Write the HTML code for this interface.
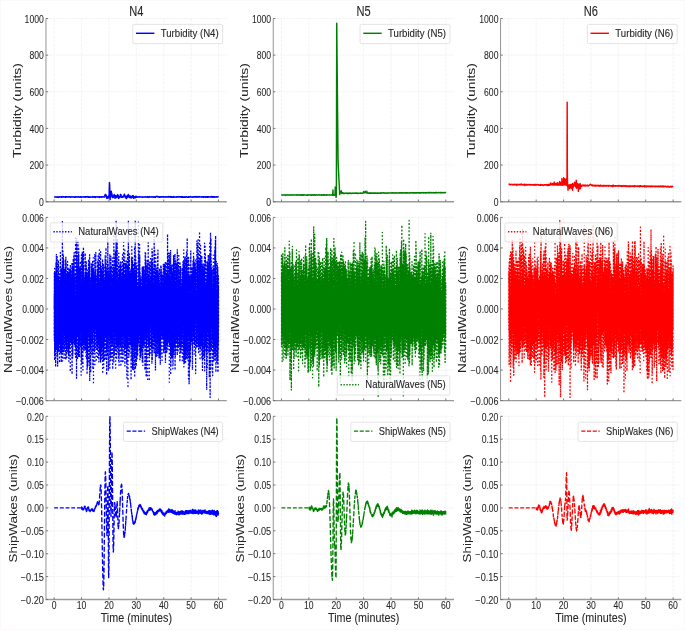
<!DOCTYPE html>
<html><head><meta charset="utf-8"><style>
html,body{margin:0;padding:0;background:#fff;}
body{width:685px;height:630px;overflow:hidden;font-family:"Liberation Sans",sans-serif;}
svg{display:block;filter:blur(0.5px);}
</style></head><body>
<svg width="685" height="630" viewBox="0 0 685 630" font-family="Liberation Sans, sans-serif">
<rect x="0" y="0" width="685" height="630" fill="#ffffff"/>
<rect x="0.5" y="0.5" width="684" height="629" fill="none" stroke="#faf8f8" stroke-width="1"/>
<defs>
<clipPath id="cp00"><rect x="58.99" y="18.5" width="232.09" height="183.2"/></clipPath>
<clipPath id="cp01"><rect x="350.77" y="18.5" width="232.09" height="183.2"/></clipPath>
<clipPath id="cp02"><rect x="642.55" y="18.5" width="232.09" height="183.2"/></clipPath>
<clipPath id="cp10"><rect x="58.99" y="217.4" width="232.09" height="183.2"/></clipPath>
<clipPath id="cp11"><rect x="350.77" y="217.4" width="232.09" height="183.2"/></clipPath>
<clipPath id="cp12"><rect x="642.55" y="217.4" width="232.09" height="183.2"/></clipPath>
<clipPath id="cp20"><rect x="58.99" y="416.3" width="232.09" height="183.2"/></clipPath>
<clipPath id="cp21"><rect x="350.77" y="416.3" width="232.09" height="183.2"/></clipPath>
<clipPath id="cp22"><rect x="642.55" y="416.3" width="232.09" height="183.2"/></clipPath>
<clipPath id="cq00"><rect x="45.95" y="18.5" width="180.8" height="183.2"/></clipPath>
<clipPath id="cq01"><rect x="273.25" y="18.5" width="180.8" height="183.2"/></clipPath>
<clipPath id="cq02"><rect x="500.55" y="18.5" width="180.8" height="183.2"/></clipPath>
<clipPath id="cq10"><rect x="45.95" y="217.4" width="180.8" height="183.2"/></clipPath>
<clipPath id="cq11"><rect x="273.25" y="217.4" width="180.8" height="183.2"/></clipPath>
<clipPath id="cq12"><rect x="500.55" y="217.4" width="180.8" height="183.2"/></clipPath>
<clipPath id="cq20"><rect x="45.95" y="416.3" width="180.8" height="183.2"/></clipPath>
<clipPath id="cq21"><rect x="273.25" y="416.3" width="180.8" height="183.2"/></clipPath>
<clipPath id="cq22"><rect x="500.55" y="416.3" width="180.8" height="183.2"/></clipPath>
</defs>
<g transform="scale(0.779 1)">
<path d="M69.54,18.5V201.7M104.7,18.5V201.7M139.87,18.5V201.7M175.03,18.5V201.7M210.2,18.5V201.7M245.36,18.5V201.7M280.53,18.5V201.7M58.99,201.7H291.08M58.99,165.06H291.08M58.99,128.42H291.08M58.99,91.78H291.08M58.99,55.14H291.08M58.99,18.5H291.08" stroke="#ebebeb" stroke-width="0.7" stroke-dasharray="3 1.2" fill="none"/>
</g>
<g clip-path="url(#cq00)"><path transform="translate(54.17 0) scale(0.164528 0.1)" d="M0,1969l1 0 1 1 1 1 1-1 1 1 1-2 1-2 1 3 1 0 1-1 1 0 1 0 1 2 1-2 1-1 1 4 1-2 1 3 1-2 1 1 1-2 1 1 1-2 1 0 1 1 1 4 1-4 1-1 1 0 1 3 1-2 1 1 1 0 1-3 1 3 1-2 1-1 1 2 1 0 1-1 1 0 1 2 1-2 1-2 1 5 1-4 1 1 1 1 1-4 1 2 1 3 1-2 1-1 1 2 1-2 1 1 1-1 1-1 1 3 1-1 1 1 1-1 1 2 1-1 1 0 1-2 1-1 1 5 1-1 1-3 1 5 1-3 1 0 1-3 1 1 1 2 1 0 1 0 1-3 1 3 1 0 1-1 1 1 1 0 1 1 1-2 1 1 1-3 1 1 1 1 1-1 1 2 1-2 1 1 1-1 1 3 1-2 1 3 1 1 1-3 1 1 1-2 1-3 1 5 1-1 1-1 1 0 1 1 1 0 1-2 1 1 1 2 1-2 1 0 1 2 1-2 1 2 1-3 1 1 1 0 1 1 1 0 1 3 1-2 1-2 1 4 1-5 1 4 1-4 1 3 1-3 1 1 1 3 1-5 1 0 1 2 1 1 1 0 1 1 1-3 1 2 1-1 1 2 1-1 1 1 1-4 1 3 1-2 1 1 1 2 1-1 1 0 1-1 1 1 1 0 1 2 1-1 1-4 1 3 1 1 1-2 1-2 1 5 1-2 1 0 1 2 1-4 1 1 1 0 1 2 1-2 1 1 1 0 1 1 1 0 1-4 1 3 1-1 1 0 1 1 1 0 1-2 1 2 1 0 1-1 1-2 1 1 1 1 1 1 1 2 1-4 1 0 1 2 1-2 1 0 1 0 1 0 1 2 1-3 1 4 1-3 1 1 1-1 1-2 1 1 1 4 1 1 1-4 1 3 1-2 1-1 1 4 1 1 1-4 1 0 1 1 1-1 1 2 1 1 1-2 1 1 1 1 1-3 1 0 1 0 1 2 1-1 1 1 1 0 1-2 1 2 1-2 1 0 1-3 1 6 1-4 1 2 1-1 1 3 1-2 1-2 1 2 1-1 1 1 1-3 1 2 1 4 1-2 1 2 1 2 1-5 1-3 1 2 1 2 1 0 1-3 1 1 1 0 1 0 1 0 1-1 1 0 1 1 1 2 1-2 1 1 1-2 1 3 1-1 1-1 1 3 1-5 1 0 1 3 1-2 1 1 1 5 1-5 1 0 1 0 1 2 1-1 1 0 1-3 1 2 1 0 1-2 1 3 1 0 1 2 1-5 1 1 1 0 1 0 1 1 1 0 1 1 1 0 1-1 1-2 1 1 1 1 1 1 1 0 1-6 1 1 1 4 1-17 1 8 1-15 1-1 1 10 1-4 1-4 1 5 1 8 1 4 1 14 1-10 1 17 1-19 1 6 1 3 1-2 1-5 1 12 1 3 1-7 1 4 1-3 1-17 1 18 1-21 1-12 1-66 1-52 1 18 1 49 1 39 1 63 1-29 1 4 1-9 1 0 1-16 1-9 1-24 1 21 1-4 1 3 1 19 1 12 1 3 1 10 1-8 1-14 1 8 1 14 1-2 1-6 1-14 1 10 1-5 1-10 1-4 1 14 1 9 1 3 1-2 1 14 1-16 1 7 1-7 1-11 1 2 1 18 1-11 1-1 1 10 1 1 1-5 1 5 1-22 1 15 1-14 1-8 1 3 1 0 1 7 1 9 1-6 1 25 1-13 1 2 1-4 1-1 1 6 1 2 1-11 1 0 1 5 1-19 1-7 1 24 1-9 1-13 1 10 1 7 1 9 1-2 1-1 1 2 1-6 1 7 1 2 1-1 1-3 1 2 1-1 1-9 1 6 1-6 1-6 1-1 1-9 1-1 1-3 1 16 1-9 1 13 1 10 1 1 1 1 1-4 1 6 1-14 1 11 1 13 1-12 1 9 1-12 1-10 1 5 1 9 1-1 1-20 1 9 1 0 1-10 1-8 1 7 1 11 1 3 1-2 1 9 1 1 1-4 1 5 1-2 1-5 1-12 1 22 1-8 1-1 1 0 1-5 1 10 1 2 1 3 1-4 1-10 1-1 1 7 1-8 1-2 1-4 1 9 1-7 1 16 1-3 1-16 1 26 1-11 1-7 1 9 1 4 1-6 1 1 1-3 1 11 1-8 1 5 1-4 1-7 1 4 1-7 1 11 1-12 1 2 1 6 1 2 1-1 1-4 1 1 1 2 1 1 1 1 1-2 1-1 1 1 1 0 1 1 1-2 1 0 1-2 1-1 1 4 1 1 1-2 1 1 1 1 1-2 1 2 1-3 1 2 1-1 1 1 1 1 1 0 1-1 1 0 1-1 1 0 1 3 1-3 1 3 1-2 1 0 1 3 1-4 1 0 1 1 1 0 1 0 1 1 1-1 1 0 1-1 1 2 1-2 1 0 1 1 1 0 1-2 1 4 1-3 1 0 1 0 1 0 1 1 1 0 1-2 1 1 1 0 1 3 1-4 1-1 1 1 1 1 1 3 1-4 1 2 1 4 1-5 1 3 1 0 1-2 1-3 1 3 1-1 1-3 1 1 1 3 1 0 1 1 1 0 1-2 1 0 1 0 1-1 1 3 1-2 1-1 1 0 1 0 1 1 1 1 1-1 1 2 1 1 1-4 1 1 1 0 1 3 1-2 1 0 1 1 1 2 1-3 1-2 1 1 1 1 1-1 1-1 1 6 1-4 1-2 1 0 1-2 1 1 1 0 1-1 1-3 1 2 1-1 1 0 1-1 1 5 1 1 1 0 1-2 1 2 1-2 1 4 1-1 1 0 1-2 1 0 1 4 1-1 1-2 1 1 1 2 1-4 1 1 1 0 1 1 1-2 1 2 1-2 1 3 1 0 1-2 1 2 1-3 1 1 1 2 1-2 1 1 1-2 1 2 1 0 1-3 1-1 1 0 1 3 1 0 1-2 1 3 1 1 1-2 1 0 1 2 1 1 1 0 1-4 1 3 1-1 1-1 1-1 1 2 1-1 1 2 1-1 1 1 1-3 1 1 1 2 1-1 1 0 1-2 1 4 1-1 1-1 1-5 1 3 1 2 1-2 1-2 1 4 1 0 1-3 1 2 1-1 1 2 1-4 1 1 1 1 1 0 1 5 1-5 1 2 1-1 1-1 1 2 1 2 1-3 1 2 1-1 1 0 1 0 1 3 1-6 1 2 1-1 1-2 1 3 1 3 1-1 1 0 1-1 1-1 1 4 1-4 1 3 1-3 1 1 1 0 1-1 1 1 1 0 1 2 1-3 1-3 1 0 1 1 1 1 1 2 1-3 1 2 1 0 1 1 1-1 1 1 1 0 1 1 1-1 1-4 1 3 1 1 1-2 1 0 1 3 1-1 1-2 1 1 1 0 1-2 1 3 1-1 1 1 1-3 1 6 1-3 1 0 1-2 1 0 1-1 1 5 1-4 1 2 1 0 1-2 1 3 1 2 1-3 1 2 1-2 1-1 1 0 1-2 1 3 1 2 1-1 1 0 1 0 1-2 1 1 1 3 1-5 1 2 1-1 1 0 1-1 1 1 1-2 1 2 1 0 1 0 1 3 1-2 1 0 1-1 1 3 1-5 1 2 1 2 1 1 1-2 1 0 1 1 1-2 1 1 1-2 1 3 1-2 1-1 1-3 1 6 1-1 1 1 1-3 1 3 1-1 1-1 1 2 1 0 1-1 1 3 1-1 1-2 1-1 1 1 1 2 1-2 1-2 1 0 1 1 1 2 1-3 1 2 1 1 1 0 1-4 1 2 1-2 1 3 1-2 1 2 1 0 1-5 1 3 1 2 1 0 1-1 1-2 1 3 1 2 1-2 1-1 1 0 1-2 1 2 1-1 1 3 1-3 1-2 1 2 1 1 1 0 1-3 1 5 1-1 1-1 1-1 1 2 1-1 1 1 1-1 1 1 1 1 1-2 1-1 1 3 1-1 1-2 1 3 1-2 1 2 1-4 1-1 1 0 1 4 1-2 1 1 1 0 1-2 1 5 1-4 1 1 1-2 1 2 1 1 1-1 1-1 1 1 1 0 1 1 1 3 1-5 1 0 1 1 1 0 1-1 1 2 1 1 1-1 1-3 1 5 1-5 1 3 1 1 1-4 1 3 1 2 1-2 1-2 1-1 1 3 1-1 1-1 1 2 1-1 1 0 1 1 1 0 1-1 1 0 1 1 1 0 1-2 1 1 1-1 1-1 1 1 1-2 1 5 1-3 1 2 1-4 1 1 1 6 1-2 1-3 1 0 1 0 1 1 1 0 1-1 1 1 1-1 1 5 1-5 1 3 1-3 1 2 1 1 1-2 1 2 1 0 1 1 1-3 1 0 1-1 1 2 1-2 1 1 1 1 1-2 1 0 1 2 1 0 1 0 1-1 1 2 1-3 1 2 1-1 1 2" stroke="#0000ff" stroke-width="1.45" fill="none" stroke-linejoin="round" vector-effect="non-scaling-stroke"/></g>
<g transform="scale(0.779 1)">
<path d="M58.99,18.5V201.7H291.08" stroke="#9a9a9a" stroke-width="1.35" fill="none"/>
<path d="M58.99,201.7h2.82M58.99,165.06h2.82M58.99,128.42h2.82M58.99,91.78h2.82M58.99,55.14h2.82M58.99,18.5h2.82M69.54,201.7v-2.2M104.7,201.7v-2.2M139.87,201.7v-2.2M175.03,201.7v-2.2M210.2,201.7v-2.2M245.36,201.7v-2.2M280.53,201.7v-2.2" stroke="#6a6a6a" stroke-width="1" fill="none"/>
<text x="56.29" y="206" font-size="10" textLength="6.17" lengthAdjust="spacingAndGlyphs" text-anchor="end" fill="#262626" stroke="#262626" stroke-width="0.06">0</text>
<text x="56.29" y="169.36" font-size="10" textLength="18.5" lengthAdjust="spacingAndGlyphs" text-anchor="end" fill="#262626" stroke="#262626" stroke-width="0.06">200</text>
<text x="56.29" y="132.72" font-size="10" textLength="18.5" lengthAdjust="spacingAndGlyphs" text-anchor="end" fill="#262626" stroke="#262626" stroke-width="0.06">400</text>
<text x="56.29" y="96.08" font-size="10" textLength="18.5" lengthAdjust="spacingAndGlyphs" text-anchor="end" fill="#262626" stroke="#262626" stroke-width="0.06">600</text>
<text x="56.29" y="59.44" font-size="10" textLength="18.5" lengthAdjust="spacingAndGlyphs" text-anchor="end" fill="#262626" stroke="#262626" stroke-width="0.06">800</text>
<text x="56.29" y="22.8" font-size="10" textLength="24.67" lengthAdjust="spacingAndGlyphs" text-anchor="end" fill="#262626" stroke="#262626" stroke-width="0.06">1000</text>
<g transform="translate(26.7 110.6) scale(1.28 1) rotate(-90) scale(1 0.79)"><text x="0" y="0" font-size="12.8" textLength="94.99" lengthAdjust="spacingAndGlyphs" text-anchor="middle" fill="#262626" stroke="#262626" stroke-width="0.02">Turbidity (units)</text></g>
<rect x="170.41" y="24.4" width="115.4" height="19.2" rx="1.67" ry="1.6" fill="#ffffff" fill-opacity="0.8" stroke="#d9d9d9" stroke-width="0.8"/>
<path d="M174.52,33.3H198.14" stroke="#0000ff" stroke-width="1.45" fill="none"/>
<text x="206.36" y="37" font-size="11" textLength="74.32" lengthAdjust="spacingAndGlyphs" text-anchor="start" fill="#262626" stroke="#262626" stroke-width="0.12">Turbidity (N4)</text>
<path d="M361.32,18.5V201.7M396.49,18.5V201.7M431.65,18.5V201.7M466.82,18.5V201.7M501.98,18.5V201.7M537.15,18.5V201.7M572.31,18.5V201.7M350.77,201.7H582.86M350.77,165.06H582.86M350.77,128.42H582.86M350.77,91.78H582.86M350.77,55.14H582.86M350.77,18.5H582.86" stroke="#ebebeb" stroke-width="0.7" stroke-dasharray="3 1.2" fill="none"/>
</g>
<g clip-path="url(#cq01)"><path transform="translate(281.47 0) scale(0.164528 0.1)" d="M0,1949l1-1 1 2 1 0 1-1 1 2 1-1 1 1 1-1 1 2 1-1 1-1 1-1 1 0 1 1 1 0 1 1 1-1 1 0 1-1 1-1 1 2 1 2 1-1 1 1 1-1 1-2 1 1 1 2 1-3 1 0 1 1 1 1 1-1 1 0 1-1 1 0 1 0 1 0 1-1 1 1 1 3 1-2 1 0 1 0 1-1 1 1 1 1 1-3 1 1 1 1 1-1 1 0 1 1 1 3 1-2 1-1 1 1 1-1 1-1 1 1 1 1 1-3 1 2 1 1 1-1 1-1 1 2 1-2 1 1 1 1 1-1 1-1 1 2 1-1 1 0 1-3 1 4 1-3 1 2 1 0 1-1 1 0 1 0 1 1 1 1 1 0 1-2 1 0 1-1 1 1 1 0 1-1 1 2 1 2 1-1 1 1 1-4 1 3 1-2 1 0 1-1 1 1 1 1 1 0 1 0 1 0 1 1 1-1 1-2 1 4 1-2 1 1 1-1 1-1 1 1 1-1 1 3 1-3 1 2 1-2 1 1 1 3 1-2 1-1 1-2 1 2 1 0 1 2 1-4 1 0 1 2 1 0 1 2 1-3 1-2 1 2 1 0 1 0 1 2 1-3 1 3 1-1 1 0 1-1 1 0 1 1 1 1 1 0 1-1 1 1 1 0 1 0 1-1 1 2 1-1 1 1 1-2 1 0 1-2 1 4 1-1 1-2 1 1 1 0 1-2 1 2 1 1 1 0 1-1 1 0 1 1 1 0 1-2 1 0 1 2 1-2 1 0 1 3 1-2 1-1 1 2 1 1 1-2 1-1 1-1 1 4 1-5 1 4 1-2 1 0 1 0 1 1 1 1 1-2 1 2 1 2 1-6 1 2 1-1 1 3 1-3 1 0 1 0 1 2 1 1 1-1 1 2 1 0 1-2 1 1 1-1 1 0 1-2 1 1 1 1 1-1 1 2 1-1 1-1 1 2 1-1 1 1 1-1 1-2 1 3 1-1 1 1 1 0 1 0 1-3 1-1 1 2 1 2 1-2 1 1 1-1 1 1 1 0 1-1 1 2 1-1 1 2 1-2 1 2 1-2 1 1 1-1 1-1 1 3 1-1 1 0 1-2 1-1 1 1 1 1 1-2 1 4 1-4 1 3 1 2 1-6 1 1 1 3 1-1 1 0 1 0 1 2 1-1 1-2 1 1 1-1 1 1 1-3 1 4 1-1 1 2 1-1 1-3 1 3 1-2 1 1 1 1 1-1 1 1 1-1 1-1 1 0 1 2 1 0 1-1 1 0 1-1 1-2 1 2 1 1 1 0 1 1 1 0 1 0 1-1 1 0 1-1 1 1 1 0 1 1 1-3 1 1 1-1 1 1 1 1 1 2 1-24 1-28 1 54 1 1 1-1 1-3 1-3 1 5 1-3 1 0 1 2 1-2 1 0 1 0 1-31 1-49 1 5 1 41 1 33 1 12 1 12 1-13 1-160 1-857 1-710 1 192 1 166 1 168 1 167 1 170 1 165 1 167 1 166 1 52 1 36 1 32 1 35 1 31 1 32 1 34 1 33 1 30 1 36 1-4 1-5 1-8 1-6 1-1 1-2 1-4 1-5 1-1 1-2 1 12 1 14 1 1 1-2 1-2 1 2 1-5 1 1 1-1 1 1 1 2 1 4 1-1 1 1 1 0 1-2 1 0 1 1 1 1 1-1 1 2 1-1 1-2 1 1 1 0 1-1 1 0 1 1 1-3 1 2 1 1 1-1 1 0 1 2 1-1 1 0 1 2 1-2 1 0 1 0 1 2 1-2 1 0 1 0 1 1 1-2 1 2 1-1 1-2 1 2 1 0 1-2 1 2 1 0 1-1 1-1 1 4 1-1 1 0 1 0 1 0 1-1 1-1 1 2 1-2 1 0 1 1 1-1 1-1 1 1 1 1 1-1 1 1 1-1 1-1 1 2 1 0 1-2 1 2 1-1 1 1 1 0 1 0 1-3 1 3 1 0 1 0 1-1 1 0 1 0 1-2 1 2 1-1 1 1 1 0 1 2 1-2 1 0 1 0 1 2 1-3 1 2 1 0 1-1 1 0 1 0 1 1 1 0 1-1 1 0 1 0 1 1 1 0 1-1 1-1 1 2 1-3 1 1 1 1 1-1 1 2 1 0 1 0 1-1 1-1 1 0 1 0 1 2 1-3 1 1 1-1 1 0 1 0 1 0 1-15 1 13 1-1 1 0 1 1 1-1 1 0 1-1 1 2 1-3 1-13 1 15 1-1 1-1 1 1 1 0 1 1 1-1 1 1 1 2 1-16 1 16 1 0 1 2 1-1 1-1 1 3 1-2 1 0 1 1 1 2 1-2 1-1 1 2 1-1 1 3 1-3 1 1 1-2 1 3 1-2 1 1 1-2 1 2 1 0 1-3 1 3 1 0 1 0 1 0 1-2 1-1 1 3 1 1 1-3 1 0 1 0 1 0 1 2 1-1 1 2 1 0 1-3 1 2 1-3 1 2 1 1 1-2 1-1 1 1 1 2 1-1 1-2 1 2 1 1 1-2 1 1 1 1 1-1 1 1 1-1 1 0 1-1 1 0 1 3 1-3 1 0 1 0 1 0 1 1 1 1 1-2 1 2 1 1 1-3 1 1 1 0 1 1 1 0 1 0 1-1 1-1 1 3 1-3 1 2 1 0 1-2 1 1 1 1 1-4 1 3 1-1 1 0 1-1 1 2 1-2 1 2 1-2 1 2 1 0 1-3 1 2 1 0 1-2 1 2 1 1 1-1 1 2 1-3 1 0 1 2 1 0 1-1 1 0 1 1 1-1 1 2 1-1 1 0 1-1 1 0 1 2 1-2 1 0 1 1 1 1 1-1 1-1 1 1 1-1 1-1 1 0 1-1 1 2 1 1 1-2 1 1 1-1 1 1 1-1 1 0 1 0 1 0 1 0 1 1 1 0 1-1 1 1 1-2 1 2 1-1 1 1 1 0 1-2 1 2 1 1 1 0 1-1 1-3 1 3 1-1 1 2 1-2 1 0 1-1 1 2 1-1 1 0 1 2 1-1 1 0 1 2 1-3 1 0 1 1 1 1 1-3 1 1 1-1 1 0 1 2 1-1 1 1 1 0 1 0 1-1 1-1 1 1 1 1 1 0 1-1 1 1 1 0 1-1 1 1 1-1 1 1 1-3 1 1 1 1 1 0 1-2 1 2 1 0 1 0 1 0 1-1 1 1 1-2 1 3 1-2 1 2 1-3 1 3 1-1 1-1 1 0 1 2 1-1 1 2 1-2 1 0 1 0 1 1 1-1 1 1 1-2 1-1 1 4 1-2 1 0 1-1 1 2 1-1 1 1 1-2 1 1 1 0 1-1 1 1 1 2 1-3 1 1 1 0 1-1 1-1 1 3 1 0 1-3 1 0 1 3 1 0 1-1 1 0 1 1 1-1 1 1 1 0 1-2 1 1 1 0 1-1 1 0 1 1 1 0 1 0 1-2 1 1 1 2 1-1 1-1 1 0 1-1 1 0 1 2 1 0 1 1 1-2 1 0 1-3 1 3 1 3 1-2 1-1 1 2 1-1 1 0 1-1 1 1 1 0 1-2 1 2 1 0 1 1 1-1 1-1 1 2 1-2 1-1 1 2 1-1 1 1 1-2 1 0 1 1 1 2 1-1 1-2 1-1 1 2 1-1 1 2 1-1 1 0 1 0 1 2 1-3 1 0 1 2 1 0 1-1 1 1 1 2 1-4 1 1 1 0 1-2 1 2 1 1 1-1 1 1 1 0 1-2 1 1 1 0 1-2 1 1 1 0 1 0 1 0 1-1 1 2 1-2 1 3 1-1 1 1 1-1 1-1 1-1 1 2 1 0 1 0 1 0 1 1 1-1 1 2 1-3 1 1 1 0 1 1 1 0 1-4 1 4 1-3 1 1 1 1 1 1 1-3 1 0 1 2 1 0 1-2 1 1 1-2 1 3 1-1 1 2 1-4 1 3 1 2 1-3 1 0 1-2 1 3 1-1 1 0 1-1 1 1 1-1 1 1 1 1 1-1 1 0 1 1 1-2 1 3 1-3 1 0 1 1 1 1 1-1 1 0 1-1 1 1 1-1 1 2 1-1 1 2 1-3 1 1 1 0 1-1 1 0 1 4 1-3 1 2 1-3 1-2 1 3 1 0 1 0 1-1 1 0 1-1 1 3 1-3 1 3 1-1 1-1 1 0 1 2 1 0 1-1 1 0 1-2 1 3 1-2 1 0 1 0 1 0 1-1 1 1 1 0 1 0 1-1 1 4 1-4 1 2 1 0 1 1 1 1 1-2 1 0 1-1 1 2 1-3 1 1 1 1 1 0 1 0 1 1 1-1 1-1 1 1 1 1 1-1 1 0 1-1 1-2 1 2 1 1 1 1 1 0 1 0 1-3 1 2 1-1 1 1 1-1 1-1 1 2" stroke="#008000" stroke-width="1.45" fill="none" stroke-linejoin="round" vector-effect="non-scaling-stroke"/></g>
<g transform="scale(0.779 1)">
<path d="M350.77,18.5V201.7H582.86" stroke="#9a9a9a" stroke-width="1.35" fill="none"/>
<path d="M350.77,201.7h2.82M350.77,165.06h2.82M350.77,128.42h2.82M350.77,91.78h2.82M350.77,55.14h2.82M350.77,18.5h2.82M361.32,201.7v-2.2M396.49,201.7v-2.2M431.65,201.7v-2.2M466.82,201.7v-2.2M501.98,201.7v-2.2M537.15,201.7v-2.2M572.31,201.7v-2.2" stroke="#6a6a6a" stroke-width="1" fill="none"/>
<text x="348.07" y="206" font-size="10" textLength="6.17" lengthAdjust="spacingAndGlyphs" text-anchor="end" fill="#262626" stroke="#262626" stroke-width="0.06">0</text>
<text x="348.07" y="169.36" font-size="10" textLength="18.5" lengthAdjust="spacingAndGlyphs" text-anchor="end" fill="#262626" stroke="#262626" stroke-width="0.06">200</text>
<text x="348.07" y="132.72" font-size="10" textLength="18.5" lengthAdjust="spacingAndGlyphs" text-anchor="end" fill="#262626" stroke="#262626" stroke-width="0.06">400</text>
<text x="348.07" y="96.08" font-size="10" textLength="18.5" lengthAdjust="spacingAndGlyphs" text-anchor="end" fill="#262626" stroke="#262626" stroke-width="0.06">600</text>
<text x="348.07" y="59.44" font-size="10" textLength="18.5" lengthAdjust="spacingAndGlyphs" text-anchor="end" fill="#262626" stroke="#262626" stroke-width="0.06">800</text>
<text x="348.07" y="22.8" font-size="10" textLength="24.67" lengthAdjust="spacingAndGlyphs" text-anchor="end" fill="#262626" stroke="#262626" stroke-width="0.06">1000</text>
<g transform="translate(318.23 110.6) scale(1.28 1) rotate(-90) scale(1 0.79)"><text x="0" y="0" font-size="12.8" textLength="94.99" lengthAdjust="spacingAndGlyphs" text-anchor="middle" fill="#262626" stroke="#262626" stroke-width="0.02">Turbidity (units)</text></g>
<rect x="462.2" y="24.4" width="115.4" height="19.2" rx="1.67" ry="1.6" fill="#ffffff" fill-opacity="0.8" stroke="#d9d9d9" stroke-width="0.8"/>
<path d="M466.31,33.3H489.93" stroke="#008000" stroke-width="1.45" fill="none"/>
<text x="498.14" y="37" font-size="11" textLength="74.32" lengthAdjust="spacingAndGlyphs" text-anchor="start" fill="#262626" stroke="#262626" stroke-width="0.12">Turbidity (N5)</text>
<path d="M653.1,18.5V201.7M688.27,18.5V201.7M723.44,18.5V201.7M758.6,18.5V201.7M793.77,18.5V201.7M828.93,18.5V201.7M864.1,18.5V201.7M642.55,201.7H874.65M642.55,165.06H874.65M642.55,128.42H874.65M642.55,91.78H874.65M642.55,55.14H874.65M642.55,18.5H874.65" stroke="#ebebeb" stroke-width="0.7" stroke-dasharray="3 1.2" fill="none"/>
</g>
<g clip-path="url(#cq02)"><path transform="translate(508.77 0) scale(0.164528 0.1)" d="M0,1848l1-1 1-5 1-1 1 2 1-1 1 4 1-1 1-1 1 3 1 0 1-2 1 1 1 1 1-3 1 2 1-3 1 2 1 1 1-1 1 1 1 1 1-1 1-2 1 0 1-1 1 6 1-3 1 0 1-1 1 1 1 1 1-3 1 1 1 3 1-5 1 0 1 4 1-3 1 3 1-4 1 3 1 1 1 0 1 0 1-2 1 0 1 1 1 1 1 7 1-8 1 4 1-5 1-2 1 2 1 2 1-1 1 0 1 1 1 0 1 1 1-4 1 2 1-2 1 3 1-1 1 1 1-2 1-1 1 2 1 2 1 0 1-5 1 4 1 0 1-4 1 1 1 1 1 2 1-6 1 5 1-1 1 2 1 3 1 0 1-4 1 0 1 1 1 2 1 1 1-3 1 3 1-5 1-1 1-3 1 4 1 3 1 1 1 6 1-7 1-1 1-2 1 1 1 0 1 1 1-1 1-2 1 5 1-1 1 2 1-6 1 0 1 2 1 4 1-3 1 1 1-1 1 1 1-2 1 2 1-2 1 1 1 1 1 0 1 0 1-2 1 2 1-1 1 1 1 3 1-5 1 4 1-4 1 1 1 4 1-1 1-1 1 1 1 0 1-4 1 2 1-1 1 2 1-2 1 3 1-2 1-1 1 1 1 1 1 1 1-2 1-1 1 2 1 1 1-3 1-4 1 6 1-1 1-1 1 7 1-6 1 2 1-5 1 4 1 1 1-1 1-1 1 2 1-1 1 2 1-2 1-2 1-3 1 3 1 1 1-2 1 0 1-1 1 1 1 3 1-1 1 0 1 0 1 0 1 3 1 2 1-3 1 3 1-4 1 0 1 4 1-6 1 0 1 2 1-4 1 0 1 7 1-5 1 1 1 0 1-1 1 4 1 0 1 0 1 0 1-1 1 3 1-1 1-4 1 2 1-1 1 5 1-3 1 0 1-2 1 2 1-4 1 3 1 0 1 0 1-2 1 3 1-4 1 2 1 0 1 1 1-1 1-1 1 0 1 1 1-1 1 2 1-3 1 3 1 5 1-8 1 3 1 3 1-3 1 2 1-7 1 4 1 5 1-5 1 1 1-4 1 6 1 1 1-11 1 6 1-1 1 0 1-7 1 4 1-1 1-14 1 18 1-2 1-7 1 3 1 2 1 2 1-3 1 6 1-4 1 5 1-14 1 7 1 5 1-6 1 3 1-2 1 7 1-6 1 7 1-8 1-22 1 27 1-2 1 4 1-18 1 14 1-8 1 9 1 4 1-4 1 1 1-11 1 3 1 2 1 9 1-9 1 4 1 2 1-18 1 2 1 21 1-1 1-25 1 24 1-2 1-12 1 6 1 8 1-2 1 2 1-2 1-11 1 14 1-7 1-30 1 27 1-3 1 0 1 12 1-2 1-13 1 12 1-4 1-19 1 0 1 27 1-3 1-62 1 66 1-12 1-22 1 20 1 12 1-11 1-2 1 13 1-3 1-70 1 63 1 7 1-2 1 5 1-19 1 13 1-57 1 58 1-12 1 0 1 14 1 3 1-19 1 17 1-55 1 54 1 3 1-13 1-14 1 32 1-58 1-775 1 684 1 126 1 33 1-9 1 46 1-55 1 8 1 3 1 4 1-6 1 20 1-21 1 14 1-17 1 35 1-42 1 17 1-17 1 29 1-19 1 2 1 0 1 0 1-11 1 35 1-27 1 21 1-30 1 42 1-19 1 8 1-41 1 67 1-48 1 10 1 11 1-18 1-13 1 11 1-16 1 17 1-6 1 9 1-13 1-24 1 25 1 1 1 8 1 2 1-28 1 38 1-7 1-7 1 4 1-55 1 80 1-37 1-9 1 29 1-6 1-9 1-15 1 34 1 8 1-31 1-8 1 23 1 52 1-71 1 22 1-21 1 16 1 3 1 1 1-22 1-1 1 50 1-1 1-54 1 30 1 15 1-20 1 6 1-2 1 1 1 0 1-10 1-4 1 5 1-3 1 2 1 0 1-2 1 3 1-6 1 5 1-6 1 7 1-4 1 4 1 1 1-4 1-1 1 5 1-6 1 5 1-2 1-1 1 0 1 5 1-8 1 3 1 2 1 1 1 2 1-1 1-4 1 2 1 2 1-2 1-4 1 4 1 1 1-5 1 2 1 1 1 2 1 2 1-1 1-2 1-1 1-2 1-2 1 0 1-1 1 1 1 1 1-5 1-1 1-1 1-2 1 3 1 0 1-1 1 1 1 4 1-1 1 3 1 3 1-1 1-4 1 7 1-4 1 0 1 0 1 5 1-6 1 4 1 1 1 0 1-2 1 1 1 1 1-4 1 5 1 1 1-4 1 0 1-1 1 5 1-5 1 1 1-2 1 6 1-3 1 1 1 3 1-2 1-4 1 4 1 0 1-3 1-1 1 0 1 4 1-1 1-3 1 4 1 0 1-3 1-2 1 6 1 4 1-3 1-1 1-2 1-1 1 1 1 2 1-2 1 2 1-2 1 1 1-7 1 4 1 4 1 0 1-1 1 3 1-2 1 0 1-4 1 3 1 1 1 1 1 0 1-2 1 0 1-3 1 4 1-4 1 2 1 1 1 4 1-2 1-4 1-1 1 2 1-1 1 3 1 0 1 0 1-3 1 1 1 1 1 1 1-2 1 0 1 3 1-6 1 3 1 1 1-3 1 1 1 2 1-1 1 3 1-1 1 4 1-8 1 7 1-5 1 3 1 0 1-1 1-1 1-1 1-3 1 4 1-2 1 4 1-3 1 1 1 1 1 0 1 0 1-1 1 0 1 2 1 0 1-3 1 5 1-2 1-5 1 10 1-5 1-3 1 5 1-9 1 11 1-8 1-1 1 2 1 2 1-1 1 3 1-4 1 4 1-1 1-3 1 4 1-1 1-1 1 3 1-5 1 1 1 4 1-3 1 2 1 0 1-2 1 2 1-4 1 4 1-4 1 2 1-2 1 4 1 0 1 1 1-4 1-1 1-2 1 2 1 2 1 1 1-1 1 1 1-4 1 2 1 4 1-1 1-4 1 2 1 1 1-3 1 4 1-1 1 1 1 3 1-6 1 5 1-2 1 1 1-4 1 2 1 0 1 4 1-4 1 3 1-4 1 0 1 1 1-4 1 3 1 0 1 1 1 1 1-3 1 0 1 5 1-5 1 1 1-1 1 1 1 4 1 0 1-7 1 4 1 4 1-4 1 1 1 4 1 1 1-2 1-4 1 1 1 0 1-1 1-1 1 6 1-4 1 2 1 1 1-2 1-1 1 0 1 3 1-2 1-5 1 6 1 2 1-5 1 0 1 0 1 4 1-5 1 4 1 1 1-1 1-2 1-1 1 0 1 1 1-2 1 2 1-2 1 5 1 1 1-5 1 4 1-2 1 0 1 1 1 0 1-5 1 9 1-7 1-3 1 5 1 0 1-2 1-2 1 6 1-2 1 0 1-1 1 0 1-1 1 3 1-1 1 1 1 0 1-1 1 0 1 3 1-6 1 3 1 3 1-5 1 4 1-3 1 1 1 0 1 0 1 1 1-1 1-4 1 9 1-5 1-1 1 4 1 0 1-7 1 5 1-5 1 3 1 1 1-1 1 0 1-1 1 2 1 0 1 0 1-2 1 1 1 4 1-1 1-2 1 2 1 0 1 1 1-2 1-1 1-1 1 2 1-5 1 5 1-7 1 5 1 1 1 2 1 5 1-6 1 0 1-4 1 7 1-7 1 5 1-2 1 7 1-6 1 1 1-2 1 1 1 3 1-5 1 1 1 0 1-1 1 0 1 2 1 3 1 1 1-6 1 1 1 1 1 2 1-1 1 0 1 0 1 1 1-6 1 4 1 2 1 2 1-2 1-3 1 0 1 2 1 0 1 1 1 1 1-5 1 2 1-4 1 7 1-2 1-2 1 3 1 2 1-1 1-2 1-1 1 1 1-2 1 0 1 2 1 0 1 1 1-2 1-1 1 2 1-1 1 2 1 3 1-1 1-4 1 0 1-2 1 3 1-1 1-1 1 0 1 4 1-1 1-1 1 3 1-3 1-2 1 4 1-6 1 5 1 0 1 0 1 1 1-2 1 1 1-4 1 3 1 0 1 1 1 3 1-3 1 2 1-4 1 2 1-4 1 3 1-1 1 2 1 0 1-1 1-1 1 4 1-3 1-4 1 6 1 0 1 1 1 2 1-6 1 2 1 0 1-4 1-1 1 7 1-4 1 1 1 1 1 0 1 1 1-4 1 2 1 1 1-2 1 1 1 1 1 0 1-3 1 3 1 1 1 2 1-1 1 1 1-2 1-1 1 5 1-4 1-1 1 1 1 2 1-5 1 5 1 1 1 0 1-3 1-2 1 0 1 2 1 3 1-1 1 0 1-1 1 3 1-4 1-1 1 2 1-2 1 4 1 1 1-2 1-4 1 0 1 4 1-4 1 3 1-4 1 3 1 2 1-3 1 3 1 1 1 1" stroke="#ff0000" stroke-width="1.45" fill="none" stroke-linejoin="round" vector-effect="non-scaling-stroke"/></g>
<g transform="scale(0.779 1)">
<path d="M642.55,18.5V201.7H874.65" stroke="#9a9a9a" stroke-width="1.35" fill="none"/>
<path d="M642.55,201.7h2.82M642.55,165.06h2.82M642.55,128.42h2.82M642.55,91.78h2.82M642.55,55.14h2.82M642.55,18.5h2.82M653.1,201.7v-2.2M688.27,201.7v-2.2M723.44,201.7v-2.2M758.6,201.7v-2.2M793.77,201.7v-2.2M828.93,201.7v-2.2M864.1,201.7v-2.2" stroke="#6a6a6a" stroke-width="1" fill="none"/>
<text x="639.86" y="206" font-size="10" textLength="6.17" lengthAdjust="spacingAndGlyphs" text-anchor="end" fill="#262626" stroke="#262626" stroke-width="0.06">0</text>
<text x="639.86" y="169.36" font-size="10" textLength="18.5" lengthAdjust="spacingAndGlyphs" text-anchor="end" fill="#262626" stroke="#262626" stroke-width="0.06">200</text>
<text x="639.86" y="132.72" font-size="10" textLength="18.5" lengthAdjust="spacingAndGlyphs" text-anchor="end" fill="#262626" stroke="#262626" stroke-width="0.06">400</text>
<text x="639.86" y="96.08" font-size="10" textLength="18.5" lengthAdjust="spacingAndGlyphs" text-anchor="end" fill="#262626" stroke="#262626" stroke-width="0.06">600</text>
<text x="639.86" y="59.44" font-size="10" textLength="18.5" lengthAdjust="spacingAndGlyphs" text-anchor="end" fill="#262626" stroke="#262626" stroke-width="0.06">800</text>
<text x="639.86" y="22.8" font-size="10" textLength="24.67" lengthAdjust="spacingAndGlyphs" text-anchor="end" fill="#262626" stroke="#262626" stroke-width="0.06">1000</text>
<g transform="translate(609.63 110.6) scale(1.28 1) rotate(-90) scale(1 0.79)"><text x="0" y="0" font-size="12.8" textLength="94.99" lengthAdjust="spacingAndGlyphs" text-anchor="middle" fill="#262626" stroke="#262626" stroke-width="0.02">Turbidity (units)</text></g>
<rect x="753.98" y="24.4" width="115.4" height="19.2" rx="1.67" ry="1.6" fill="#ffffff" fill-opacity="0.8" stroke="#d9d9d9" stroke-width="0.8"/>
<path d="M758.09,33.3H781.71" stroke="#ff0000" stroke-width="1.45" fill="none"/>
<text x="789.93" y="37" font-size="11" textLength="74.32" lengthAdjust="spacingAndGlyphs" text-anchor="start" fill="#262626" stroke="#262626" stroke-width="0.12">Turbidity (N6)</text>
<path d="M69.54,217.4V400.6M104.7,217.4V400.6M139.87,217.4V400.6M175.03,217.4V400.6M210.2,217.4V400.6M245.36,217.4V400.6M280.53,217.4V400.6M58.99,400.6H291.08M58.99,370.07H291.08M58.99,339.53H291.08M58.99,309H291.08M58.99,278.47H291.08M58.99,247.93H291.08M58.99,217.4H291.08" stroke="#ebebeb" stroke-width="0.7" stroke-dasharray="3 1.2" fill="none"/>
</g>
<g clip-path="url(#cq10)"><path transform="translate(54.17 0) scale(0.027399 0.1)" d="M0,3063l1 28 1-62 1-90 1 427 1-234 1 250 1-651 1 305 1-306 1 335 1 352 1-257 1-251 1 243 1-119 1-349 1 517 1 404 1-469 1 120 1 303 1-408 1-264 1 375 1 287 1-386 1-157 1 285 1-160 1-409 1 167 1 359 1-229 1 11 1 302 1-187 1-391 1 229 1-85 1 434 1 75 1 78 1-152 1-490 1 88 1 245 1-404 1 376 1 60 1-275 1-188 1 552 1-462 1 59 1 775 1-416 1-166 1-233 1 269 1-232 1 33 1 568 1-315 1-84 1-101 1 147 1-516 1 237 1 473 1-205 1-262 1-48 1 526 1-713 1 254 1 391 1 121 1-487 1 576 1-560 1-386 1 754 1-34 1 139 1-249 1-148 1-358 1 513 1-51 1-110 1-220 1 377 1 331 1-498 1-135 1 198 1 155 1-248 1 248 1 172 1-279 1 59 1-34 1-371 1 273 1 539 1-468 1-130 1-399 1 466 1-23 1 227 1-210 1-196 1 419 1-63 1-242 1 81 1-39 1 354 1-87 1-354 1 240 1-245 1 13 1-45 1 799 1-143 1-533 1 353 1-367 1-270 1-28 1 369 1-72 1 220 1 237 1-192 1-328 1 262 1 83 1-133 1 27 1 261 1 68 1-621 1 76 1-60 1 51 1 423 1 169 1-802 1 30 1-94 1-46 1 534 1 23 1 131 1-288 1-153 1 150 1-78 1 302 1 50 1 9 1-189 1 31 1-174 1-210 1 98 1 335 1 134 1-92 1-67 1 49 1-414 1 98 1 222 1 427 1-565 1 382 1-79 1-395 1 123 1 133 1 185 1 46 1 77 1-551 1-64 1 310 1 11 1 287 1-616 1 815 1-569 1-319 1 477 1-181 1-182 1 229 1 236 1-346 1-120 1 55 1 158 1-211 1 512 1-135 1 26 1-105 1-205 1-291 1 74 1 557 1-45 1 2 1-211 1 15 1 342 1-553 1 548 1 100 1-46 1-56 1-88 1-559 1-212 1 655 1-95 1 114 1 342 1-420 1-337 1 145 1 168 1 23 1 192 1 219 1-307 1-322 1 27 1 7 1-120 1 406 1-52 1-153 1-288 1-42 1 484 1-244 1-184 1 453 1 136 1-556 1-86 1 294 1 119 1-268 1 789 1-512 1-171 1 284 1-448 1 78 1 508 1-97 1 21 1 81 1-182 1-262 1-180 1 355 1 255 1-258 1 10 1-226 1 32 1-138 1 246 1 506 1-217 1-470 1 259 1-127 1-221 1 460 1-6 1 76 1-124 1 360 1-874 1 283 1 485 1-184 1-23 1 41 1 219 1-638 1-620 1 1127 1-298 1 139 1 115 1 323 1-467 1-334 1 257 1-370 1 539 1 89 1-633 1 408 1 36 1-96 1-92 1-27 1 425 1 53 1-445 1-443 1 248 1 659 1-312 1 426 1-422 1-25 1-366 1 82 1-147 1 381 1 301 1-200 1-275 1 198 1-27 1-478 1 475 1 262 1 33 1-36 1 57 1 152 1-894 1 348 1 298 1-320 1 223 1 40 1 240 1-563 1 83 1-139 1-73 1 270 1 510 1-134 1-632 1 289 1-186 1 237 1 189 1 315 1-708 1 122 1-41 1-96 1 194 1 214 1 18 1-441 1 39 1 237 1-127 1-322 1 677 1-282 1-109 1 211 1-19 1-350 1 153 1 235 1 286 1-274 1-46 1-473 1 569 1-337 1 458 1-272 1 133 1-98 1-453 1 27 1 207 1 219 1 147 1-199 1 220 1-158 1-347 1 251 1-59 1 105 1 243 1-320 1-221 1-219 1 422 1 81 1 42 1 203 1-188 1-158 1 191 1-145 1 231 1-287 1 559 1 42 1-573 1-31 1 382 1-587 1-211 1 1038 1-640 1 234 1-54 1-65 1 67 1-430 1 491 1 223 1-279 1 275 1-310 1-478 1 659 1 61 1-153 1-275 1 14 1 197 1-197 1-68 1 422 1-62 1-273 1-18 1 57 1-163 1 24 1 673 1-418 1 300 1-559 1 59 1-118 1 230 1 560 1-674 1 7 1 577 1-568 1-198 1 582 1-473 1-106 1 482 1 161 1-459 1 321 1-225 1-267 1 452 1-123 1 357 1 60 1-457 1 208 1-414 1 326 1-95 1 401 1-427 1 180 1-78 1-524 1 257 1 454 1 188 1-612 1 138 1 115 1-384 1 344 1 298 1-45 1-285 1 118 1 48 1-581 1 105 1 362 1-202 1 299 1 109 1-321 1-186 1-39 1 562 1-570 1 563 1 44 1-7 1-640 1-14 1 108 1-4 1 681 1 16 1-321 1-109 1-305 1 154 1-5 1 180 1 435 1-260 1-138 1-207 1-93 1-76 1 223 1 603 1-375 1-196 1 310 1-366 1-309 1 318 1 95 1 36 1 69 1-286 1 14 1-121 1 127 1 380 1-49 1-27 1-206 1-286 1 107 1 199 1 429 1-159 1-50 1 75 1-239 1 37 1 153 1-173 1 237 1-54 1-465 1 58 1-202 1 315 1 218 1-12 1 356 1-548 1 115 1-407 1 171 1 434 1-320 1 65 1 243 1-543 1 611 1-475 1 294 1-136 1 641 1-38 1-709 1-325 1 396 1-352 1 454 1 248 1-356 1-231 1 575 1-597 1-14 1 662 1-478 1-187 1 623 1-552 1 27 1 9 1-34 1 312 1-75 1-100 1-23 1-255 1 440 1 275 1-519 1 419 1-14 1 132 1-506 1 230 1-400 1 476 1-81 1 253 1-412 1 208 1-234 1 113 1-227 1 179 1 442 1-297 1-131 1-116 1 93 1-3 1 105 1 180 1-538 1 363 1-106 1-341 1 568 1 204 1 122 1-365 1-586 1 442 1-363 1 156 1 728 1 156 1-778 1 170 1 313 1-746 1 410 1-238 1 65 1 350 1 166 1-385 1 58 1-467 1 655 1-331 1 113 1 282 1 57 1-562 1 363 1-119 1 17 1-173 1 620 1-644 1 66 1 140 1-370 1-123 1 464 1 420 1-268 1-8 1-210 1-331 1 109 1 210 1 258 1-30 1-403 1 26 1 186 1-248 1-241 1 675 1 3 1-581 1 448 1 67 1-519 1 550 1 169 1-269 1 40 1 178 1-269 1-166 1-90 1 560 1-117 1-459 1 554 1-688 1-123 1 528 1 368 1-419 1 101 1-25 1-150 1-350 1 171 1 520 1-495 1 469 1 156 1-382 1-518 1 325 1 507 1-325 1 326 1-7 1-246 1 139 1-375 1 246 1-18 1 361 1-14 1-551 1 67 1 203 1-111 1 49 1 40 1 106 1-213 1 145 1-103 1-296 1 581 1-376 1 399 1-146 1-309 1 48 1-188 1 325 1 442 1-412 1-202 1 490 1-681 1 267 1 130 1-59 1 38 1-40 1 365 1-231 1-35 1 63 1 76 1 29 1-153 1 268 1-54 1-1034 1 807 1 95 1-496 1 275 1 514 1-248 1-203 1-310 1 208 1 127 1 159 1-203 1 226 1-251 1 236 1-845 1 138 1 505 1 224 1-380 1 540 1-497 1 104 1 104 1 209 1-83 1-329 1 27 1-22 1-15 1-181 1 453 1-288 1 351 1 453 1-623 1-780 1 483 1 367 1-257 1 114 1 128 1-43 1-374 1 134 1 324 1 44 1-111 1-30 1-208 1-198 1 142 1-338 1 414 1 66 1-50 1 87 1-221 1-37 1-153 1 246 1 276 1 166 1-22 1-571 1 338 1 168 1-304 1 636 1-54 1-440 1 135 1-375 1 299 1-306 1 283 1-122 1-76 1 155 1-19 1-229 1-172 1 675 1-210 1 16 1 17 1-13 1-760 1 632 1 102 1-16 1-80 1 163 1-163 1-409 1 589 1-85 1 207 1-210 1 443 1-256 1-460 1-176 1 285 1 3 1-51 1 640 1-15 1-569 1 72 1-268 1-234 1 919 1-565 1-68 1-40 1 171 1-473 1 407 1 404 1 41 1 64 1-467 1 159 1-249 1-43 1 605 1-336 1 263 1-399 1 486 1-623 1 218 1 160 1 223 1 165 1-158 1-279 1-402 1 419 1 431 1-204 1-190 1 204 1-63 1-646 1 11 1 294 1 325 1-177 1 230 1 99 1-774 1 209 1 286 1-413 1 232 1 197 1-245 1-199 1 453 1-90 1-342 1 529 1 73 1-268 1-445 1 94 1 61 1 125 1 32 1 300 1-65 1-465 1 224 1 130 1-487 1 589 1 33 1 232 1-652 1 490 1-198 1 99 1-481 1 605 1-221 1-164 1 245 1-398 1 300 1-1 1 224 1-270 1 154 1 274 1-228 1-206 1-74 1 108 1-22 1 641 1 61 1-742 1-71 1 262 1-198 1 149 1 424 1-165 1-527 1 25 1 159 1-520 1 614 1 186 1 86 1-413 1-140 1 29 1 40 1 77 1 339 1 230 1 48 1-1046 1 230 1 44 1 566 1 170 1-664 1 668 1-434 1-386 1 2 1 152 1 397 1-627 1 620 1 105 1-554 1-361 1 571 1-44 1 205 1 176 1-483 1-328 1-110 1 650 1 247 1-56 1-47 1-159 1-318 1 291 1-93 1 70 1-17 1 236 1 5 1-495 1 37 1 144 1 145 1-154 1 370 1 332 1-825 1 127 1 192 1-223 1 105 1 240 1-38 1-182 1 276 1-715 1 525 1-70 1 109 1-44 1-230 1-1 1-192 1 13 1-297 1 1047 1-344 1 10 1 92 1-343 1-419 1 660 1 235 1-373 1 29 1-216 1-70 1-28 1 348 1 64 1 5 1 325 1-213 1-267 1-152 1 258 1-321 1 157 1 135 1 342 1-246 1-272 1 75 1 126 1-25 1 30 1 148 1-73 1-193 1 163 1-232 1 317 1 111 1-176 1-162 1 148 1-15 1-282 1 31 1 258 1 162 1-5 1-526 1 182 1-213 1 164 1 583 1-190 1-267 1-103 1 70 1 396 1-387 1 172 1-245 1 53 1-270 1 14 1-223 1 271 1 684 1-497 1 87 1 314 1-472 1-194 1 363 1 87 1-25 1 39 1 226 1-483 1 283 1-149 1 340 1-266 1 25 1 186 1-282 1-188 1-161 1 498 1-391 1 755 1-134 1-418 1 101 1-129 1-213 1 410 1 109 1 103 1 50 1-379 1 131 1-602 1 503 1-164 1 454 1-675 1 295 1-43 1-308 1 84 1 225 1-74 1 296 1 250 1 147 1-717 1-96 1 353 1 20 1 74 1 170 1-263 1-409 1 563 1-278 1 383 1-175 1 232 1-293 1-127 1 162 1-57 1 120 1 483 1-296 1-222 1-241 1 226 1 299 1-470 1 137 1 495 1-569 1 74 1-137 1-145 1-48 1 314 1 343 1-564 1 165 1-109 1-226 1 197 1 527 1-281 1 128 1-66 1 33 1-609 1 223 1 744 1-528 1-407 1 101 1 395 1-407 1-30 1 233 1 186 1 154 1-251 1-98 1 73 1-111 1 129 1 37 1-80 1 104 1-125 1-178 1 333 1-207 1-197 1 1 1 579 1-212 1-567 1 96 1 299 1-132 1 483 1-66 1 44 1 298 1-577 1 53 1 256 1 11 1-38 1-154 1-92 1-98 1-163 1-90 1 630 1 2 1-138 1 29 1 151 1-473 1 107 1-265 1 566 1-139 1 40 1-457 1 282 1-175 1 436 1-46 1-119 1-137 1 433 1-586 1-317 1 695 1-35 1 112 1 492 1-596 1-580 1 347 1 487 1-430 1 91 1 25 1-126 1-88 1-86 1 565 1-626 1 315 1 60 1-168 1-16 1 30 1 182 1 147 1-173 1 188 1 56 1-569 1 178 1-128 1 137 1 454 1-267 1-149 1 4 1 109 1-183 1-131 1 366 1 490 1-705 1 398 1-199 1-241 1-206 1 670 1-404 1-11 1 21 1-98 1 107 1 382 1-393 1-103 1-34 1 461 1-122 1-407 1 362 1 17 1 21 1-432 1 637 1-504 1-35 1 312 1-587 1 590 1-239 1 39 1 337 1-180 1-435 1 281 1 168 1 111 1 144 1-388 1-22 1-153 1-198 1-49 1 166 1 321 1 420 1-747 1 220 1-11 1 40 1 342 1 165 1-345 1 121 1-22 1-226 1-406 1 455 1 185 1-402 1 314 1-138 1 63 1-417 1 308 1 143 1 44 1 198 1-117 1-279 1-417 1 267 1 495 1-394 1 391 1-181 1-152 1 102 1-291 1 118 1 346 1 375 1-290 1-205 1-213 1-64 1-229 1 432 1-47 1-9 1 15 1 226 1-446 1-76 1-210 1 493 1 54 1-416 1 555 1-284 1-78 1-217 1 536 1 623 1-1024 1 492 1-458 1 48 1 70 1 196 1-2 1 160 1-395 1-13 1-123 1 85 1 459 1-551 1 360 1 43 1-267 1 53 1 273 1-128 1-83 1-61 1 238 1-9 1-480 1 136 1 27 1 108 1 521 1-417 1 45 1-378 1 568 1-480 1 321 1-83 1-107 1-193 1 383 1 41 1-117 1-237 1 384 1 38 1-297 1-75 1-4 1-372 1 447 1 282 1 380 1-304 1-98 1 27 1-493 1-17 1 604 1-32 1-110 1-60 1-14 1-435 1 193 1 262 1-135 1 124 1 73 1-530 1 104 1 14 1 349 1 46 1 80 1 180 1-427 1-111 1 137 1-200 1 219 1-77 1 282 1-410 1 95 1-1 1-458 1 328 1 216 1 251 1-420 1 254 1 45 1-314 1-74 1 548 1 35 1-240 1-114 1 248 1-102 1-229 1 661 1-98 1-288 1 62 1-268 1-82 1-3 1 519 1-32 1-401 1 75 1 78 1-425 1 132 1 314 1-289 1 320 1-63 1-149 1-158 1 300 1-109 1 53 1 65 1 140 1-203 1-105 1-103 1 586 1-393 1 405 1-66 1-452 1-65 1 167 1-109 1 103 1 230 1 159 1-634 1-42 1 141 1 313 1-396 1 645 1-196 1 54 1-743 1 782 1-676 1 55 1 821 1-174 1-559 1-9 1 572 1-415 1 123 1 307 1 17 1-665 1 341 1 43 1-238 1-174 1 321 1 366 1-577 1 576 1-240 1-443 1-200 1 689 1-113 1-227 1 271 1-234 1-299 1 219 1 150 1-80 1 243 1-135 1 521 1-513 1-382 1 338 1 156 1-55 1 68 1 113 1-525 1 255 1 41 1-78 1-11 1 647 1-368 1-407 1 440 1 13 1-495 1 388 1 225 1-268 1 88 1-710 1 610 1-177 1 506 1-33 1-562 1 250 1-95 1-23 1-502 1 643 1 396 1-528 1 264 1-214 1-202 1-55 1 325 1 272 1 47 1-364 1 151 1-410 1 141 1 558 1-131 1-517 1 611 1-185 1-122 1-164 1 152 1-63 1 55 1 339 1-152 1-420 1-27 1 186 1-443 1 459 1 262 1-4 1-589 1 451 1 115 1-229 1-90 1 598 1-648 1 69 1 344 1-352 1-511 1 785 1 319 1-519 1-257 1 100 1 72 1-218 1 265 1 23 1-326 1 432 1-251 1 57 1-287 1 588 1 100 1-323 1 340 1-352 1-34 1-205 1 294 1 118 1-127 1-20 1-430 1 499 1-343 1 303 1 148 1-207 1 458 1-222 1-592 1 617 1-345 1-58 1 369 1-15 1-60 1-163 1-296 1 543 1-491 1 328 1 454 1-285 1-206 1-196 1 409 1-400 1 259 1-112 1 405 1-584 1 598 1-546 1-72 1 143 1 464 1 128 1-144 1-506 1-2 1 42 1-87 1 521 1-96 1 126 1-421 1-435 1 417 1 5 1-3 1-284 1 1010 1-465 1-421 1 288 1-151 1 96 1-119 1 465 1-187 1-136 1-326 1 251 1 82 1 238 1-326 1 88 1-274 1 253 1 32 1-489 1 270 1 622 1-218 1-293 1 60 1 156 1-583 1 269 1 474 1 206 1-399 1-83 1-247 1 47 1-109 1 491 1 98 1 281 1-258 1-98 1-477 1 111 1 51 1 198 1 203 1-611 1 168 1-104 1 213 1 406 1-454 1 130 1-157 1-189 1-152 1 125 1 415 1-12 1 93 1 308 1-529 1-126 1-26 1 160 1 359 1-131 1-213 1 320 1-326 1-33 1 203 1-125 1 185 1 304 1-605 1-84 1 381 1-391 1-138 1 579 1-111 1-279 1 165 1-259 1-83 1 376 1 36 1-83 1-152 1 326 1-313 1-421 1 362 1 116 1-58 1 186 1-52 1 17 1-527 1 385 1 338 1-151 1 32 1 23 1-245 1 62 1 64 1-25 1-74 1 197 1-373 1 25 1 4 1-5 1-36 1 149 1 619 1-237 1-280 1-591 1 900 1-673 1 310 1 63 1 349 1-374 1-312 1 284 1-292 1 225 1 386 1 48 1-195 1-133 1-266 1 312 1 129 1 20 1-279 1-70 1-45 1-25 1 141 1-102 1 872 1-380 1-357 1 494 1-5 1-434 1-207 1 104 1-288 1 195 1 697 1-6 1-781 1-70 1 747 1-249 1 48 1 62 1-170 1-421 1 8 1 332 1-182 1-91 1 763 1-237 1-552 1-155 1 373 1-236 1 504 1-64 1 49 1-445 1 141 1-55 1-241 1 350 1 483 1-529 1 386 1-474 1-492 1 400 1 329 1 215 1-355 1 210 1-211 1-43 1 17 1 225 1 124 1 180 1-707 1 336 1 73 1-528 1 526 1-1 1-173 1 422 1 306 1-873 1-29 1 113 1 345 1-88 1 36 1-1 1-335 1-41 1 433 1-541 1 583 1 18 1-107 1-224 1-174 1 6 1-152 1 344 1 425 1-457 1 202 1-222 1-92 1-90 1 576 1 289 1-823 1 245 1 282 1-178 1-332 1 61 1 431 1-426 1 93 1-9 1-289 1 186 1 182 1 294 1-107 1-262 1 297 1-439 1 108 1 172 1 196 1-420 1 276 1-29 1-621 1 850 1-68 1 371 1-571 1 67 1-109 1-263 1 212 1-291 1 281 1 146 1 383 1-407 1-152 1 5 1 17 1-55 1 313 1-152 1 306 1-273 1-245 1 90 1-83 1 273 1 179 1-34 1-23 1-420 1 298 1-274 1 46 1 398 1-688 1 654 1-79 1-302 1-381 1 585 1 459 1-646 1 340 1-101 1-434 1 173 1 243 1-6 1 23 1-65 1 264 1-449 1 76 1 364 1-532 1 187 1 31 1 366 1-512 1-52 1 474 1-339 1 236 1 99 1 225 1-831 1-9 1 249 1 232 1-22 1-85 1 232 1-430 1 5 1 346 1-601 1 798 1-138 1-25 1 22 1-370 1-25 1-43 1 340 1 52 1-232 1-33 1-257 1 88 1-150 1 91 1 684 1-135 1-323 1 52 1-362 1-112 1 429 1 232 1-3 1-6 1 75 1-508 1 88 1 222 1 79 1 53 1 20 1 434 1-798 1-29 1 131 1 70 1 390 1-666 1 474 1-332 1 254 1-283 1 63 1 149 1 122 1-188 1-14 1 23 1-307 1 153 1 134 1-188 1 408 1-236 1-126 1 188 1-245 1 111 1 481 1-111 1-357 1-10 1-63 1-220 1 248 1 270 1 123 1-194 1-210 1 482 1-675 1-368 1 1273 1-718 1 559 1-341 1-431 1-204 1 666 1 316 1-37 1-399 1 306 1-326 1-274 1 169 1 142 1 26 1 457 1-505 1 530 1-977 1 539 1 1 1 30 1 177 1 17 1-259 1 3 1-237 1 269 1-379 1 569 1 175 1-525 1-192 1 444 1-221 1-302 1 795 1 14 1-465 1 225 1 268 1-327 1-329 1 284 1 27 1-166 1 331 1-423 1-321 1 466 1 6 1 245 1-235 1 30 1 240 1-840 1 586 1 138 1 45 1-220 1 110 1-107 1-545 1 368 1 354 1 440 1-444 1 132 1-125 1-262 1-136 1 50 1-214 1 304 1 503 1-459 1 92 1-276 1 117 1 149 1 138 1 165 1-1211 1 454 1-247 1 394 1-69 1 473 1 217 1-760 1 396 1-93 1-40 1-138 1 458 1-36 1 141 1-261 1-287 1 253 1-42 1-60 1 244 1-290 1 683 1-526 1 6 1 81 1-37 1-132 1 443 1 22 1-222 1-391 1 317 1-438 1 313 1 194 1 178 1-729 1-288 1 631 1 27 1-219 1 578 1 62 1-593 1 120 1 49 1 281 1-171 1-100 1 487 1-140 1-366 1-380 1 315 1 84 1 114 1 129 1-175 1 212 1-345 1 5 1-263 1 735 1-309 1 87 1 148 1-561 1 177 1-215 1 433 1-120 1-177 1-10 1 72 1 201 1-6 1-47 1 309 1-393 1 130 1 257 1-381 1 25 1 241 1-99 1-215 1 11 1 353 1-408 1-388 1 361 1 119 1 550 1-70 1-373 1-173 1-460 1 516 1-79 1 395 1 217 1-249 1-294 1-18 1-63 1-52 1 46 1 703 1-499 1-233 1-206 1 315 1-204 1 481 1-16 1-184 1 52 1 13 1-219 1-220 1 635 1-203 1 71 1-502 1 116 1 146 1-47 1-302 1 512 1-117 1 225 1-57 1-473 1-34 1 578 1-314 1 110 1 363 1-418 1-97 1-235 1 516 1-146 1 384 1-207 1 304 1-672 1 515 1-299 1-180 1 110 1 101 1 345 1-843 1 3 1 660 1-156 1 88 1 164 1-168 1 248 1-573 1 180 1 36 1-194 1 533 1-432 1-88 1 213 1-377 1-68 1 500 1 477 1-349 1-349 1 216 1-568 1 147 1 282 1 178 1 131 1-174 1 147 1 82 1-254 1-223 1 394 1-153 1 339 1-151 1-577 1 14 1 374 1-311 1 268 1 217 1-294 1 233 1-541 1 535 1-44 1-11 1 72 1-22 1-374 1-36 1-92 1-108 1 262 1 274 1 169 1-164 1-350 1 172 1-275 1 655 1-579 1 702 1-508 1-171 1 441 1-323 1 464 1 190 1 9 1-575 1 7 1 4 1-500 1 187 1 552 1-51 1-70 1 96 1-544 1 11 1 343 1 204 1-236 1 205 1-74 1-195 1-464 1 268 1 662 1-309 1-55 1 288 1-556 1-70 1 154 1 204 1-101 1 160 1 438 1-436 1-105 1-371 1 262 1 0 1 310 1 160 1-271 1-392 1 338 1-473 1 332 1 335 1 60 1-306 1-50 1-269 1-316 1 790 1 54 1-115 1 103 1-35 1-91 1 175 1-457 1 455 1-36 1-165 1 25 1-542 1 182 1 43 1 544 1-228 1 95 1 55 1-59 1-262 1-65 1 158 1-1 1 285 1-90 1 298 1-913 1 372 1 74 1-223 1 468 1-165 1-20 1-389 1 344 1-96 1-253 1 651 1 88 1-358 1-269 1-364 1 604 1 288 1 27 1 257 1-484 1-200 1 252 1-187 1 267 1-68 1 230 1-597 1-18 1 371 1-301 1-14 1 201 1 495 1-484 1-344 1 308 1-315 1 143 1 548 1-428 1 47 1 107 1-252 1-293 1 649 1-203 1 178 1-138 1 297 1-171 1-638 1 322 1 244 1-44 1 30 1 168 1 217 1-551 1 6 1-92 1-169 1 639 1-406 1 94 1-290 1 312 1 17 1-442 1 587 1 124 1-513 1-262 1 710 1-349 1-61 1-45 1-4 1 253 1-164 1-62 1-235 1 285 1 106 1 396 1 194 1-259 1-332 1-360 1 620 1 241 1-295 1 531 1-706 1-170 1 492 1-685 1 484 1-302 1 179 1 228 1-202 1-475 1 218 1 264 1 270 1-333 1 260 1-532 1 57 1 98 1 260 1-313 1 314 1 297 1-663 1-307 1 525 1 171 1-487 1 595 1-512 1 355 1-431 1 520 1-288 1-292 1 400 1 385 1-806 1 195 1 244 1 792 1-985 1-7 1 581 1-351 1 109 1-385 1 58 1-251 1 381 1 348 1-397 1-20 1 390 1-647 1-498 1 975 1-111 1 306 1-247 1 143 1-590 1 159 1 486 1-427 1 252 1 329 1-319 1-129 1-247 1 288 1 33 1-132 1 604 1-586 1 272 1-670 1 392 1 21 1 242 1-7 1-28 1-265 1-186 1 304 1-135 1 84 1 124 1 63 1-262 1 77 1-222 1-258 1 744 1-295 1 180 1-242 1-135 1 123 1-157 1 112 1 662 1-239 1-88 1-62 1-300 1 47 1-153 1 626 1-203 1-187 1 59 1-153 1-156 1 185 1 242 1-178 1 461 1-230 1 2 1-199 1 272 1-460 1 357 1 69 1 174 1-479 1-5 1 267 1-387 1 585 1-187 1-500 1 384 1-161 1 383 1-403 1 490 1-181 1 106 1 19 1-78 1 32 1-396 1-20 1 533 1 29 1-240 1-143 1 387 1-759 1 281 1 825 1-846 1 481 1-232 1-483 1 398 1 305 1 61 1-109 1-171 1 121 1-279 1-154 1 197 1 275 1-305 1 178 1 231 1-886 1 491 1-172 1 361 1-245 1 164 1-62 1-449 1 361 1-563 1 480 1 271 1 370 1-760 1-185 1 280 1-49 1-192 1 327 1 407 1-123 1-460 1 153 1 275 1-538 1 632 1 122 1-463 1-20 1 27 1-37 1-370 1 396 1 684 1-518 1 527 1-149 1-874 1-99 1 508 1 187 1-112 1-222 1 426 1-201 1-262 1 66 1 178 1 62 1-169 1 432 1-468 1-73 1 272 1-320 1 261 1 293 1-139 1-104 1-484 1 130 1 5 1 401 1 54 1-344 1 92 1-414 1 78 1 536 1-494 1 387 1 7 1-461 1 179 1 142 1-230 1 676 1-258 1 508 1-998 1 438 1-222 1-142 1 148 1 332 1-9 1 161 1-182 1-434 1 210 1 147 1-324 1 143 1-162 1 391 1-217 1-353 1 203 1 388 1 225 1-140 1 260 1-838 1 140 1 127 1 93 1 2 1 3 1 349 1-89 1-884 1 652 1 52 1 21 1 577 1-426 1-436 1 170 1-134 1 197 1-396 1 751 1-159 1-411 1 281 1-202 1-94 1 191 1 202 1-157 1-112 1 64 1-7 1-299 1-591 1 897 1 65 1-372 1 615 1-51 1-69 1-548 1 950 1-422 1-291 1 485 1-241 1-355 1-103 1 741 1-371 1-121 1 221 1-161 1-508 1 314 1 285 1 29 1-147 1 333 1-394 1-176 1-82 1 532 1-218 1 85 1 156 1-385 1-106 1 13 1-146 1 167 1 593 1 242 1-668 1 8 1-37 1 53 1-337 1 305 1 611 1-521 1-17 1 258 1-516 1 124 1 208 1-271 1 11 1-8 1 311 1-62 1-485 1 639 1 22 1-78 1-68 1-488 1 258 1 10 1 222 1 32 1 202 1 209 1-323 1-384 1 154 1 314 1-6 1-113 1 102 1 157 1-532 1-115 1 296 1 211 1-116 1 130 1-333 1 167 1-378 1 339 1-190 1 69 1 521 1-217 1-392 1-89 1 265 1 93 1 93 1 7 1-363 1 134 1 29 1-111 1-90 1 444 1 99 1-327 1-89 1 58 1 26 1-164 1 345 1-181 1-245 1 192 1-232 1 115 1-753 1 1204 1-183 1 17 1-43 1-105 1-164 1 135 1 78 1 65 1-70 1 15 1 104 1-323 1-398 1 363 1 230 1 187 1 107 1-267 1-422 1-287 1 673 1-123 1 198 1 160 1-49 1-169 1-370 1 243 1-310 1 517 1 114 1-234 1 244 1-61 1-428 1 12 1 604 1 45 1-103 1-279 1-343 1 286 1-630 1 711 1 322 1-595 1 39 1-42 1-320 1 45 1 257 1 750 1-294 1-230 1 68 1-379 1 121 1-27 1-53 1 199 1 58 1 60 1-406 1 53 1 385 1-80 1-4 1 502 1-373 1-301 1-89 1 337 1-211 1 14 1 505 1-262 1-416 1-14 1 437 1-53 1-97 1 495 1-774 1 353 1 8 1-251 1 92 1 527 1-125 1 57 1-310 1 247 1-203 1-301 1 195 1 486 1-189 1-109 1-140 1-100 1 37 1-124 1 506 1-315 1 212 1-179 1-152 1-209 1 164 1 201 1-32 1 59 1 326 1-523 1 250 1 247 1-256 1-68 1-180 1 194 1-411 1 145 1 56 1-103 1 116 1 263 1 60 1-134 1-94 1 248 1-397 1 174 1 365 1-212 1-129 1-357 1-95 1 168 1 316 1 473 1-714 1 43 1 314 1-445 1 359 1-95 1 283 1-33 1-34 1-646 1 444 1-359 1 246 1 613 1-272 1-241 1-73 1 71 1-364 1 337 1 68 1 523 1-591 1 320 1-250 1-4 1 80 1-148 1-388 1 687 1 80 1-513 1-159 1 358 1 13 1 4 1-2 1 47 1-500 1 4 1 202 1 104 1-158 1 638 1-546 1 56 1-328 1 529 1-436 1 153 1 429 1 133 1-234 1-573 1 147 1 58 1 54 1 516 1-311 1 312 1-225 1-127 1-19 1-277 1 384 1 57 1 232 1-245 1-148 1-15 1 315 1-506 1 219 1 146 1-290 1-86 1-139 1 195 1 125 1-179 1 319 1 182 1-394 1 405 1-413 1 249 1-124 1 174 1 33 1-225 1-220 1 180 1-55 1 148 1-66 1 653 1-653 1-224 1 446 1-199 1-365 1 574 1 261 1 139 1-762 1 112 1-225 1-279 1 730 1 61 1-73 1-166 1 3 1-357 1 71 1 598 1-2 1-536 1 482 1-385 1-433 1 250 1 399 1-197 1 102 1 158 1-76 1-559 1 173 1 109 1 355 1-11 1 160 1-309 1-112 1-216 1 320 1 220 1 473 1-53 1-850 1 10 1 65 1 228 1-213 1 624 1 201 1-310 1-573 1-27 1 64 1 59 1 471 1-224 1-33 1-228 1 86 1-3 1-2 1 273 1 298 1-527 1-20 1-191 1 383 1-621 1 570 1 146 1-61 1-19 1 131 1-713 1 201 1 146 1 63 1 132 1 7 1-29 1-567 1 184 1 291 1-68 1 101 1-286 1 481 1-750 1 3 1 741 1-398 1 142 1 68 1 262 1-605 1 292 1 39 1-387 1 415 1 633 1-343 1-343 1-357 1 408 1 95 1-335 1 403 1-214 1-14 1-370 1 277 1 272 1 87 1 168 1-330 1-343 1 345 1-147 1-643 1 707 1 319 1-288 1 175 1-316 1-295 1 217 1 0 1 408 1-253 1 215 1 14 1-142 1-403 1 398 1 96 1 84 1 108 1-138 1-538 1-10 1 455 1-148 1-306 1 497 1-445 1-28 1-191 1 566 1-348 1 513 1-49 1 9 1-1 1-113 1-365 1 58 1-33 1 480 1 474 1-900 1 192 1 17 1-117 1 250 1 313 1-576 1-63 1 259 1-112 1-406 1 355 1 297 1 131 1-289 1 185 1-8 1-692 1 510 1 239 1-23 1-376 1-221 1 55 1-205 1 703 1-109 1-107 1-193 1 313 1-113 1-290 1 333 1-266 1 99 1 208 1 31 1-463 1 171 1 303 1 219 1-598 1 353 1-55 1-221 1-371 1 673 1-466 1 461 1 198 1 93 1-569 1 56 1-64 1 98 1 279 1-80 1-221 1-154 1 169 1-101 1 262 1-94 1 13 1 42 1 70 1-294 1 91 1-349 1 630 1 108 1-265 1 92 1-176 1-76 1-157 1 104 1 155 1 375 1-230 1 39 1-327 1-353 1 693 1-198 1 374 1-91 1 12 1-354 1-97 1 196 1 53 1-47 1 495 1-44 1-516 1-315 1 80 1-356 1 543 1 435 1-168 1-419 1 23 1 345 1-262 1 44 1 574 1-43 1-756 1 633 1-429 1-61 1-218 1 480 1-515 1 133 1 366 1-540 1-132 1 481 1 154 1 67 1 64 1-330 1-2 1-312 1 131 1 218 1 14 1 165 1 47 1-262 1-137 1 212 1-182 1 206 1-226 1 614 1-398 1-360 1 386 1 127 1-82 1 203 1-333 1-76 1 78 1 127 1-191 1 9 1 450 1-206 1 150 1-336 1-299 1 806 1-466 1 60 1 292 1-168 1-73 1 302 1-264 1-235 1 452 1-61 1-223 1-117 1 382 1-452 1 76 1 334 1 129 1 68 1-520 1-101 1-545 1 420 1 143 1 194 1 86 1-92 1 188 1-547 1 195 1 456 1-472 1 11 1 245 1-264 1-440 1 484 1 438 1-122 1-232 1 233 1 90 1-803 1 352 1-155 1 46 1 480 1 47 1-108 1-197 1 15 1-135 1-209 1 691 1-166 1-143 1-110 1-174 1 212 1-361 1 639 1 236 1-578 1 341 1-10 1-358 1-38 1 389 1 421 1-328 1-376 1-17 1 65 1-222 1 346 1-103 1 201 1-372 1 271 1-624 1 153 1 681 1-120 1-174 1-27 1 339 1-481 1-143 1 275 1 280 1 0 1-95 1 106 1-550 1-44 1 344 1 480 1-630 1 195 1-264 1-167 1 586 1-526 1 147 1 84 1 414 1-213 1-225 1-274 1 234 1 26 1 475 1-150 1-138 1-180 1-102 1-69 1 79 1 267 1 189 1-325 1-66 1 134 1-13 1-377 1 315 1 509 1-442 1 164 1 336 1-691 1-217 1 641 1 73 1-431 1 506 1-92 1-438 1-182 1 274 1 252 1-62 1 82 1-12 1-239 1 70 1-538 1 558 1-540 1 646 1 125 1-464 1-23 1 117 1-70 1 138 1 354 1-324 1-575 1 567 1 20 1-302 1 104 1 330 1-261 1 35 1 91 1-239 1-109 1 68 1 252 1 481 1-637 1 328 1 119 1-594 1 404 1 230 1 28 1-92 1-129 1 8 1-367 1 258 1 197 1-201 1 123 1 212 1-326 1-304 1 119 1 245 1 69 1 6 1 350 1-493 1-169 1 174 1 73 1-2 1 385 1-189 1-498 1 388 1 42 1-204 1-279 1 413 1-272 1-270 1 357 1 9 1 125 1-314 1 369 1-95 1-275 1 71 1 37 1-141 1 19 1 671 1-82 1-391 1-180 1 73 1-65 1 41 1 398 1 263 1-271 1 260 1-558 1-113 1 92 1-114 1 417 1-117 1 118 1 208 1-547 1 255 1-44 1 139 1 350 1-505 1-187 1 37 1 211 1-12 1-250 1 65 1 534 1-818 1 126 1 129 1-117 1 399 1-105 1 398 1-493 1 22 1-372 1-60 1 250 1 343 1 155 1-736 1 53 1 136 1 67 1 179 1 263 1-345 1 209 1-185 1-343 1-29 1 11 1 563 1-86 1-336 1 191 1-76 1-35 1 398 1-307 1 285 1 8 1-247 1 127 1-117 1 73 1 114 1-141 1-2 1-17 1-63 1-288 1 310 1 241 1-255 1 149 1-224 1-69 1 87 1-61 1 219 1-374 1 858 1-151 1-324 1-272 1 191 1 251 1 73 1-109 1-219 1-304 1 286 1-87 1 147 1 175 1-191 1 109 1-67 1-12 1-245 1-61 1 233 1 214 1 35 1-116 1 88 1-392 1 46 1 279 1-263 1 68 1 32 1 182 1-201 1 68 1-109 1 211 1 39 1-133 1 329 1-399 1 86 1-120 1 311 1 84 1-91 1 33 1-148 1-524 1 481 1-200 1-4 1 435 1-277 1 243 1-555 1 232 1-113 1 423 1 184 1 33 1-457 1-150 1 113 1-18 1 89 1 438 1-100 1-453 1-169 1 336 1-457 1 500 1-70 1 408 1-474 1 219 1-18 1-303 1-309 1 736 1-226 1-60 1 23 1-90 1 216 1-99 1 67 1-67 1 116 1-78 1 111 1-623 1 390 1 167 1-237 1-23 1 454 1-192 1-595 1 864 1-636 1-38 1 575 1-270 1-85 1-273 1 650 1-272 1-107 1 250 1 161 1-281 1 289 1-408 1 73 1-160 1 354 1 58 1-310 1-423 1 564 1-597 1 341 1 444 1 233 1-667 1 391 1-442 1-91 1 168 1 355 1-129 1-110 1-99 1 112 1-167 1-181 1 655 1-341 1 48 1 309 1-105 1-437 1 331 1-333 1 91 1 374 1-44 1-484 1-70 1 337 1 435 1-126 1-477 1 355 1 133 1-692 1 284 1 189 1-83 1 140 1-201 1 297 1-368 1-255 1 0 1 408 1-364 1 400 1 281 1-837 1 704 1-483 1 277 1 402 1-312 1-125 1-26 1-6 1-103 1-41 1 470 1-156 1-69 1 14 1 78 1-295 1 184 1 85 1 249 1-567 1 481 1-122 1-388 1-183 1 361 1 152 1-479 1 549 1-133 1-797 1 695 1-112 1 113 1 353 1 56 1-389 1 109 1-227 1-42 1 189 1-8 1 416 1-148 1-310 1-13 1-104 1 29 1-204 1 532 1-109 1-638 1 507 1 125 1-293 1 466 1-57 1-333 1-42 1 254 1-159 1-242 1 134 1 537 1-156 1-386 1 210 1-221 1-147 1 534 1 66 1-365 1 235 1 31 1-365 1-125 1-130 1 780 1-272 1-273 1 381 1-385 1 272 1-213 1 85 1-22 1 367 1-141 1-256 1-231 1 372 1-157 1 444 1 41 1 424 1-856 1-199 1 329 1-569 1 747 1 152 1 21 1-377 1 3 1 237 1-210 1-425 1 740 1-339 1 190 1-191 1-177 1-13 1 275 1 222 1-160 1-307 1-25 1 348 1-26 1-119 1 213 1-251 1-125 1 389 1-752 1 180 1 648 1-334 1 41 1 41 1 411 1-535 1-246 1 306 1-37 1-168 1 84 1 84 1-52 1-490 1 495 1-66 1 200 1 440 1 179 1-810 1 77 1 27 1-203 1 509 1 323 1-409 1-336 1 77 1 134 1 108 1-202 1 441 1-269 1-369 1 287 1-185 1-114 1 40 1 159 1 110 1-209 1 16 1 154 1-280 1 111 1 127 1-83 1-301 1 714 1-369 1 109 1-27 1 470 1-620 1 67 1 434 1-509 1-297 1 16 1 365 1 74 1 129 1-57 1-223 1-46 1 341 1-334 1 303 1 91 1-131 1-147 1-393 1 602 1-346 1 396 1 288 1-29 1-539 1 41 1 250 1-568 1 449 1 143 1-35 1-144 1-221 1-3 1-3 1-154 1 652 1 101 1-477 1 225 1-288 1-113 1 178 1 128 1-6 1 523 1-466 1-192 1-314 1 339 1 417 1-282 1-175 1 621 1-281 1-442 1 546 1-144 1-323 1 398 1-118 1-31 1-513 1 117 1 39 1 190 1-63 1 255 1-100 1-609 1 553 1-74 1-484 1 520 1 456 1-505 1-16 1 39 1 246 1-358 1 626 1-263 1-280 1-212 1-195 1 647 1-87 1 286 1 3 1-527 1 184 1 67 1-84 1-64 1 303 1-11 1 72 1-250 1-169 1-208 1 373 1-76 1 24 1-13 1 374 1-59 1-583 1 296 1 345 1-445 1-27 1 179 1-295 1-220 1 507 1-232 1 165 1 7 1-58 1 8 1-505 1 407 1 218 1 13 1 47 1 480 1-557 1-233 1 184 1 367 1-72 1-321 1 502 1-704 1 221 1-127 1 289 1-207 1 212 1 3 1-451 1 28 1 520 1-440 1-1 1 418 1-111 1-392 1 364 1-303 1-287 1 467 1-223 1 104 1 131 1-231 1 239 1-465 1 110 1 602 1-177 1 16 1 180 1 33 1-393 1 125 1-209 1 605 1-384 1 307 1-17 1-708 1 353 1-211 1 232 1-1 1 301 1-331 1-352 1 338 1 5 1-414 1 634 1-238 1 231 1-213 1 289 1-173 1 90 1 15 1-24 1-55 1-69 1 141 1-173 1 60 1 254 1-430 1 148 1 135 1-274 1-358 1 336 1 208 1 383 1-84 1-583 1-394 1 546 1 109 1-289 1 178 1 15 1-109 1 322 1-437 1-140 1 489 1-105 1 108 1 26 1-13 1 81 1-418 1 513 1-120 1 200 1-265 1 118 1-317 1-307 1 242 1 123 1 480 1-279 1 47 1-272 1-182 1 312 1-205 1-8 1 332 1 81 1-634 1 105 1-196 1 255 1 183 1 96 1-34 1-90 1 95 1-106 1-69 1 270 1 21 1-543 1 703 1-246 1-542 1-75 1 941 1-52 1-425 1 175 1 25 1-253 1-152 1 479 1-319 1 372 1-46 1-330 1-242 1 125 1 230 1 156 1-26 1 156 1-338 1 5 1-250 1 197 1-24 1 188 1 66 1 52 1-308 1 91 1 419 1-651 1 110 1 542 1-147 1-363 1 257 1-324 1-140 1 143 1 289 1 449 1-672 1 225 1-390 1-162 1 260 1 457 1-664 1 441 1 246 1-566 1 283 1-417 1 414 1-156 1 39 1 184 1 86 1-322 1 16 1 323 1-185 1 288 1 74 1-511 1-248 1 367 1 289 1 93 1-540 1 652 1-379 1-156 1-130 1 338 1-250 1 298 1 296 1-578 1 183 1-81 1-236 1 241 1 431 1-103 1-341 1-139 1 560 1-218 1-351 1 443 1-56 1-279 1 80 1 25 1-295 1 36 1 385 1 11 1 44 1-202 1 156 1-315 1 17 1 297 1-251 1-29 1 151 1-33 1-295 1 239 1-148 1 183 1 244 1 129 1-654 1 181 1-45 1 196 1-224 1 501 1-163 1-242 1-314 1 67 1 315 1 31 1 1 1 528 1-617 1 71 1 180 1 55 1 12 1-199 1 61 1-150 1-280 1 277 1-2 1 146 1-33 1 35 1-347 1 357 1-83 1 28 1-411 1 424 1 53 1-97 1 43 1-13 1-515 1 437 1 31 1 105 1 132 1 154 1-255 1-410 1 372 1-89 1-130 1 89 1 541 1-63 1-897 1 24 1 581 1-223 1 225 1 205 1-555 1 39 1-127 1-37 1 309 1-223 1 761 1-702 1-46 1-367 1 525 1 122 1-226 1 750 1-659 1 67 1-320 1 229 1-210 1 475 1 326 1-55 1-865 1 353 1 121 1-162 1 80 1 572 1-947 1 462 1 19 1-544 1 237 1 574 1-319 1-62 1-89 1 335 1-237 1-285 1 519 1 353 1-378 1-132 1 141 1-695 1 426 1 180 1 283 1-145 1 33 1-323 1-229 1-77 1 815 1-470 1 139 1 358 1-408 1-142 1-131 1 243 1-224 1 466 1-231 1-64 1-500 1 462 1 65 1-187 1 375 1 300 1-441 1-147 1 181 1-157 1 58 1 87 1 454 1-806 1 242 1-147 1 228 1-345 1 420 1-92 1-147 1 490 1-555 1 254 1-576 1 593 1 305 1-481 1 209 1 145 1-359 1-234 1 647 1-68 1-565 1 661 1-326 1-345 1-73 1 240 1 654 1-352 1-128 1 243 1-832 1 356 1 431 1-404 1-143 1 745 1-415 1 1 1-1 1-89 1-161 1 233 1 269 1-620 1 463 1 213 1-527 1-26 1 577 1-392 1 291 1-4 1-311 1-190 1-439 1 1060 1 146 1-361 1-23 1-42 1-105 1 75 1 86 1-78 1-140 1 322 1-236 1-268 1 106 1 260 1 14 1-611 1 641 1 173 1-474 1 31 1-87 1 681 1-214 1-185 1 11 1-263 1-154 1 585 1-362 1 60 1 579 1-453 1-64 1-77 1-96 1 249 1-190 1-48 1 358 1-500 1 68 1 407 1-100 1-74 1 702 1-568 1-242 1 3 1-88 1-318 1 571 1-74 1 26 1-112 1 183 1-400 1 186 1-25 1 140 1 234 1 40 1 3 1-398 1-223 1 168 1-44 1-32 1 347 1 155 1 524 1-1195 1 308 1 246 1-63 1 158 1 488 1-835 1-166 1 290 1 200 1-206 1 153 1-287 1-187 1 38 1 263 1 198 1-100 1 466 1-303 1-533 1-13 1 83 1 57 1-64 1 561 1 259 1-659 1 38 1 319 1-405 1 556 1-84 1-422 1 202 1-342 1 92 1-1 1 417 1-226 1-73 1 354 1-149 1-505 1 165 1 3 1 685 1-284 1-299 1 446 1-216 1-201 1 24 1 387 1-348 1-9 1-130 1 73 1-563 1 408 1 223 1-172 1 12 1 52 1-179 1 43 1-28 1 105 1 26 1 258 1-283 1 284 1-298 1 292 1-483 1 13 1 270 1 338 1-353 1-168 1 133 1-184 1 123 1 318 1 52 1-317 1 398 1-270 1-32 1-103 1 444 1-294 1-266 1 556 1-233 1-460 1-50 1 406 1 11 1 71 1 167 1-374 1-270 1 249 1 356 1 147 1-78 1 13 1-108 1-524 1 521 1-93 1-176 1 74 1 221 1-485 1 161 1 188 1-332 1 363 1 102 1 409 1-864 1-63 1 400 1 141 1-393 1 300 1-100 1-414 1 236 1 145 1-137 1 48 1 546 1-44 1-391 1 287 1-75 1-710 1 442 1 48 1-39 1 51 1-121 1 119 1-121 1-53 1 277 1-19 1-69 1 184 1-432 1-36 1 164 1-6 1 348 1-181 1-160 1 75 1-550 1 461 1 233 1-114 1 188 1 113 1-227 1-501 1 206 1 212 1 57 1-581 1 829 1-580 1 297 1 22 1-391 1 414 1 262 1-50 1-130 1-233 1-12 1-241 1 108 1 294 1-78 1-253 1 272 1 325 1-352 1-412 1 641 1 136 1-236 1-400 1 277 1-168 1 86 1 406 1-717 1 444 1 35 1 12 1-570 1 455 1 471 1-251 1-215 1-246 1 326 1-161 1-56 1 338 1-22 1-120 1 137 1 9 1-651 1 313 1 109 1 73 1-35 1 195 1-260 1 22 1-200 1 286 1-198 1 88 1 57 1 162 1-80 1-172 1-261 1 232 1-268 1 1043 1-882 1-69 1 63 1 237 1-498 1 350 1 148 1 103 1-49 1-283 1-40 1 88 1 415 1-95 1 179 1-346 1 62 1 47 1-424 1 157 1 258 1 235 1-29 1-349 1 96 1-186 1-40 1 299 1 58 1-95 1-264 1-95 1 360 1 246 1-298 1 384 1-113 1-338 1 390 1-448 1 4 1 100 1-30 1 229 1-274 1-590 1 520 1 247 1-76 1 262 1-132 1-101 1-220 1 106 1-368 1-15 1 283 1 565 1-237 1 84 1-85 1-329 1 144 1 177 1-333 1 294 1 243 1-26 1-487 1-286 1 477 1-52 1 11 1 357 1-426 1-20 1-541 1 755 1-15 1 38 1 104 1-178 1-212 1-322 1 366 1-220 1-162 1 467 1-49 1-71 1-549 1 347 1 138 1 236 1 247 1-78 1-393 1 287 1-176 1 26 1-293 1 467 1-294 1-385 1 406 1-338 1 181 1 156 1 595 1-327 1-431 1 230 1 44 1-238 1 390 1 241 1 32 1-574 1 53 1 26 1 76 1 43 1-239 1 557 1-136 1 38 1-528 1 254 1-49 1 350 1-157 1 289 1-313 1-121 1-107 1-109 1 208 1-417 1 585 1 73 1-344 1-608 1 466 1 285 1-87 1 432 1-251 1-93 1-39 1-96 1-267 1 185 1 327 1 95 1 204 1-450 1 26 1-293 1-102 1 514 1 428 1-559 1 79 1-258 1-35 1 544 1 105 1-191 1 213 1-322 1-122 1-479 1 441 1 362 1-176 1-58 1-115 1 154 1 42 1-772 1 593 1 74 1-400 1 782 1-350 1-267 1 23 1 308 1-291 1 387 1-254 1-148 1 256 1-146 1 253 1-212 1 216 1-388 1 173 1 156 1-216 1 200 1-567 1 522 1-138 1 97 1 64 1-205 1 201 1-14 1 290 1-115 1 30 1 97 1-708 1 198 1 36 1 178 1 14 1 45 1-1 1-502 1-167 1 241 1 123 1 669 1-484 1 161 1 162 1-708 1 99 1 330 1 363 1-302 1 22 1-136 1-359 1 123 1-4 1 185 1-366 1 603 1-283 1-329 1 326 1 141 1-353 1 873 1 48 1-1058 1 81 1 168 1 44 1-19 1 516 1-24 1-138 1-563 1 188 1-16 1-27 1 424 1 287 1-825 1 148 1 193 1-329 1-102 1 359 1 156 1-233 1 214 1-350 1-159 1 64 1 780 1-366 1-132 1 39 1 579 1-426 1-337 1 539 1-275 1 57 1-73 1 124 1-195 1-207 1 390 1 147 1 216 1-872 1 492 1-309 1 462 1-41 1-221 1 49 1 81 1 63 1-496 1-23 1 386 1-142 1 573 1-25 1-141 1-606 1 261 1-402 1 234 1 164 1 214 1-181 1 133 1-492 1 210 1 320 1 70 1 234 1-668 1-20 1-86 1-352 1 561 1 583 1-101 1-426 1 660 1-464 1-572 1 357 1 167 1 205 1-618 1 61 1 508 1-349 1-159 1 151 1 56 1-46 1 91 1-188 1-459 1 401 1 325 1-116 1-382 1 482 1-155 1-429 1 94 1-122 1 579 1-37 1 109 1-217 1-7 1 324 1-266 1 7 1 118 1-25 1-128 1 190 1-18 1-282 1-275 1 531 1 142 1 157 1-311 1 103 1-383 1 19 1 438 1 204 1-423 1 160 1-354 1-56 1 25 1 73 1 540 1-537 1 402 1-322 1-24 1 18 1 465 1-325 1-134 1 530 1-712 1 28 1 215 1-397 1 480 1-348 1 1076 1-1115 1 67 1 54 1 87 1 250 1-316 1 347 1-113 1-118 1 155 1-246 1-183 1 313 1 334 1-91 1-490 1-103 1 290 1 24 1-438 1 1070 1-526 1-90 1-236 1 161 1 178 1 165 1-23 1-120 1 57 1 20 1-14 1-144 1 114 1 193 1-228 1 232 1-530 1 385 1-641 1 341 1-90 1-33 1 659 1-341 1-409 1-123 1 328 1 269 1-392 1 477 1 41 1-476 1 72 1 229 1-177 1-459 1 718 1-14 1-219 1-181 1 415 1-414 1 152 1 326 1-165 1-147 1-162 1 44 1-133 1 278 1 124 1 109 1-509 1 316 1-352 1 41 1 269 1 480 1-439 1-73 1 113 1-234 1-125 1 451 1 295 1-464 1 58 1-212 1-337 1 59 1 286 1 198 1 12 1 216 1 450 1-975 1-125 1 344 1 91 1-216 1 170 1 181 1-238 1-299 1 156 1-252 1 622 1-46 1 290 1-415 1-649 1 691 1-106 1 137 1 3 1 247 1-55 1-405 1-73 1 53 1 60 1 493 1 13 1-441 1 943 1-869 1-64 1-9 1 115 1 112 1-411 1 195 1-3 1-56 1-25 1 550 1-452 1 336 1 79 1-1148 1 796 1-159 1 420 1-130 1-204 1 654 1-639 1-345 1 68 1 350 1 42 1-149 1 92 1-549 1-187 1 658 1-230 1 198 1 446 1-263 1-432 1 576 1-591 1 431 1-494 1 547 1 82 1-555 1 241 1-391 1 524 1-41 1 417 1-286 1-148 1-223 1-30 1-103 1 13 1 336 1 250 1-81 1 58 1-390 1 34 1 194 1 303 1-137 1-223 1 158 1 38 1-573 1 690 1-92 1-305 1 114 1-84 1 34 1-366 1 257 1 323 1-207 1-63 1 717 1-468 1-2 1-80 1 216 1-208 1 113 1-112 1-326 1 183 1 75 1-171 1 214 1 184 1 423 1-798 1-79 1 350 1 29 1-75 1-6 1 301 1-120 1-288 1-177 1-212 1-17 1 572 1 61 1-235 1-114 1 20 1 100 1-16 1 270 1-163 1 76 1 82 1-413 1-354 1 530 1 165 1-238 1 222 1-171 1 349 1-537 1-92 1 96 1 103 1 512 1 125 1-303 1-642 1 118 1 127 1 40 1 344 1 136 1-111 1-625 1 520 1-155 1-91 1-19 1 586 1-469 1 42 1-309 1 287 1-71 1 378 1 115 1-232 1-180 1-280 1 339 1-299 1 183 1 554 1-19 1-618 1 461 1-352 1-174 1 253 1 235 1-94 1-352 1 149 1-589 1 543 1 164 1 75 1-237 1 126 1-12 1-686 1 427 1 175 1 87 1 112 1-135 1 417 1-923 1 566 1-8 1-91 1 152 1 195 1-485 1-558 1 318 1 333 1 109 1 145 1-169 1-113 1-373 1 124 1 2 1-422 1 956 1 281 1-388 1-199 1 2 1 227 1-366 1 128 1 371 1 356 1-685 1 119 1-383 1 116 1 136 1 400 1-314 1-197 1 277 1-331 1-59 1 219 1 299 1-253 1 477 1-314 1-492 1-39 1-85 1 770 1-316 1 115 1-275 1-26 1-53 1 75 1 426 1 75 1-291 1 279 1-624 1 252 1 279 1-540 1 374 1 500 1-337 1-333 1 18 1 41 1 188 1-42 1 124 1-162 1-175 1 206 1 250 1-784 1 697 1 146 1-235 1-297 1 137 1 80 1-289 1-174 1 175 1 391 1-297 1 517 1-551 1-244 1 468 1-195 1 59 1 19 1 673 1-638 1-399 1 511 1 413 1-326 1-348 1 189 1-340 1 12 1-22 1 963 1-364 1-458 1 169 1-176 1 25 1 501 1-246 1-50 1 379 1-478 1-270 1 203 1-83 1 140 1 4 1 426 1-636 1 470 1-283" stroke="#0000ff" stroke-width="1.3" fill="none" stroke-linejoin="round" vector-effect="non-scaling-stroke" stroke-dasharray="1.5 2.1"/></g>
<g transform="scale(0.779 1)">
<path d="M58.99,217.4V400.6H291.08" stroke="#9a9a9a" stroke-width="1.35" fill="none"/>
<path d="M58.99,400.6h2.82M58.99,370.07h2.82M58.99,339.53h2.82M58.99,309h2.82M58.99,278.47h2.82M58.99,247.93h2.82M58.99,217.4h2.82M69.54,400.6v-2.2M104.7,400.6v-2.2M139.87,400.6v-2.2M175.03,400.6v-2.2M210.2,400.6v-2.2M245.36,400.6v-2.2M280.53,400.6v-2.2" stroke="#6a6a6a" stroke-width="1" fill="none"/>
<text x="56.29" y="404.9" font-size="10" textLength="35.87" lengthAdjust="spacingAndGlyphs" text-anchor="end" fill="#262626" stroke="#262626" stroke-width="0.06">−0.006</text>
<text x="56.29" y="374.37" font-size="10" textLength="35.87" lengthAdjust="spacingAndGlyphs" text-anchor="end" fill="#262626" stroke="#262626" stroke-width="0.06">−0.004</text>
<text x="56.29" y="343.83" font-size="10" textLength="35.87" lengthAdjust="spacingAndGlyphs" text-anchor="end" fill="#262626" stroke="#262626" stroke-width="0.06">−0.002</text>
<text x="56.29" y="313.3" font-size="10" textLength="27.75" lengthAdjust="spacingAndGlyphs" text-anchor="end" fill="#262626" stroke="#262626" stroke-width="0.06">0.000</text>
<text x="56.29" y="282.77" font-size="10" textLength="27.75" lengthAdjust="spacingAndGlyphs" text-anchor="end" fill="#262626" stroke="#262626" stroke-width="0.06">0.002</text>
<text x="56.29" y="252.23" font-size="10" textLength="27.75" lengthAdjust="spacingAndGlyphs" text-anchor="end" fill="#262626" stroke="#262626" stroke-width="0.06">0.004</text>
<text x="56.29" y="221.7" font-size="10" textLength="27.75" lengthAdjust="spacingAndGlyphs" text-anchor="end" fill="#262626" stroke="#262626" stroke-width="0.06">0.006</text>
<g transform="translate(15.28 309.5) scale(1.28 1) rotate(-90) scale(1 0.79)"><text x="0" y="0" font-size="12.8" textLength="126.87" lengthAdjust="spacingAndGlyphs" text-anchor="middle" fill="#262626" stroke="#262626" stroke-width="0.02">NaturalWaves (units)</text></g>
<rect x="64.51" y="222.8" width="144.29" height="19.2" rx="1.67" ry="1.6" fill="#ffffff" fill-opacity="0.8" stroke="#d9d9d9" stroke-width="0.8"/>
<path d="M68.61,231.7H92.23" stroke="#0000ff" stroke-width="1.45" fill="none" stroke-dasharray="1.73 1.99"/>
<text x="100.45" y="235.4" font-size="11" textLength="103.21" lengthAdjust="spacingAndGlyphs" text-anchor="start" fill="#262626" stroke="#262626" stroke-width="0.12">NaturalWaves (N4)</text>
<path d="M361.32,217.4V400.6M396.49,217.4V400.6M431.65,217.4V400.6M466.82,217.4V400.6M501.98,217.4V400.6M537.15,217.4V400.6M572.31,217.4V400.6M350.77,400.6H582.86M350.77,370.07H582.86M350.77,339.53H582.86M350.77,309H582.86M350.77,278.47H582.86M350.77,247.93H582.86M350.77,217.4H582.86" stroke="#ebebeb" stroke-width="0.7" stroke-dasharray="3 1.2" fill="none"/>
</g>
<g clip-path="url(#cq11)"><path transform="translate(281.47 0) scale(0.027399 0.1)" d="M0,2811l1-272 1 842 1 89 1-39 1-314 1-183 1-10 1-192 1 711 1-176 1 67 1-510 1 179 1-291 1 124 1 167 1 95 1 111 1 130 1-104 1-228 1-50 1 201 1 131 1-312 1 637 1-539 1-56 1-35 1 358 1-250 1 71 1 147 1 42 1-449 1-330 1 397 1 124 1-176 1 479 1-267 1-289 1 226 1 330 1-418 1 10 1 459 1-301 1-325 1 342 1-415 1-212 1 343 1 246 1-130 1-361 1 452 1-123 1-264 1 562 1 352 1-259 1-285 1 22 1 153 1-74 1-31 1 146 1-124 1-85 1-83 1-104 1-198 1 593 1 119 1-329 1 62 1-9 1-307 1-131 1 212 1 532 1-198 1-11 1-52 1 74 1-583 1 470 1-80 1-39 1 183 1 375 1-787 1 157 1 242 1-199 1 491 1 5 1-238 1-87 1-62 1-47 1-190 1-20 1 511 1-45 1-343 1-260 1 371 1-351 1 618 1-289 1-417 1 227 1 330 1 7 1-574 1 258 1 550 1 31 1-373 1 186 1-799 1 440 1 216 1 85 1 237 1-51 1-435 1 44 1-74 1 341 1-274 1-49 1 268 1 172 1-462 1-145 1 378 1-250 1 542 1 99 1-167 1-359 1 122 1-182 1-218 1 171 1 354 1-118 1-203 1 266 1-147 1-437 1 573 1 96 1 64 1-127 1 33 1-261 1-241 1 141 1 664 1-270 1-270 1-65 1-71 1-263 1 118 1 339 1 264 1-223 1 233 1 129 1-380 1-551 1 852 1 161 1-277 1-311 1 52 1-321 1 316 1 111 1-313 1 234 1 277 1-482 1-237 1 416 1-37 1-27 1 406 1-259 1-46 1-66 1 331 1-113 1-548 1 812 1-230 1-133 1-268 1 53 1 151 1-64 1 253 1 48 1-220 1 21 1-178 1-326 1 217 1 591 1-201 1-118 1-52 1-334 1 156 1 52 1 498 1-123 1-47 1-345 1 121 1-105 1-367 1 910 1-457 1-39 1 206 1-29 1-308 1 177 1-17 1 565 1-268 1 15 1-95 1-21 1-173 1 216 1-352 1 60 1 413 1 127 1-561 1 261 1-294 1-240 1 521 1-189 1-167 1-1 1 390 1-285 1 275 1-180 1 305 1-494 1 119 1 478 1-672 1-60 1 191 1 610 1-213 1-210 1 208 1-174 1-33 1-385 1 689 1-62 1-55 1-155 1-538 1 116 1 335 1 164 1-79 1 272 1 45 1-1004 1 558 1-39 1 243 1-13 1 177 1 66 1-561 1-5 1 82 1 21 1 16 1 336 1-150 1 106 1-190 1-333 1 217 1 68 1 401 1-136 1-756 1 410 1-246 1 119 1 426 1 576 1-681 1 171 1 187 1-797 1 36 1 323 1 284 1-183 1-161 1 79 1-190 1-181 1 949 1-526 1 143 1-278 1-75 1 120 1-348 1 316 1 374 1-127 1-31 1 401 1-664 1-128 1 399 1 254 1-256 1-211 1-64 1-50 1 155 1 56 1-26 1 195 1 146 1-327 1-379 1 700 1-542 1 104 1-61 1 472 1-257 1-512 1 954 1-860 1 183 1 600 1 414 1-761 1 49 1-342 1 87 1-40 1 39 1 391 1-282 1-149 1 147 1-253 1-111 1 713 1-15 1-182 1 11 1 264 1-441 1-278 1 327 1-113 1 305 1 18 1 29 1-352 1-24 1 89 1 91 1-183 1 112 1 400 1-509 1-453 1 616 1-66 1 105 1-18 1-57 1-605 1 334 1 176 1 287 1-82 1 316 1-168 1-122 1-488 1 526 1-351 1 441 1-29 1-373 1 222 1-202 1 73 1-199 1 171 1 491 1-217 1-107 1 91 1-27 1-584 1 573 1-14 1-104 1 207 1-350 1 180 1-453 1 100 1 639 1-66 1 3 1-589 1 258 1 22 1-146 1 346 1-104 1 285 1 270 1-606 1-67 1 348 1-26 1-59 1-159 1 27 1-299 1 110 1 329 1-302 1-11 1 145 1 183 1-309 1-141 1 361 1-93 1-207 1 669 1-274 1-462 1 90 1 2 1 169 1-63 1 345 1-237 1-196 1 96 1-414 1 87 1 337 1 370 1-192 1-46 1-382 1 74 1-33 1 274 1 353 1-238 1-366 1 160 1-36 1-250 1 612 1-299 1 118 1-267 1 378 1-212 1-335 1 381 1-248 1 153 1 125 1 76 1-176 1-332 1 247 1-254 1 310 1 162 1 217 1-338 1-139 1-173 1 205 1-157 1 527 1 53 1 0 1-613 1-163 1 337 1-265 1 439 1 308 1-544 1 303 1-113 1-474 1 309 1 595 1-522 1 298 1-155 1-38 1-262 1 273 1 467 1-718 1 440 1 58 1 154 1-745 1-72 1 246 1-317 1 237 1 313 1-141 1-530 1 459 1 153 1 174 1-119 1-250 1 136 1-326 1 712 1-619 1 146 1-23 1 347 1-76 1-95 1-223 1 125 1 160 1 80 1 218 1-555 1 81 1 259 1-292 1 93 1-86 1 465 1-100 1-322 1 84 1-257 1 43 1 582 1-134 1-207 1 203 1-141 1-374 1 414 1 238 1-96 1-219 1-66 1 279 1-593 1 29 1 126 1 378 1 35 1 224 1-557 1-435 1 498 1 26 1-113 1 12 1 405 1-409 1-153 1 294 1-68 1-67 1 381 1-111 1-544 1 424 1-313 1 35 1 116 1 155 1 284 1-574 1 242 1-57 1 332 1-488 1 266 1 558 1-409 1-402 1 256 1 25 1 221 1-236 1-180 1 246 1-238 1 26 1-102 1-46 1 332 1 287 1-830 1-30 1 442 1-555 1 525 1 206 1-212 1 344 1 114 1-404 1 147 1-685 1 472 1 109 1-106 1 454 1-128 1-668 1 40 1 370 1 11 1 161 1-188 1 387 1-428 1 11 1 324 1-95 1 92 1-186 1-359 1 20 1 461 1-164 1-166 1 249 1 237 1-388 1 278 1-199 1-221 1-179 1 363 1 252 1-174 1-22 1-101 1-104 1 23 1-63 1 170 1 130 1-232 1-98 1-58 1-33 1 245 1 540 1-169 1-333 1 26 1-512 1 326 1-17 1 76 1-241 1 669 1-150 1-454 1-10 1 492 1-70 1 154 1-512 1 360 1-345 1 132 1 49 1-186 1 307 1 178 1-565 1-65 1 168 1 215 1-157 1 301 1 62 1 27 1-245 1-15 1 120 1-355 1-230 1 872 1 38 1-693 1 258 1-513 1 189 1 160 1 567 1 5 1-369 1-122 1 102 1 19 1 95 1 161 1-150 1-58 1-447 1 192 1-8 1 400 1-235 1 379 1-499 1 284 1-27 1-416 1 314 1-195 1 500 1-158 1 13 1-522 1 343 1 133 1-536 1 306 1 635 1-411 1-116 1-43 1 232 1-493 1 393 1 137 1-63 1 15 1-145 1-252 1 340 1-198 1 366 1-253 1-241 1 4 1 99 1-192 1 393 1 256 1-396 1 140 1-268 1-137 1 177 1-25 1 520 1-334 1 161 1-163 1-189 1 60 1-350 1 409 1 410 1-338 1 200 1-767 1 250 1 154 1 240 1-216 1 364 1 106 1-401 1-147 1 5 1 155 1 90 1 210 1 113 1-537 1 328 1-197 1-304 1 338 1 336 1-147 1-125 1-84 1-196 1 156 1-417 1 591 1 89 1-168 1-77 1 395 1-650 1 11 1 384 1 140 1-403 1 28 1 67 1-295 1 41 1 416 1 94 1-187 1 34 1 179 1-560 1 250 1 654 1-160 1-698 1 412 1-476 1 113 1-165 1 377 1 183 1-102 1-165 1-445 1 164 1 381 1 190 1-345 1 99 1 266 1-263 1-346 1 226 1 38 1 363 1 21 1-369 1 60 1-593 1 510 1 64 1-86 1 246 1 300 1-473 1 69 1-319 1 228 1-47 1 652 1-12 1-479 1 157 1-147 1-311 1 39 1 717 1-250 1-321 1 309 1 21 1-368 1-319 1 615 1-333 1 298 1-203 1 344 1-500 1 86 1-82 1 206 1-96 1 419 1-229 1-591 1 127 1 206 1-44 1 464 1-392 1 120 1-447 1 247 1 566 1-5 1 146 1-173 1-512 1 82 1-96 1 387 1-144 1 335 1-66 1-46 1-327 1-62 1 95 1 84 1 239 1 240 1-279 1-414 1 110 1 157 1-198 1 197 1-10 1-154 1-53 1 157 1-257 1 103 1 64 1 71 1-292 1 207 1 273 1-160 1 67 1 187 1-303 1 372 1 251 1-523 1 573 1-961 1 369 1-25 1 172 1 115 1-6 1-416 1-275 1-27 1 111 1 349 1 288 1-333 1 171 1-381 1-5 1 123 1 204 1 518 1-732 1-188 1 777 1-491 1-235 1 33 1 660 1-393 1-411 1 244 1-21 1 6 1 231 1 294 1-551 1 335 1-277 1-307 1-73 1 541 1 108 1-204 1 91 1-242 1-57 1-392 1 135 1 720 1-273 1 423 1-467 1-255 1 155 1 418 1-209 1-375 1 254 1 101 1-672 1 481 1 333 1 70 1 20 1-92 1-114 1-273 1 316 1 151 1-544 1 446 1-73 1 184 1-584 1 210 1 124 1-88 1-219 1 421 1 35 1-260 1 395 1-750 1-29 1 642 1 33 1 449 1-825 1 135 1-155 1-196 1 413 1 413 1-202 1-101 1-205 1-96 1 68 1 103 1 423 1-747 1 434 1 226 1-544 1-224 1 378 1-243 1 648 1-430 1 252 1-517 1-181 1 787 1 36 1-161 1 472 1-32 1-742 1-204 1 459 1-251 1-511 1 916 1-3 1-321 1-87 1 186 1-292 1 273 1 135 1 4 1-185 1 211 1 37 1-343 1 253 1 131 1-79 1-88 1-473 1 237 1-317 1 708 1-170 1-168 1 86 1 304 1-649 1 252 1 443 1 190 1-437 1 149 1-229 1-265 1-258 1 470 1 157 1-42 1 287 1 10 1-349 1-282 1 442 1-107 1-238 1 891 1-324 1-316 1-251 1 461 1-189 1-529 1 985 1-306 1-377 1 76 1 270 1-523 1 686 1 113 1-223 1-193 1-343 1 297 1-576 1 544 1 1 1 126 1-68 1 45 1-345 1 134 1 110 1 434 1 144 1-620 1 36 1 189 1-520 1 375 1 566 1-282 1-331 1-12 1-120 1-659 1 718 1 393 1 69 1-500 1 443 1-319 1-79 1 220 1 10 1-203 1 157 1 81 1-445 1 150 1 286 1-173 1 395 1-324 1 88 1-329 1 229 1 7 1-164 1 253 1 316 1-176 1-366 1 120 1-283 1-366 1 418 1 476 1 0 1-619 1 262 1-91 1-113 1 296 1-759 1 970 1-239 1 497 1-960 1 53 1 340 1 428 1-94 1 146 1-351 1 75 1-494 1 186 1-53 1 273 1 13 1 54 1-30 1-304 1 78 1-4 1 28 1 325 1-193 1 22 1 22 1-435 1 376 1 60 1 359 1-60 1-724 1 183 1-313 1 413 1-222 1 496 1 169 1-302 1-134 1 267 1-99 1-284 1 151 1 261 1-238 1 146 1-384 1-163 1 500 1 98 1 99 1 31 1-593 1 30 1-66 1-116 1 703 1-162 1-328 1 393 1-242 1-20 1-192 1 183 1 391 1-61 1-30 1-475 1 97 1 204 1 74 1-287 1 595 1-129 1-526 1 1 1 190 1-91 1 357 1-476 1 457 1-97 1-316 1 156 1 81 1 142 1 51 1 432 1-880 1 322 1 19 1-48 1-322 1 481 1-196 1 114 1-220 1 93 1-96 1-288 1 311 1 78 1 313 1-367 1 285 1-219 1 152 1 169 1-243 1-308 1-24 1 455 1-333 1-117 1 329 1 7 1 313 1-201 1-271 1-244 1 150 1 377 1-137 1-315 1 369 1-279 1-426 1 627 1-160 1 0 1-63 1 493 1-214 1-195 1-69 1 183 1-83 1 93 1 338 1-123 1-333 1 114 1-197 1-226 1 567 1 604 1-824 1-38 1 238 1-240 1-473 1 959 1 103 1-424 1 512 1-486 1-473 1 37 1 359 1 269 1-201 1-569 1 482 1-482 1 483 1 26 1 61 1-66 1 533 1-396 1-678 1 176 1 545 1-290 1 505 1-332 1-53 1-143 1 103 1 349 1-295 1-335 1 372 1-51 1-422 1 340 1-76 1 619 1-347 1 233 1-249 1-264 1-93 1 285 1-386 1 428 1 26 1-36 1-367 1 134 1 158 1-256 1 547 1-31 1-247 1-16 1 27 1-370 1-149 1 250 1 589 1-189 1-293 1 10 1 300 1-152 1-224 1 622 1-592 1 344 1-56 1-126 1-110 1 202 1 2 1 165 1-80 1 94 1-366 1 18 1 194 1-403 1 625 1 137 1-309 1-256 1 86 1-104 1 279 1-161 1 62 1-22 1-152 1-51 1 64 1-165 1 438 1-155 1-21 1-488 1 229 1-32 1 655 1-296 1-168 1 155 1-36 1-181 1 28 1-208 1 458 1 18 1-326 1 137 1 9 1 43 1-387 1 439 1 406 1-300 1-51 1-113 1-331 1 77 1 299 1-36 1 217 1-30 1 8 1-322 1-43 1-190 1 220 1 180 1 417 1-177 1-550 1 402 1-668 1 516 1 7 1 106 1 382 1-625 1-43 1-7 1 280 1-251 1 179 1 128 1-138 1 41 1 236 1-355 1-86 1 117 1 22 1-277 1 345 1-42 1 49 1 4 1 398 1-256 1-347 1 201 1-81 1-395 1 46 1 361 1 457 1-746 1 492 1-6 1-418 1-41 1 940 1-857 1 242 1 3 1 113 1-356 1 336 1-302 1 325 1-101 1 268 1-111 1-667 1 137 1 7 1 378 1 92 1-75 1-253 1-104 1-264 1 524 1-242 1 556 1-354 1 18 1 63 1-250 1 41 1 143 1 288 1 83 1-495 1 10 1-245 1 295 1-313 1 506 1 365 1-778 1 664 1-511 1 250 1-280 1 444 1-59 1 199 1-163 1-524 1-136 1 301 1 287 1 49 1-440 1 383 1-430 1 254 1 190 1-363 1 386 1-64 1-23 1-349 1-178 1 188 1-83 1 222 1 37 1 282 1-315 1-540 1 573 1 485 1-541 1 222 1-221 1 138 1 7 1-142 1-396 1 432 1-14 1 233 1-304 1 208 1-124 1 34 1-129 1 475 1-301 1 94 1-79 1 386 1-456 1-611 1 899 1 265 1-476 1 83 1-23 1-301 1 128 1 35 1 416 1-357 1-30 1 199 1-909 1 551 1 290 1 61 1-249 1 603 1-629 1-608 1 495 1 84 1 301 1-227 1 669 1-513 1-348 1-254 1 586 1 217 1-214 1 34 1-239 1-128 1-120 1 89 1-36 1 515 1 358 1-867 1 340 1-351 1-80 1 432 1 211 1-81 1-342 1 305 1-101 1-41 1 29 1 78 1 208 1 122 1-479 1 135 1-252 1 202 1-76 1 137 1-116 1 146 1-161 1-542 1 320 1 281 1 150 1-255 1 312 1-35 1-684 1 321 1 368 1-54 1 16 1 289 1-673 1-139 1 464 1-354 1 253 1 14 1 333 1-364 1-264 1 7 1 39 1 600 1-190 1 122 1-183 1 36 1-138 1-84 1 291 1 43 1-113 1 79 1-247 1 17 1-244 1-116 1 246 1 351 1-203 1 13 1-47 1-166 1-227 1 329 1 533 1 37 1-496 1 169 1-88 1-525 1 194 1 593 1-112 1 62 1-37 1-459 1 189 1 41 1 95 1-285 1 406 1-297 1-454 1 208 1 164 1 193 1-21 1-218 1 41 1-51 1 122 1 55 1-316 1 770 1-199 1 147 1-805 1 611 1-456 1 136 1 156 1-67 1 156 1-332 1 110 1 212 1-338 1 64 1 358 1-134 1 70 1-403 1 232 1-583 1 606 1 92 1 280 1-318 1 235 1-462 1-330 1 459 1 159 1-239 1 502 1-257 1-172 1-422 1 621 1-384 1-125 1 978 1-418 1-56 1-614 1 630 1-287 1 84 1 472 1 54 1-857 1 315 1-28 1-281 1 375 1 326 1 52 1-597 1 259 1 230 1-323 1 159 1 490 1-384 1-453 1 77 1-322 1-111 1 519 1 740 1-567 1-363 1 341 1-466 1 300 1 6 1 143 1-288 1 274 1-347 1 249 1 116 1-78 1-92 1 246 1-370 1 416 1-696 1 662 1-648 1 1004 1-461 1 347 1-269 1-212 1-115 1 34 1-5 1 239 1-110 1 608 1-469 1-34 1-203 1-103 1 300 1 312 1 99 1-700 1-146 1 442 1-164 1 129 1 232 1-137 1 261 1-349 1-255 1 198 1-305 1 291 1 416 1-243 1-399 1 528 1-311 1 292 1-29 1-140 1-153 1 98 1 188 1-736 1 453 1 331 1-503 1 293 1 29 1-323 1-456 1 623 1 58 1 545 1-204 1-533 1-266 1 233 1 353 1 217 1-79 1 38 1 309 1-639 1-154 1 388 1 48 1-41 1 104 1 7 1-476 1 349 1-160 1-129 1-36 1 193 1 292 1-625 1-280 1 433 1-357 1 180 1 437 1 145 1-338 1-374 1 384 1-25 1 47 1 76 1 272 1-483 1 75 1 10 1-528 1 732 1 155 1-109 1-196 1 432 1-319 1-638 1 500 1-11 1 187 1 119 1-143 1-383 1 15 1 418 1 73 1-115 1 75 1 262 1-594 1 119 1-258 1 502 1-59 1-222 1 209 1-76 1-137 1 52 1-58 1-66 1 111 1 489 1-451 1-142 1 371 1-604 1-102 1 657 1 440 1-441 1-415 1 625 1-183 1-268 1 144 1-14 1-236 1 682 1-390 1-164 1 63 1-22 1 96 1 107 1-127 1-95 1-496 1 451 1 57 1 262 1-270 1 213 1-218 1-246 1-196 1 666 1 12 1-21 1-47 1-257 1-138 1 232 1 96 1 5 1-88 1 275 1-287 1-220 1 105 1-156 1 261 1 50 1 170 1-22 1-650 1 359 1 217 1-452 1 362 1 135 1-65 1-96 1-43 1 150 1-328 1 342 1-25 1 5 1-203 1-237 1 291 1-310 1 203 1 202 1 304 1-56 1-117 1-636 1 363 1 153 1 5 1-81 1 220 1-180 1-415 1 165 1 306 1-154 1-139 1-20 1 552 1-593 1 87 1 425 1-188 1 161 1 262 1-246 1-538 1 386 1 10 1-138 1 332 1 269 1-129 1-414 1-341 1 601 1-567 1 573 1 228 1-533 1-145 1 44 1 33 1-253 1 569 1 16 1-310 1 88 1 196 1-665 1 280 1 455 1-143 1-282 1 118 1 347 1-498 1-114 1 249 1 508 1-138 1-209 1 8 1-395 1-177 1 765 1 15 1-148 1-254 1 264 1-561 1 627 1-271 1-133 1-66 1 617 1-627 1 211 1-429 1 104 1 292 1 346 1-431 1 218 1 4 1-294 1 360 1-327 1 418 1 496 1-720 1 25 1-63 1-82 1-65 1 332 1 56 1-203 1-90 1 158 1-206 1-419 1 325 1 510 1-311 1-70 1 40 1-113 1-220 1 441 1-17 1-84 1-5 1 28 1-263 1 141 1 351 1-132 1 31 1-102 1 267 1-359 1 79 1 4 1 107 1-314 1 403 1-286 1 75 1 102 1-332 1 94 1-163 1 686 1 147 1-964 1 220 1 273 1-607 1 507 1 459 1-316 1-108 1 66 1-219 1-61 1 208 1 287 1 140 1-612 1-195 1 239 1-358 1 73 1 710 1-18 1-73 1-42 1-403 1-5 1-19 1 597 1-540 1 347 1 14 1-267 1-124 1 222 1 51 1 56 1-39 1 291 1-293 1-45 1-178 1 411 1-291 1 224 1 36 1-258 1-285 1 208 1-190 1 353 1 265 1 178 1-977 1 461 1-155 1-39 1 424 1 183 1-268 1-162 1 200 1-205 1-385 1 318 1 284 1-170 1-421 1 409 1 107 1-281 1 218 1 494 1-282 1-21 1-383 1 162 1 264 1-127 1 29 1 123 1-39 1 22 1-122 1-508 1 402 1 332 1-402 1 403 1-181 1-6 1-338 1 212 1 296 1-160 1-286 1 594 1-890 1 24 1 37 1 486 1-341 1 370 1-270 1 170 1-487 1 503 1-391 1 337 1 417 1 120 1-456 1-520 1 650 1-196 1-98 1 291 1 7 1-537 1 304 1 270 1-593 1 292 1 301 1-52 1-497 1 78 1 187 1-147 1-56 1 565 1 189 1-349 1-260 1 208 1-295 1-255 1 288 1-35 1 399 1-147 1-348 1-211 1 419 1 195 1 61 1 14 1-47 1-234 1-20 1-151 1 236 1-262 1 505 1-6 1 213 1-817 1 171 1-2 1 118 1 232 1 155 1-533 1 254 1-67 1-180 1 162 1 403 1-1 1-384 1-357 1 469 1 184 1-620 1 529 1-24 1-88 1-53 1 373 1-693 1 350 1 0 1 557 1-764 1 295 1 361 1-738 1 59 1 317 1 258 1-736 1 625 1-405 1 377 1-525 1 294 1 89 1-244 1 501 1-372 1-206 1 29 1 440 1-353 1 110 1 226 1-212 1-149 1 140 1 34 1-171 1 483 1-23 1-554 1-79 1 413 1-411 1 502 1-38 1-67 1-152 1-113 1 338 1 29 1-476 1 349 1-105 1 219 1 4 1-66 1 69 1-325 1 269 1 155 1-560 1-27 1 421 1-209 1-376 1 362 1 533 1-217 1 74 1 49 1-443 1 135 1-95 1 91 1 378 1-71 1-107 1-714 1 422 1-58 1-152 1 517 1-83 1-57 1-476 1 484 1-37 1 203 1-347 1 749 1-567 1 29 1-103 1 81 1-252 1 98 1 121 1-233 1 27 1 282 1-490 1 386 1 8 1 367 1-204 1-316 1 311 1-334 1-101 1 67 1 187 1-102 1 71 1-295 1-71 1 344 1 0 1 126 1 121 1-190 1 115 1-171 1-262 1 428 1 219 1-322 1 473 1-614 1-36 1-134 1 85 1 45 1 227 1 60 1-191 1-427 1 411 1-20 1 253 1 19 1 80 1-73 1-151 1-29 1-46 1 195 1-186 1 537 1-634 1-38 1-82 1 239 1 335 1-432 1 234 1-15 1-314 1 186 1-215 1 39 1 240 1 170 1-129 1-96 1 189 1-267 1-386 1 425 1 184 1 43 1-406 1 355 1-393 1-33 1 34 1 711 1 5 1-272 1 451 1-637 1-136 1 165 1-81 1 345 1-215 1-140 1-406 1 441 1 62 1-422 1 576 1-193 1 126 1-374 1 380 1 99 1-150 1-233 1 243 1 265 1-524 1 10 1 287 1-81 1 290 1 152 1-134 1-657 1 91 1 186 1-257 1 401 1 603 1-597 1-242 1 308 1-499 1-158 1 256 1 812 1-473 1-203 1 355 1-260 1-471 1-8 1 473 1 28 1 157 1 180 1-305 1-435 1 399 1-200 1 463 1 72 1-155 1-359 1-149 1 441 1 13 1-364 1 455 1 68 1-547 1-84 1 241 1-332 1 606 1-74 1 219 1-632 1 302 1-214 1 124 1-520 1 764 1-386 1 283 1-46 1-159 1 253 1-51 1-146 1 54 1 40 1-248 1 79 1-207 1 420 1-57 1 259 1-543 1 550 1-822 1 384 1 305 1 237 1-351 1-25 1 277 1-486 1-477 1 539 1 94 1-80 1 62 1 609 1-893 1 69 1 144 1-70 1 708 1-529 1 207 1-562 1 53 1-34 1 104 1 416 1 11 1 229 1-431 1 9 1 244 1-311 1 36 1 141 1-154 1 112 1-121 1-216 1-79 1 535 1 26 1 346 1-367 1-98 1-65 1-169 1-32 1 317 1-223 1-23 1 395 1-542 1-48 1 388 1 281 1-207 1-103 1 35 1 230 1-513 1-351 1 1015 1-104 1-270 1 74 1-25 1-424 1 183 1 341 1-202 1 150 1 20 1-306 1 47 1-24 1 295 1-184 1 88 1 45 1 27 1-495 1 256 1 43 1-48 1 328 1-36 1 47 1-490 1 276 1-474 1 354 1 151 1 48 1-253 1-240 1 20 1 173 1 55 1-33 1 289 1-96 1-40 1-179 1-232 1 589 1 72 1 11 1-39 1-357 1-93 1-27 1-258 1 635 1-312 1 60 1 229 1-189 1-118 1-248 1 531 1-202 1 302 1 163 1-349 1-314 1-137 1 446 1-149 1 117 1-115 1 150 1-26 1 155 1-136 1-148 1 448 1 211 1-262 1-394 1-42 1 226 1-49 1-136 1 102 1 16 1 69 1 60 1-376 1 405 1 282 1-319 1 266 1-193 1-524 1 281 1-408 1 638 1 283 1-446 1 124 1-197 1 166 1-417 1 364 1-35 1 14 1 341 1-506 1-240 1-10 1 328 1 75 1 166 1 402 1-141 1-606 1 424 1-106 1-310 1 411 1-330 1 554 1-771 1 546 1-323 1-319 1 525 1 427 1-186 1-620 1 11 1 111 1 82 1 325 1 203 1-136 1-99 1-462 1-115 1-119 1 182 1 696 1 62 1-525 1 141 1-2 1-416 1 464 1-19 1-96 1 211 1-136 1-145 1-271 1 375 1 322 1-377 1 187 1-13 1-358 1-491 1 630 1 197 1 34 1 342 1-350 1-343 1 56 1-23 1 81 1-39 1 392 1-406 1-161 1 212 1 34 1-237 1 396 1-107 1 235 1-40 1-486 1 312 1-202 1 182 1 52 1 93 1-425 1 365 1-199 1-8 1 88 1-135 1 444 1-403 1 186 1-262 1 87 1 184 1 486 1-692 1 139 1 12 1 102 1-704 1 335 1 495 1-228 1 114 1-189 1 334 1-612 1 244 1 33 1 288 1 51 1 92 1-702 1-32 1 104 1 120 1 0 1 537 1-176 1-632 1 93 1 432 1-29 1-54 1 217 1-86 1-308 1-140 1-2 1 4 1 397 1-289 1 391 1-203 1-353 1-25 1 36 1-27 1 598 1-68 1-44 1-387 1 104 1-461 1 549 1 29 1 117 1-447 1 370 1-409 1 255 1 92 1 290 1-381 1 552 1-107 1-479 1-161 1 217 1 121 1 54 1-115 1-43 1 149 1-616 1 600 1 238 1-283 1 157 1 0 1-39 1-364 1 277 1-269 1 177 1 360 1 139 1-515 1-496 1 833 1-237 1-343 1 333 1 268 1-317 1-13 1 157 1-232 1-94 1 358 1 362 1-500 1 68 1-361 1 311 1 61 1 371 1-953 1 159 1 406 1-308 1 285 1-149 1-175 1 436 1 126 1-60 1-159 1-338 1 160 1 328 1 146 1-282 1 101 1 84 1-671 1 310 1-174 1 188 1 314 1 165 1-780 1-118 1 279 1 47 1 381 1-301 1 371 1-311 1-400 1 225 1 414 1-449 1 421 1-153 1-100 1-222 1 396 1-108 1 54 1 33 1 326 1-381 1-558 1 272 1-462 1 630 1 365 1-31 1-422 1 276 1-575 1 332 1-377 1 799 1-6 1-372 1 134 1-29 1-247 1-52 1 469 1-476 1 157 1 163 1 140 1-1037 1 604 1 436 1 21 1 356 1-216 1 71 1-390 1-423 1 493 1 49 1-360 1 627 1-766 1 198 1-17 1 217 1-16 1 63 1-57 1-7 1 10 1 241 1-607 1 328 1 348 1-143 1-252 1-157 1 299 1 127 1-514 1 438 1 134 1-51 1-340 1 113 1-252 1-196 1 621 1 116 1-168 1 272 1-269 1-536 1 54 1 584 1 182 1-420 1 172 1-108 1-568 1 371 1 16 1 168 1-120 1 455 1-259 1-395 1 149 1 166 1 40 1-335 1 984 1-770 1-167 1 313 1 24 1 111 1-255 1 190 1-140 1-502 1 726 1-53 1-240 1 0 1 268 1 88 1-410 1-80 1 365 1-479 1 210 1 171 1-196 1 152 1 399 1-310 1-171 1 184 1-26 1-32 1-83 1-200 1 335 1-420 1 235 1-7 1-299 1 283 1 388 1-626 1 243 1 40 1 270 1-75 1-23 1 112 1-471 1 15 1 124 1 229 1 129 1 319 1-542 1-366 1 343 1 326 1-542 1 221 1 94 1 12 1-546 1 204 1 168 1-290 1 576 1 53 1-188 1-168 1-78 1 124 1 133 1-479 1 642 1-112 1 47 1-234 1-70 1 110 1-237 1 277 1 388 1-596 1 339 1-502 1-77 1 188 1 277 1-303 1 358 1 26 1-277 1-91 1-226 1 516 1-297 1 298 1 65 1-520 1 218 1-7 1-56 1 202 1 169 1 79 1-553 1-106 1 171 1 279 1-46 1 413 1-298 1-391 1 87 1 165 1-162 1 123 1 250 1 141 1-265 1-59 1 114 1-353 1-168 1 668 1 229 1-388 1 70 1-344 1-105 1-91 1 609 1-64 1-414 1 475 1-328 1-402 1 412 1 217 1 153 1 72 1-184 1-477 1 121 1 352 1 285 1-750 1 718 1-132 1-183 1-518 1 698 1 67 1-365 1 496 1-376 1-453 1 75 1 718 1-323 1-87 1-85 1-21 1-233 1 93 1 205 1-62 1 142 1 247 1 20 1-421 1-302 1 588 1-731 1 331 1 263 1 148 1-259 1-254 1 311 1-63 1-30 1 422 1-428 1 40 1-41 1 3 1-196 1-52 1 463 1-296 1 543 1-380 1-255 1-42 1 536 1-91 1-20 1-312 1 106 1-216 1-68 1 182 1 201 1-226 1 293 1-31 1-334 1-19 1 139 1 265 1 45 1 94 1 104 1-150 1-491 1 21 1 1 1-126 1 597 1-413 1 193 1-222 1-113 1 498 1-364 1 320 1-303 1 253 1-208 1 550 1-624 1 371 1 281 1-351 1 27 1 135 1-433 1-99 1 213 1 556 1-167 1-32 1-147 1-90 1-297 1 238 1 225 1-261 1 215 1-174 1-155 1-266 1 643 1-259 1 86 1-22 1 261 1-228 1-98 1 175 1-134 1 185 1 57 1-140 1-343 1 48 1 502 1-383 1-160 1 384 1 217 1-138 1-433 1-389 1 382 1 161 1 398 1-146 1 80 1-286 1 18 1-116 1-134 1 417 1 316 1-62 1-480 1 559 1-444 1-646 1 886 1-365 1 226 1-173 1-112 1-348 1 236 1 593 1-197 1 191 1 77 1-593 1 68 1-324 1 291 1 375 1-90 1 94 1-412 1-109 1-133 1 444 1-264 1 332 1-129 1-115 1-388 1 174 1 642 1-746 1 504 1 492 1-400 1-179 1-206 1 221 1-128 1 52 1 670 1-250 1-507 1 414 1-530 1 339 1 259 1-176 1-379 1 204 1 126 1 23 1-243 1 347 1 261 1-311 1-291 1 150 1 278 1-833 1 430 1 551 1-618 1 524 1-387 1-217 1 221 1 47 1 85 1-72 1 411 1-492 1-129 1-283 1 348 1 30 1 363 1-415 1 175 1-248 1 155 1 68 1-260 1 713 1-270 1 163 1-364 1-202 1 68 1 79 1 67 1 8 1 75 1-10 1-82 1-10 1-437 1 593 1 485 1-263 1-666 1 195 1 201 1-37 1-137 1 601 1-380 1 763 1-981 1 108 1-376 1 726 1-196 1 20 1 262 1-609 1 16 1-199 1 476 1-535 1 156 1 438 1-460 1-114 1-186 1 983 1-406 1 243 1-14 1-22 1-463 1 428 1-113 1 201 1-441 1 378 1-170 1-402 1 56 1 401 1-201 1 500 1-13 1-142 1-315 1-83 1 101 1-445 1 333 1 449 1-77 1-178 1-296 1 325 1-460 1 629 1 65 1 87 1-481 1 96 1-15 1 72 1 489 1-194 1-437 1 337 1-191 1-4 1-444 1 581 1-255 1 324 1-73 1-366 1-20 1-86 1 307 1 0 1 217 1 163 1-507 1-42 1-135 1 268 1 9 1-210 1 404 1 35 1-240 1-216 1-24 1 290 1 36 1-46 1 134 1-488 1 395 1 25 1-39 1-169 1 679 1-478 1-155 1-94 1-69 1-176 1 814 1-272 1-190 1 100 1-174 1-85 1-202 1 564 1-184 1 411 1-464 1 29 1-168 1-168 1 19 1 390 1-32 1-160 1 568 1-441 1-39 1 257 1-270 1 95 1-173 1 227 1 417 1-676 1 246 1 135 1-495 1 623 1-273 1-95 1-126 1 271 1-444 1 347 1 451 1-208 1-10 1-628 1 612 1-171 1-124 1 548 1-488 1 2 1-66 1 50 1-122 1 72 1-34 1-609 1 931 1-436 1 19 1 83 1 141 1-17 1 176 1-112 1 66 1-19 1-476 1 561 1 250 1 70 1-295 1 183 1-466 1-45 1 82 1 67 1 53 1 182 1 72 1-209 1-389 1 178 1-91 1 63 1 207 1 294 1-478 1 69 1 340 1-402 1-100 1 1017 1-728 1 218 1-276 1-163 1 109 1-32 1 487 1-383 1-19 1-86 1-293 1 208 1-85 1 284 1 204 1 6 1-414 1 258 1-576 1 431 1 837 1-982 1 459 1-280 1-91 1-146 1 15 1 130 1 192 1-14 1 19 1 309 1-661 1 104 1 292 1-241 1 289 1 197 1-661 1 19 1-167 1 437 1 151 1-176 1-149 1 287 1-349 1 373 1-232 1 31 1-285 1 1017 1-803 1-142 1 25 1 192 1-136 1 404 1 115 1-517 1 489 1-615 1 289 1-154 1 60 1 126 1-58 1-45 1 328 1-446 1 57 1 385 1 210 1-407 1-130 1 219 1-37 1-391 1 643 1-13 1-202 1 78 1 55 1-334 1-94 1 395 1-105 1-195 1 48 1 298 1-383 1 10 1 246 1-135 1 84 1 518 1-213 1-662 1-78 1 163 1 103 1 120 1 519 1-167 1-560 1-470 1 421 1 222 1 257 1 163 1-196 1-622 1 547 1-323 1 145 1 84 1 38 1-30 1-170 1 240 1-137 1-515 1 737 1 81 1-8 1-391 1 293 1-428 1 79 1 385 1-80 1-245 1 379 1-422 1-113 1-152 1 266 1 392 1-147 1-16 1-218 1 356 1-780 1 645 1 311 1-316 1 318 1-666 1 124 1 54 1 172 1 92 1-157 1 126 1-54 1-118 1-304 1 330 1-33 1-123 1 414 1 399 1-921 1 524 1-93 1-247 1 102 1 212 1-35 1-451 1 130 1 82 1 144 1-147 1 561 1-248 1-191 1 72 1 156 1-533 1 462 1 159 1-439 1-248 1 320 1-40 1-127 1-45 1 373 1 108 1-617 1 279 1-46 1-49 1 466 1 194 1-502 1 327 1-458 1 51 1-155 1 50 1 469 1-370 1 618 1-855 1 390 1-114 1-478 1 537 1-161 1 408 1 328 1-775 1 213 1-442 1 471 1-413 1 692 1-272 1-690 1 613 1-8 1-327 1 526 1-85 1-136 1-26 1 399 1 5 1-437 1 164 1 630 1-533 1-170 1 52 1-430 1 190 1 106 1 441 1-471 1 237 1 35 1-318 1 269 1-322 1 459 1-156 1 82 1-527 1 206 1-14 1 144 1 118 1-29 1 80 1-165 1 89 1-396 1 300 1-37 1-156 1 467 1 456 1-973 1-65 1 134 1 208 1-404 1 669 1 83 1-842 1 855 1-578 1-99 1 299 1 401 1-522 1-183 1-70 1 271 1-149 1 159 1 567 1-608 1-134 1 134 1 296 1-439 1 99 1 243 1 169 1-347 1-132 1 375 1-362 1 407 1 244 1-236 1-151 1 34 1-143 1-415 1 281 1 369 1-263 1 236 1 70 1-80 1-502 1 453 1-360 1 294 1 29 1 286 1-78 1-484 1 377 1-210 1 84 1-201 1 480 1-341 1-60 1-275 1 188 1 88 1-4 1 66 1 45 1 244 1-440 1-29 1 254 1 83 1 27 1 71 1-347 1 4 1-421 1 444 1-3 1 244 1-88 1 6 1-234 1 50 1-271 1 458 1-176 1 128 1 41 1-169 1 68 1 213 1-23 1-523 1 690 1-192 1-390 1 65 1-30 1 206 1-477 1 428 1 590 1-519 1 22 1-55 1 141 1 2 1-231 1 311 1-313 1-269 1 63 1 135 1 433 1-275 1 212 1 199 1-379 1 186 1-125 1-379 1 655 1-44 1-116 1-383 1 499 1-474 1-138 1 524 1 179 1-8 1-498 1 28 1-217 1 169 1 146 1 38 1 338 1-185 1-353 1-370 1 858 1-348 1-211 1 244 1-67 1 144 1-377 1 218 1 209 1-272 1 284 1-58 1-160 1 65 1-274 1 733 1-436 1 257 1 251 1-517 1-432 1 212 1 79 1 261 1-80 1 366 1-256 1-315 1 281 1-112 1-244 1 501 1-153 1 197 1-482 1 47 1-98 1 217 1-26 1 398 1-535 1 121 1 275 1-540 1-42 1 332 1 168 1-122 1-266 1 213 1-386 1 151 1 615 1-393 1 127 1 88 1-78 1-197 1 21 1 259 1-265 1 272 1 147 1-27 1-730 1 335 1 83 1-138 1 396 1 35 1-337 1-538 1 458 1 114 1-177 1 341 1 438 1-448 1-179 1-56 1 563 1-667 1 319 1 142 1-90 1-216 1 377 1-340 1-8 1-107 1 289 1 40 1 192 1-347 1-318 1 257 1 90 1 183 1-277 1 108 1 102 1-338 1-370 1 421 1-30 1 133 1 106 1-287 1 43 1-124 1 229 1 324 1-663 1 934 1-149 1-440 1-203 1 55 1-203 1 284 1 508 1-377 1 104 1-581 1 420 1 371 1-297 1 156 1 174 1-391 1 11 1-76 1 147 1-158 1 448 1 220 1-416 1-426 1-183 1 82 1 388 1 344 1 41 1-116 1-537 1 579 1-641 1-31 1 436 1 249 1-225 1-154 1 52 1-244 1 41 1 525 1-289 1-11 1 57 1-307 1-224 1 204 1 14 1-50 1 323 1 189 1-281 1-399 1 500 1 168 1-236 1 375 1-166 1-42 1-238 1-199 1 138 1 346 1 185 1-364 1-158 1-53 1 420 1-416 1 222 1 279 1-532 1 235 1 64 1-144 1 101 1 76 1 401 1-358 1-64 1 300 1-384 1-63 1 438 1-109 1-468 1 812 1-506 1-557 1-94 1 160 1 95 1 201 1-207 1 88 1 67 1 59 1-519 1 332 1 196 1 289 1 178 1-676 1-22 1 315 1-17 1-198 1 291 1-41 1 0 1-682 1 379 1 54 1-5 1 497 1-239 1-268 1-39 1-211 1 60 1 356 1 442 1-372 1-43 1-109 1 35 1 114 1-305 1 506 1 30 1-386 1 127 1 8 1 199 1-378 1 62 1 166 1-122 1 94 1-91 1-27 1-615 1 781 1-42 1-141 1-267 1 594 1-700 1 587 1 56 1-180 1 171 1-23 1-130 1-867 1 879 1 316 1-432 1 162 1 411 1-806 1 83 1-84 1 108 1-207 1 519 1 267 1-385 1-224 1 208 1-60 1-151 1 365 1 120 1-98 1-49 1-242 1-295 1 124 1 796 1-282 1-286 1-134 1 65 1 4 1 193 1 249 1-97 1-78 1-399 1-169 1 213 1 128 1 584 1-644 1 58 1 49 1 83 1-272 1 162 1 191 1-201 1-49 1 406 1-83 1-727 1 875 1-354 1 914 1-759 1 374 1-377 1-420 1 296 1-155 1 391 1-43 1 41 1-350 1-287 1 101 1-398 1 332 1 573 1-292 1-350 1 356 1-124 1-121 1 314 1 95 1 398 1-178 1-601 1 59 1-359 1 600 1 225 1 137 1-291 1 237 1 100 1-985 1 351 1 556 1-131 1-340 1 360 1-288 1-281 1 31 1 274 1 337 1-209 1 52 1-157 1-166 1 374 1-157 1 78 1-38 1 177 1-176 1-146 1 93 1 147 1-316 1 354 1 160 1-355 1-214 1 264 1-226 1 98 1 106 1 521 1-291 1-837 1 321 1 144 1 7 1-185 1 700 1-486 1-5 1 287 1-731 1 365 1 157 1 319 1-420 1-93 1-223 1 312 1-551 1 692 1 352 1-618 1 169 1-44 1 36 1-324 1 430 1-72 1-21 1 213 1-42 1-498 1-73 1 615 1-128 1-395 1 576 1-368 1-401 1 441 1 276 1-55 1-62 1 95 1-159 1-311 1 696 1-210 1-564 1 676 1 223 1-419 1-423 1 29 1 652 1-264 1 168 1 43 1-190 1-14 1-217 1-317 1 107 1 99 1 454 1-56 1-96 1-478 1 391 1-50 1 2 1 325 1-62 1-310 1 200 1 81 1-328 1 35 1 69 1-81 1 327 1 107 1-106 1-395 1 151 1 284 1-230 1-144 1 240 1-418 1 157 1 247 1-440 1 508 1 373 1-247 1-338 1-359 1 397 1-177 1 257 1 485 1-155 1-613 1 119 1 214 1-240 1 419 1-24 1-4 1-549 1 222 1-64 1 35 1 210 1 208 1-117 1-44 1 117 1-387 1-66 1 664 1-100 1-164 1-124 1 79 1-274 1-265 1 316 1 407 1-375 1 228 1 104 1-712 1 258 1 135 1 387 1-346 1 554 1-68 1-507 1-228 1 318 1-211 1-763 1 1013 1-47 1-508 1-40 1 532 1-243 1 172 1 240 1-52 1-398 1 513 1-344 1-198 1 207 1 587 1-467 1-261 1 26 1 344 1-726 1 556 1 410 1-186 1-475 1 514 1-172 1-402 1 216 1 527 1-194 1-319 1-354 1 0 1 657 1-343 1 466 1-317 1-59 1 255 1-344 1-139 1 205 1 86 1-23 1 126 1-248 1-115 1-51 1 260 1-1 1-306 1 360 1-215 1 214 1-264 1 295 1 100 1-393 1 285 1-8 1-414 1 324 1 35 1-140 1 337 1 138 1-177 1-400 1 63 1 129 1 57 1 18 1 93 1-10 1-225 1-152 1-118 1 127 1 29 1 364 1-113 1-111 1 333 1-211 1-296 1 213 1 279 1 101 1-134 1-25 1-347 1-162 1 139 1 404 1 25 1-308 1 59 1-254 1 136 1 273 1-327 1 94 1 227 1 186 1-13 1-789 1 388 1-88 1-133 1 634 1 239 1-622 1-182 1 415 1-8 1 156 1-242 1 22 1-97 1-219 1 334 1-60 1-146 1 461 1-137 1-386 1 206 1-162 1-247 1 340 1 255 1-17 1-220 1 29 1-74 1-101 1-76 1 483 1-293 1 271 1 117 1-325 1-164 1-43 1 433 1-607 1 621 1-19 1-262 1 105 1-422 1 32 1 576 1 37 1-148 1-234 1-239 1 330 1 162 1-130 1 138 1 36 1-195 1-478 1 302 1 123 1-194 1 244 1 223 1-105 1-325 1 103 1-181 1 31 1 207 1 233 1-370 1 10 1 103 1-53 1-182 1 429 1 124 1-303 1-101 1 255 1 17 1-118 1 109 1 103 1-174 1 167 1 160 1-933 1 515 1 267 1-352 1 135 1-42 1 108 1-412 1 31 1 605 1-487 1 366 1 166 1-554 1-259 1 269 1-132 1 570 1 96 1-472 1 294 1-376 1-108 1 130 1-61 1 97 1 518 1-218 1-444 1-12 1 194 1 287 1 34 1 248 1-677 1 75 1 105 1-36 1-102 1 593 1-131 1-260 1-209 1 224 1-1 1-382 1 609 1-153 1-227 1-44 1 217 1-542 1-221 1 927 1-120 1-74 1-98 1 23 1-208 1-401 1 584 1 2 1 205 1 132 1-26 1-148 1-671 1 352 1-50 1-84 1 446 1-156 1-136 1-178 1 470 1 62 1 162 1 82 1-411 1-273 1 42 1-52 1 92 1 318 1 140 1-484 1 210 1-27 1-397 1 118 1 516 1 106 1-339 1-235 1 137 1-2 1-217 1 62 1 365 1 165 1-45 1-35 1-505 1-26 1 416 1-13 1 117 1 16 1-98 1-387 1 568 1-494 1 197 1 213 1-47 1-80 1-94 1-203 1 120 1 217 1 55 1 135 1-210 1-130 1-57 1 348 1 1 1-284 1 364 1 33 1-779 1 515 1-254 1-131 1-164 1 794 1-191 1-60 1-140 1-223 1-179 1 396 1 328 1-356 1 187 1-412 1 235 1 81 1-145 1 244 1-153 1-331 1 270 1 317 1-506 1 439 1 381 1-449 1-101 1 242 1-347 1-156 1 342 1 262 1-197 1-167 1 28 1-261 1-183 1 495 1 216 1 78 1-319 1 83 1-148 1-164 1 131 1 152 1 10 1 110 1 294 1-270 1-411 1 273 1-107 1-176 1 452 1-201 1-148 1-333 1 557 1-341 1 231 1 384 1-274 1-180 1 67 1 27 1 202 1-176 1 729 1-1001 1-319 1 578 1-502 1 534 1-49 1 205 1 51 1 13 1 163 1-580 1-419 1 424 1 115 1 385 1 59 1-228 1-326 1-11 1 179 1-4 1-271 1 81 1 597 1-333 1-271 1 39 1 297 1-138 1 288 1-78 1-221 1-264 1 184 1 301 1-335 1 426 1-11 1-575 1 6 1 244 1-122 1-3 1 751 1-215 1-471 1-27 1 308 1-371 1-154 1 281 1 153 1-32 1 45 1-182 1-49 1 13 1 638 1-713 1 123 1-23 1 295 1-459 1 39 1 261 1-38 1 155 1-139 1 23 1-676 1 547 1-4 1-3 1 307 1-111 1-390 1-84 1 282 1 17 1-57 1 519 1 277 1-599 1-178 1-129 1 79 1 172 1 12 1 152 1-537 1-50 1 573 1-335 1-66 1 352 1 32 1 101 1-387 1 117 1-76 1-175 1 576 1 50 1-570 1-97 1 113 1-170 1-24 1 336 1 258 1-95 1 132 1-430 1-162 1-23 1 307 1 2 1-20 1 190 1-268 1-284 1 105 1 455 1-158 1 392 1-367 1-252 1-104 1 91 1 476 1-555 1 963 1-467 1 214 1-516 1-36 1 379 1-223 1 193 1 145 1-347 1-130 1 60 1-17 1 182 1 374 1-406 1-187 1 110 1 74 1-463 1 202 1 734 1-270 1-421 1 350 1-40 1-160 1-276 1 285 1 355 1-81 1-534 1 344 1-37 1-415 1 34 1 425 1-101 1 19 1-14 1-169 1-61 1 312 1-15 1-459 1 552 1 81 1-268 1-289 1 452 1-178 1 152 1 298 1-614 1-509 1 455 1 532 1-471 1 529 1-552 1 519 1-813 1 444 1 330 1-442 1 331 1 261 1-550 1 38 1 130 1-128 1 116 1 123 1-1 1-353 1 65 1 495 1-394 1-56 1 324 1 54 1-346 1 84 1 259 1-435 1-48 1 318 1 177 1-37 1 93 1-557 1-326 1 211 1 445 1-202 1 106 1-1 1 199 1-361 1-19 1 214 1 171 1 10 1-27 1 121 1-440 1 12 1 98 1 356 1-181 1 27 1-95 1-593 1 569 1-318 1 3 1 453 1 116 1-245 1-20 1-3 1-16 1-116 1 300 1 166 1-531 1 88 1-94 1 283 1-312 1 123 1 245 1-227 1-52 1-132 1 374 1-391 1 119 1 322 1 267 1 307 1-394 1-395 1-275 1-48 1 367 1-61 1-30 1 223 1-337 1 66 1 237 1-80 1 289 1-146 1 60 1-180 1-55 1 235 1-518 1 432 1 151 1 125 1-653 1 86 1 435 1-357 1-233 1 970 1-882 1 115 1-378 1 619 1-433 1 210 1 399 1-259 1-11 1-54 1-52 1-2 1-7 1 704 1-570 1-409 1 488 1-111 1-750 1 519 1 352 1-57 1-403 1 491 1-354 1-117 1 525 1-240 1 97 1 74 1 73 1-555 1-95 1 243 1 70 1-266 1 664 1-261 1-246 1-241 1 646 1-151 1-292 1 697 1-178 1-26 1-309 1 112 1-234 1 100 1 557 1-355 1-121 1-149 1 217 1-158 1-99 1 292 1 189 1-367 1-107 1 215 1-427 1 208 1 470 1 239 1-268 1-144 1-114 1-390 1 350 1 404 1 172 1-642 1 172 1-292 1-247 1 229 1 406 1-405 1 153 1 499 1-605 1 104 1-155 1 396 1-129 1-130 1 220 1-301 1-7 1 288 1 60 1-309 1-57 1 318 1-855 1 623 1 175 1-281 1 122 1 401 1 35 1-495 1-61 1 157 1 29 1-141 1 502 1 165 1-665 1 180 1 129 1-358 1 26 1 675 1 40 1-942 1 332 1 43 1-282 1 262 1 280 1-16 1-115 1-26 1-69 1-253 1 16 1 284 1 243 1 120 1-405 1-46 1-315 1 346 1 75 1-88 1-161 1 703 1-457 1-301 1 9 1 495 1-100 1 62 1 38 1 115 1-783 1 646 1-315 1 129 1 196 1 407 1-729 1 412 1-187 1-195 1-1 1 204 1 378 1-831 1-169 1 462 1-28 1 158 1-42 1 312 1-161 1-289 1 14 1-319 1 419 1-23 1-126 1-39 1-60 1 26 1-535 1 613 1 352 1-537 1 467 1-132 1-25 1-311 1-90 1 749 1-496 1 216 1-131 1-77 1-195 1-164 1 393 1 64 1-132 1 93 1 143 1-701 1 559 1 317 1-356 1 286 1 183 1-258 1-474 1 458 1-411 1-139 1 597 1 27 1 424 1-529 1-58 1-206 1 82 1 315 1 164 1-282 1-51 1 150 1-177 1-310 1 558 1 22 1-189 1 52 1-394 1-187 1 240 1 440 1 157 1-529 1 16 1 620 1-687 1 73 1 270 1-124 1-157 1 82 1 125 1-424 1 567 1-573 1 357 1 243 1-18 1-153 1-291 1 320 1-272 1 56 1 106 1 255 1 127 1-798 1 522 1 2 1-49 1 85 1 193 1-184 1-536 1 29 1 482 1-226 1 114 1 410 1-432 1-8 1 178 1-614 1 106 1 256 1 170 1-156 1-124 1 107 1-230 1 20 1 409 1-60 1-120 1 269 1 122 1-614 1 192 1 29 1-104 1 155 1 336 1-203 1 16 1-587 1 305 1-114 1-69 1 538 1 344 1-760 1-36 1 424 1-255 1-73 1 208 1 84 1-244 1-81 1 101 1 162 1-193 1 388 1-75 1-277 1 87 1 151 1-326 1-10 1 411 1-30 1 12 1-454 1 556 1-526 1 363 1 205 1-341 1-109 1 231 1-49 1-409 1 344 1 71 1 12 1 18 1-157 1-11 1-300 1 314 1 423 1 101 1-419 1 18 1-177 1-379 1 253 1 181 1 133 1 16 1 242 1-623 1 100 1 174 1 97 1-28 1-234 1 18 1 123 1-358 1 457 1-275 1 241 1 308 1-203 1-348 1 187 1 41 1 69 1 357 1-378 1 268 1-538 1 397 1-455 1-35 1 205 1-114 1 331 1-564 1 709 1-392 1-63 1 453 1 304 1-331 1-309 1 349 1-290 1-285 1 200 1 564 1-328 1 215 1-181 1-282 1-456 1 394 1 575 1-480 1 281 1-401 1 147 1-505 1 195 1 602 1-33 1-618 1 533 1-279 1 198 1-51 1-208 1 704 1 68 1-525 1 9 1-159 1-158 1 463 1 56 1-225 1 418 1-483 1-98 1 226 1-98 1 38 1 374 1-350 1-156 1 433 1-589 1-150 1 439 1 89 1-209 1-119 1 102 1 50 1-440 1 249 1 386 1-50 1 165 1-218 1-459 1 674 1-212 1-13 1-30 1-170 1 228 1-509 1 182 1 417 1-107 1 27 1 115 1 169 1-539 1-58 1 275 1-135 1 172 1 345 1-273 1 93 1-421 1 635 1-534 1-43 1 108 1 441 1-665 1 355 1-238 1 132 1 304 1 42 1-232 1-296 1 134 1 144 1-240 1 188 1 280 1-80 1-354 1 153 1 100 1-151 1 105 1 33 1 96 1-32 1-48 1-334 1-142 1 181 1 356 1 177 1-558 1 415 1-155 1-218 1 255 1 115 1-194 1-71 1 146 1-237 1 143 1-315 1 290 1 15 1 306 1-119 1-163 1-445 1 160 1-240 1 368 1 367 1-118 1-252 1-57 1 238 1-62 1 14 1 76 1 33 1-406 1 262 1 204 1-86 1-254 1 364 1 53 1-573 1 453 1 210 1-662 1 60 1 352 1 160 1-455 1 306 1-110 1-84 1-74 1 245 1 110 1-52 1 136 1-267 1-214 1 205 1-6 1 186 1 38 1 24 1-59 1-608 1 485 1 100 1-422 1 226 1 48 1-209 1-98 1 240 1 94 1-527 1 550 1 2 1-58 1-361 1 306 1-288 1 272 1 302 1 27 1-285 1-511 1 739 1-677 1 175 1 311 1 165 1-183 1 12 1-76 1-322 1 427 1 231 1 160 1-365 1 6 1-42 1-342 1-204 1 197 1 493 1-181 1 16 1-316 1-282 1 514 1 31 1 360 1-384 1 543 1-293 1-94 1-267 1 392 1-281 1 597 1-472 1-2 1-481 1 280 1 461 1-352 1-141 1 342 1-416 1 131 1 283 1 116 1-291 1 151 1 93 1-221 1 31 1-182 1-105 1-22 1 190 1 482 1-382 1-3 1-79 1-164" stroke="#008000" stroke-width="1.3" fill="none" stroke-linejoin="round" vector-effect="non-scaling-stroke" stroke-dasharray="1.5 2.1"/></g>
<g transform="scale(0.779 1)">
<path d="M350.77,217.4V400.6H582.86" stroke="#9a9a9a" stroke-width="1.35" fill="none"/>
<path d="M350.77,400.6h2.82M350.77,370.07h2.82M350.77,339.53h2.82M350.77,309h2.82M350.77,278.47h2.82M350.77,247.93h2.82M350.77,217.4h2.82M361.32,400.6v-2.2M396.49,400.6v-2.2M431.65,400.6v-2.2M466.82,400.6v-2.2M501.98,400.6v-2.2M537.15,400.6v-2.2M572.31,400.6v-2.2" stroke="#6a6a6a" stroke-width="1" fill="none"/>
<text x="348.07" y="404.9" font-size="10" textLength="35.87" lengthAdjust="spacingAndGlyphs" text-anchor="end" fill="#262626" stroke="#262626" stroke-width="0.06">−0.006</text>
<text x="348.07" y="374.37" font-size="10" textLength="35.87" lengthAdjust="spacingAndGlyphs" text-anchor="end" fill="#262626" stroke="#262626" stroke-width="0.06">−0.004</text>
<text x="348.07" y="343.83" font-size="10" textLength="35.87" lengthAdjust="spacingAndGlyphs" text-anchor="end" fill="#262626" stroke="#262626" stroke-width="0.06">−0.002</text>
<text x="348.07" y="313.3" font-size="10" textLength="27.75" lengthAdjust="spacingAndGlyphs" text-anchor="end" fill="#262626" stroke="#262626" stroke-width="0.06">0.000</text>
<text x="348.07" y="282.77" font-size="10" textLength="27.75" lengthAdjust="spacingAndGlyphs" text-anchor="end" fill="#262626" stroke="#262626" stroke-width="0.06">0.002</text>
<text x="348.07" y="252.23" font-size="10" textLength="27.75" lengthAdjust="spacingAndGlyphs" text-anchor="end" fill="#262626" stroke="#262626" stroke-width="0.06">0.004</text>
<text x="348.07" y="221.7" font-size="10" textLength="27.75" lengthAdjust="spacingAndGlyphs" text-anchor="end" fill="#262626" stroke="#262626" stroke-width="0.06">0.006</text>
<g transform="translate(306.8 309.5) scale(1.28 1) rotate(-90) scale(1 0.79)"><text x="0" y="0" font-size="12.8" textLength="126.87" lengthAdjust="spacingAndGlyphs" text-anchor="middle" fill="#262626" stroke="#262626" stroke-width="0.02">NaturalWaves (units)</text></g>
<rect x="433.06" y="375.8" width="144.29" height="19.2" rx="1.67" ry="1.6" fill="#ffffff" fill-opacity="0.8" stroke="#d9d9d9" stroke-width="0.8"/>
<path d="M437.16,384.7H460.78" stroke="#008000" stroke-width="1.45" fill="none" stroke-dasharray="1.73 1.99"/>
<text x="469" y="388.4" font-size="11" textLength="103.21" lengthAdjust="spacingAndGlyphs" text-anchor="start" fill="#262626" stroke="#262626" stroke-width="0.12">NaturalWaves (N5)</text>
<path d="M653.1,217.4V400.6M688.27,217.4V400.6M723.44,217.4V400.6M758.6,217.4V400.6M793.77,217.4V400.6M828.93,217.4V400.6M864.1,217.4V400.6M642.55,400.6H874.65M642.55,370.07H874.65M642.55,339.53H874.65M642.55,309H874.65M642.55,278.47H874.65M642.55,247.93H874.65M642.55,217.4H874.65" stroke="#ebebeb" stroke-width="0.7" stroke-dasharray="3 1.2" fill="none"/>
</g>
<g clip-path="url(#cq12)"><path transform="translate(508.77 0) scale(0.027399 0.1)" d="M0,3302l1-573 1 107 1-154 1 290 1 166 1 83 1 6 1-144 1-52 1-138 1-125 1 344 1 297 1 235 1-922 1 383 1-339 1 0 1-143 1 396 1 175 1-389 1 521 1-550 1 322 1-168 1 145 1 92 1 46 1 157 1-286 1-497 1 238 1 455 1 123 1-345 1 499 1-437 1-176 1-84 1 255 1-99 1 165 1 270 1-536 1-359 1 466 1-60 1 119 1-12 1 145 1-356 1-42 1-110 1 373 1-1 1 331 1-180 1-62 1-88 1-183 1-187 1 158 1 960 1-309 1-241 1-9 1-140 1-609 1 498 1 421 1-278 1-78 1 10 1 99 1-362 1 32 1 781 1-80 1-645 1 114 1 131 1-159 1-19 1 476 1-206 1-414 1 401 1-400 1 4 1 41 1 15 1 484 1-121 1 89 1-334 1-499 1 324 1 556 1-287 1 287 1 138 1-854 1 390 1-118 1 221 1-343 1 344 1 169 1-244 1-397 1 505 1-99 1 61 1-176 1 424 1-120 1-215 1-519 1 363 1-175 1 410 1 170 1-88 1-95 1-2 1 142 1-896 1 664 1 201 1-93 1 157 1-410 1-49 1-61 1 677 1-335 1-391 1 548 1-344 1-149 1-116 1 266 1 176 1 138 1-19 1-137 1-169 1-104 1 188 1 215 1-43 1-419 1 188 1-132 1-365 1 672 1 340 1 81 1 108 1-592 1-364 1 710 1-650 1 402 1-28 1 135 1-237 1-75 1 37 1 152 1-325 1 173 1 161 1-549 1 219 1 101 1-375 1 248 1 630 1 301 1-862 1 139 1-69 1-31 1-139 1 23 1 374 1 173 1-57 1-420 1 177 1 310 1 231 1-161 1-451 1 282 1 51 1-222 1-188 1 235 1 62 1-12 1 294 1-657 1 499 1-428 1 366 1-389 1 316 1 106 1-218 1-215 1-87 1 514 1-536 1 436 1 114 1-430 1-134 1-104 1 776 1-343 1-111 1 628 1-381 1-510 1 213 1 212 1-368 1 263 1 300 1-138 1-101 1 347 1-548 1 134 1 45 1 134 1 130 1-258 1 43 1-215 1-209 1 497 1 79 1-141 1 147 1-279 1 357 1-436 1 583 1-264 1-150 1 240 1-270 1-211 1 593 1-133 1-551 1 71 1 527 1 208 1-1044 1 854 1-371 1-7 1 87 1 545 1-289 1-557 1 344 1 179 1-380 1 185 1 315 1-21 1-458 1 177 1 113 1-408 1 300 1 216 1 216 1-293 1-194 1-276 1-27 1 313 1 96 1-176 1-169 1 287 1-55 1-336 1 752 1-243 1 8 1-4 1-86 1-225 1 184 1 40 1 169 1-193 1 91 1 248 1-670 1-190 1 514 1-184 1 449 1 52 1-334 1 199 1-289 1 214 1-456 1 79 1 629 1-212 1 232 1-685 1 152 1-305 1 864 1-230 1 49 1 197 1-352 1-155 1-331 1 306 1 439 1-288 1-56 1 151 1-53 1-412 1 221 1-61 1 348 1-473 1 304 1-369 1 217 1 233 1 104 1-322 1 169 1-53 1-186 1-319 1 397 1 286 1-264 1 208 1-273 1 59 1-205 1 288 1-220 1 31 1 253 1 405 1-277 1-461 1 69 1-165 1 662 1-43 1 308 1-459 1-212 1-138 1 198 1 107 1 238 1-323 1-501 1 754 1-232 1-128 1-196 1 472 1-253 1 290 1-176 1 25 1-81 1-28 1 514 1-710 1 219 1 340 1-226 1-690 1 614 1 42 1-41 1-127 1 175 1-51 1-163 1 425 1-133 1-95 1 169 1 56 1-61 1-882 1 708 1 229 1-131 1 82 1-81 1 318 1-760 1 380 1-50 1-256 1 294 1 367 1-420 1-520 1 215 1 40 1 178 1 117 1 173 1-99 1 12 1-242 1-111 1-115 1 665 1-333 1 110 1-333 1 126 1 14 1 154 1 176 1 35 1-400 1 359 1 70 1-538 1-268 1 366 1 424 1-147 1-27 1 39 1-357 1 139 1 409 1-122 1-9 1-17 1 66 1-526 1 355 1 148 1 15 1-892 1 682 1-270 1-145 1 342 1 32 1-90 1 168 1 119 1-456 1 674 1-355 1-246 1 167 1 230 1-186 1-16 1-452 1 435 1-155 1 239 1 497 1-194 1-336 1 9 1 225 1-575 1 123 1 350 1 233 1-664 1 36 1 200 1-167 1-35 1 47 1-175 1 427 1 156 1 184 1-1194 1 824 1-94 1 78 1-198 1 557 1 5 1-656 1 32 1 84 1 528 1-186 1 132 1 24 1-532 1-95 1 309 1 225 1-207 1 93 1-158 1-312 1 570 1-363 1-90 1 411 1 134 1-93 1-598 1 379 1 77 1-286 1 295 1 74 1 69 1-162 1-155 1-506 1 290 1 675 1-147 1-9 1 161 1-212 1-247 1-233 1 150 1 147 1-80 1 277 1-143 1-248 1-299 1 711 1 43 1-477 1 290 1 127 1-443 1 752 1-486 1-106 1 85 1 282 1-55 1-91 1-220 1-118 1 147 1 254 1 138 1-34 1-533 1-286 1 143 1 50 1 241 1 439 1 20 1-506 1 148 1-245 1 39 1 369 1 41 1-670 1 558 1-344 1 13 1 30 1 404 1 68 1-215 1-214 1 54 1-108 1 93 1 107 1 332 1-34 1-395 1 324 1-155 1-340 1 694 1-236 1-201 1 244 1-140 1-688 1 77 1 368 1 133 1 177 1 82 1-17 1-400 1-56 1 402 1-468 1 545 1-54 1-211 1-127 1 116 1 10 1-425 1 353 1 443 1-280 1-149 1 345 1-356 1-256 1 139 1 522 1 135 1-754 1 301 1-211 1-211 1 371 1 354 1-24 1-202 1-44 1-34 1-314 1 707 1 62 1-319 1 58 1 17 1-97 1-508 1 82 1 711 1-526 1 536 1-275 1 139 1-627 1 352 1 107 1-277 1 241 1 140 1-168 1-283 1 374 1 4 1-390 1 319 1 109 1-404 1 326 1-129 1 335 1-163 1 61 1-34 1-386 1 67 1 122 1-74 1-180 1 323 1 481 1-590 1-229 1 320 1-235 1 309 1 431 1-337 1-106 1-17 1 181 1-237 1-9 1 359 1-280 1 188 1-289 1-129 1-109 1 111 1 399 1-63 1-61 1 310 1-470 1-366 1 697 1-254 1 187 1 16 1-17 1-318 1-403 1 509 1-246 1 280 1 77 1 23 1-57 1-65 1-59 1-83 1-43 1 479 1-372 1 44 1-1 1-233 1-66 1 455 1-51 1 426 1-555 1-493 1 249 1-15 1 87 1 615 1-234 1-270 1 282 1-259 1-256 1 183 1 288 1 98 1 1 1-185 1 284 1-466 1-200 1 167 1 222 1 467 1-655 1-16 1-107 1-10 1 289 1 285 1 35 1-354 1 416 1-810 1 233 1 47 1-202 1 192 1 69 1-134 1-160 1 55 1 300 1 136 1 38 1 406 1-502 1-687 1 436 1 132 1 66 1 501 1-146 1-245 1-272 1 72 1-64 1 372 1-335 1 268 1-176 1 8 1-121 1-330 1 171 1 685 1 60 1 13 1-479 1-152 1-333 1 291 1 198 1 349 1-408 1 191 1-1 1-76 1-447 1 958 1-579 1 240 1-163 1 58 1-544 1 313 1 390 1-140 1 270 1-223 1-369 1-156 1 189 1-85 1 432 1-189 1 268 1-159 1-441 1 450 1-146 1-141 1 522 1-22 1-412 1-270 1 464 1-406 1 194 1 215 1 269 1-511 1 172 1-136 1-158 1-95 1 678 1-239 1-70 1-320 1 359 1-174 1-96 1 386 1 50 1 57 1 192 1-166 1-448 1-170 1 461 1 164 1-240 1 57 1-628 1-20 1 266 1 589 1-252 1 27 1-13 1-457 1 111 1 445 1-167 1 269 1-402 1 141 1-40 1 61 1-174 1-166 1 373 1 92 1 45 1-262 1-166 1 28 1 34 1 81 1 145 1 136 1 50 1-433 1 84 1-162 1-53 1 566 1 228 1-499 1-22 1-10 1-52 1 74 1 17 1 228 1-313 1-108 1 4 1-236 1 333 1 542 1-189 1 4 1 90 1-422 1 134 1-516 1 252 1-256 1 273 1-63 1 455 1-325 1-322 1 679 1-482 1 309 1 533 1-864 1 251 1-680 1 930 1-173 1-97 1 281 1 161 1-625 1 28 1 10 1 316 1-14 1 159 1-346 1-113 1 152 1-21 1-478 1 685 1 30 1 312 1-916 1 292 1 302 1-582 1 126 1 330 1-10 1-221 1 348 1-313 1-95 1 209 1 391 1-596 1 317 1 202 1-453 1-212 1 346 1-94 1 210 1 194 1-262 1-478 1 365 1 369 1-138 1-126 1 377 1-278 1-140 1-385 1 593 1-72 1-142 1 132 1-124 1-11 1-148 1 7 1-250 1 569 1 353 1-439 1-138 1-295 1 277 1-182 1 392 1 86 1-302 1 74 1 223 1-481 1 78 1 151 1 427 1-444 1 202 1-1 1-260 1-129 1 649 1-293 1 210 1-309 1 177 1-293 1-47 1 321 1-58 1-99 1-87 1 133 1-56 1-512 1 37 1 397 1 130 1 311 1-183 1-32 1-551 1 430 1 66 1-162 1 527 1 98 1-587 1-400 1 544 1-383 1 582 1-57 1-138 1-556 1 659 1-266 1 49 1-131 1 485 1-177 1-86 1-33 1-205 1-383 1 404 1 334 1 48 1-576 1 727 1-95 1-441 1-48 1 191 1-2 1-122 1 181 1-62 1-104 1-84 1 510 1-340 1-49 1 344 1-284 1-193 1-29 1 270 1 102 1-71 1-161 1-58 1-158 1 295 1 188 1-216 1 188 1 143 1-607 1 128 1 139 1-72 1-65 1 722 1-349 1-501 1 362 1-195 1 87 1 134 1 74 1 97 1 110 1-332 1-244 1 111 1 112 1 264 1 15 1-445 1 320 1 14 1-527 1 10 1 382 1-50 1 154 1 218 1-272 1-384 1 471 1 17 1-212 1 205 1-423 1 48 1 118 1 146 1 142 1-323 1 103 1 317 1-386 1-372 1 215 1 555 1-148 1 118 1 284 1-779 1 74 1 146 1 87 1-257 1 182 1 100 1-398 1 254 1-384 1-209 1 567 1 263 1-84 1-397 1 189 1 166 1-691 1 513 1 766 1-560 1-323 1-173 1-9 1-464 1 751 1 423 1-291 1-359 1 449 1 180 1-188 1-353 1 427 1-134 1 138 1 67 1-360 1-161 1-56 1 407 1 12 1-125 1 270 1-279 1-349 1 298 1 120 1-83 1-17 1 250 1-225 1-317 1 264 1-22 1 160 1 393 1-257 1 213 1-581 1-227 1 168 1 285 1-88 1 268 1-41 1-310 1 160 1-131 1-170 1 671 1-316 1-455 1 329 1 196 1-287 1-344 1 667 1-75 1-537 1 571 1-169 1-120 1-213 1 403 1 242 1-357 1 118 1-253 1-206 1 81 1 78 1 360 1-209 1 379 1-515 1 97 1-287 1 567 1-196 1 285 1 125 1-121 1-587 1 45 1 113 1 22 1 237 1 45 1-361 1 90 1 141 1-190 1-360 1 610 1 272 1-72 1-284 1 110 1-30 1-478 1 217 1 443 1-204 1-293 1 209 1-150 1-181 1 1054 1-702 1-560 1 562 1-27 1-1 1-149 1 209 1 80 1-22 1 217 1-312 1-105 1-238 1 424 1 73 1-93 1 503 1-696 1 93 1-277 1 224 1 251 1 141 1-199 1 215 1-507 1-108 1 379 1 826 1-746 1 2 1 139 1-649 1 489 1 5 1-88 1 153 1-217 1 42 1-113 1 109 1-323 1 142 1 368 1-225 1 402 1-502 1-40 1-139 1-323 1 469 1 550 1-512 1 40 1 343 1-196 1-185 1 541 1-292 1-158 1-17 1 292 1-398 1-368 1 441 1 260 1 18 1-72 1-242 1-61 1-548 1 238 1 425 1 406 1-116 1-310 1 22 1-52 1 80 1-496 1 624 1 510 1-477 1 73 1-542 1 282 1-97 1 230 1-5 1 123 1-416 1 236 1-345 1 120 1 264 1 207 1 132 1-353 1-258 1 23 1-194 1 210 1 492 1-179 1-529 1 434 1 167 1-472 1 302 1 212 1-129 1 118 1-227 1-81 1-332 1 495 1 280 1-201 1-395 1 733 1-830 1 47 1 8 1 457 1-219 1 113 1-295 1 128 1-221 1 413 1-130 1 174 1 72 1-66 1-365 1 171 1 168 1-405 1 347 1 126 1 98 1-70 1-358 1 111 1-450 1 782 1 41 1-241 1-60 1 291 1-511 1-58 1 312 1 355 1-100 1-393 1 91 1 40 1-390 1 19 1 636 1-479 1 159 1-56 1-100 1-240 1 236 1 762 1-319 1-399 1 453 1-433 1 92 1 16 1-201 1 188 1 271 1 48 1-60 1-636 1 331 1-51 1-60 1 362 1 221 1-251 1-342 1 88 1-214 1 428 1-40 1 372 1-401 1-401 1 175 1 164 1 31 1-45 1 308 1-267 1 62 1-624 1 5 1 300 1-1 1 368 1-87 1-197 1-173 1 298 1-376 1 346 1-56 1 16 1-91 1 477 1-569 1-97 1 407 1 36 1 199 1-130 1 158 1-559 1 26 1 431 1-232 1 93 1-58 1 36 1-28 1 81 1 98 1-196 1 77 1 300 1-418 1-101 1-110 1 491 1-533 1 357 1 273 1-144 1-526 1 346 1-233 1-267 1 583 1 117 1-336 1 59 1-396 1 333 1-193 1 379 1 287 1-631 1 110 1 236 1-172 1 257 1 171 1-293 1-206 1 336 1-323 1-308 1 78 1 240 1 656 1-543 1 283 1-397 1-9 1-99 1 151 1 484 1-229 1 127 1-266 1-7 1-370 1 21 1 407 1-115 1 779 1-469 1 204 1-693 1 90 1-176 1 371 1 252 1-178 1-378 1 532 1-632 1 652 1 97 1-129 1-407 1-136 1-99 1 345 1-20 1 40 1 507 1-491 1-201 1 101 1 326 1-403 1 668 1-412 1 48 1-341 1-41 1 307 1-475 1 429 1-101 1 382 1 22 1-118 1-71 1-395 1 479 1-111 1-119 1 1 1 351 1-718 1 15 1 607 1-54 1 151 1-360 1-139 1 98 1-108 1 106 1-83 1 220 1-127 1 349 1-662 1 202 1 81 1 139 1 342 1-1 1-375 1-14 1 229 1-274 1-115 1 409 1 66 1-295 1-163 1-79 1-129 1 138 1 422 1 402 1-718 1 7 1-84 1 187 1-282 1 483 1 201 1-48 1-270 1-116 1-306 1 19 1 406 1-313 1-20 1 161 1 159 1-523 1 331 1 382 1-295 1 36 1-30 1 311 1-545 1 223 1 97 1-144 1 119 1 379 1 18 1-544 1 96 1 263 1-340 1 281 1-170 1-268 1-123 1-309 1 856 1 6 1-152 1 593 1-504 1-398 1 57 1-59 1 104 1 185 1 214 1-82 1-371 1 307 1-186 1-18 1-70 1 412 1-137 1 33 1 297 1-459 1 185 1-136 1 429 1-601 1 382 1-75 1-189 1-11 1 346 1 329 1-438 1 373 1-597 1 151 1-246 1 127 1 92 1-283 1 427 1 74 1-411 1-401 1 334 1 527 1-313 1 392 1-217 1-447 1 79 1 0 1-284 1 755 1-36 1-80 1-367 1 63 1-128 1 52 1 55 1 697 1-421 1 47 1-321 1-288 1 181 1 94 1 238 1-216 1-27 1-37 1 196 1-284 1 489 1-452 1 568 1-454 1 210 1-214 1 52 1 12 1 179 1-141 1 199 1-47 1-48 1-605 1 584 1-699 1 709 1 213 1-106 1-256 1-390 1 165 1 403 1-6 1 244 1-200 1-425 1-49 1 297 1-73 1-93 1 176 1 264 1-541 1 232 1-30 1-295 1 461 1 492 1-128 1-446 1 161 1-180 1-466 1 453 1 4 1 57 1 187 1-361 1-65 1-243 1 304 1 295 1 112 1-38 1-90 1-310 1 11 1-257 1 661 1-208 1 322 1-468 1-68 1-354 1 669 1-327 1 133 1 308 1 63 1-61 1-478 1-36 1 444 1-282 1 496 1 388 1-781 1-504 1 199 1 377 1-394 1 305 1 221 1-155 1-387 1 309 1-19 1-269 1 654 1-199 1-427 1 358 1-128 1-229 1 494 1 93 1 51 1-1211 1 1055 1-449 1 205 1-76 1 198 1-179 1 474 1-2 1-146 1-413 1-133 1 509 1-73 1-324 1 463 1-259 1-636 1 359 1 512 1-29 1-304 1 576 1-266 1-607 1 30 1 95 1 470 1-158 1 878 1-712 1-984 1 393 1 233 1 272 1 281 1-307 1-21 1-67 1-198 1-22 1 232 1 232 1-378 1 365 1-518 1 401 1-94 1 18 1 144 1 94 1-374 1 235 1-208 1-15 1 39 1 71 1 115 1 214 1-306 1 348 1-414 1-492 1 382 1 335 1-252 1-42 1-185 1-301 1 542 1 139 1-29 1 482 1-181 1-372 1-194 1 153 1 321 1-148 1-32 1 241 1-474 1-234 1 497 1-312 1 122 1 17 1 482 1-522 1 61 1-255 1 231 1-25 1 441 1 262 1-709 1 196 1 81 1-381 1 3 1 178 1 556 1-54 1-351 1-327 1 34 1-153 1 302 1 221 1-179 1 45 1-75 1-265 1 146 1 78 1-293 1 407 1 70 1-236 1-101 1-280 1 723 1-252 1 356 1-181 1 31 1-339 1 119 1 46 1-106 1 483 1-141 1-179 1-413 1 78 1 448 1-445 1 462 1-33 1-93 1-151 1 109 1-56 1-399 1 328 1 487 1-426 1-430 1-42 1 734 1-578 1 214 1 565 1 29 1-782 1 388 1 108 1-220 1-74 1-62 1 80 1 264 1-376 1 407 1-669 1 311 1 6 1 27 1-24 1 215 1-187 1-167 1-79 1 605 1-186 1 177 1-234 1-285 1-374 1 230 1 258 1 21 1 377 1 219 1-664 1-17 1 430 1-272 1-107 1 602 1-424 1-238 1 177 1-4 1-193 1 292 1 253 1-374 1-142 1 21 1 238 1-351 1 15 1 767 1 18 1-392 1-94 1 111 1-12 1-434 1 682 1-49 1 262 1-693 1 331 1-725 1 399 1 309 1-32 1-278 1 349 1-415 1 9 1 226 1-185 1-3 1 454 1 26 1-470 1-111 1 126 1 288 1 76 1-225 1 228 1-507 1 197 1-263 1 284 1-4 1 198 1 383 1-785 1 163 1 274 1-333 1-217 1 758 1-473 1 429 1-534 1 258 1-271 1-272 1 602 1 376 1-849 1 501 1-102 1-91 1-54 1 365 1-418 1 63 1-33 1 76 1-449 1 620 1 373 1-544 1-75 1 200 1-611 1 410 1-246 1 225 1 470 1-359 1 28 1-62 1-211 1 204 1 339 1 37 1-333 1 186 1-255 1-286 1 467 1 65 1-326 1 346 1-31 1-435 1-281 1 690 1-55 1 167 1 113 1-190 1-108 1-639 1 625 1 196 1-138 1-279 1 612 1-446 1 99 1 97 1-595 1 546 1 452 1-209 1-244 1-213 1 29 1-428 1 404 1 201 1-38 1-253 1 494 1-288 1 230 1-233 1 378 1-110 1-537 1 192 1 317 1-910 1 269 1 451 1 6 1 47 1 92 1-376 1-67 1-81 1 419 1 22 1 28 1 28 1-296 1-132 1 448 1 35 1 35 1-63 1-72 1-165 1-155 1 576 1-426 1 49 1-54 1 552 1-351 1-379 1 238 1-318 1 233 1 153 1 113 1 53 1-407 1-126 1 185 1-60 1 189 1-134 1 47 1-366 1 483 1-709 1 1523 1-741 1 184 1-478 1 149 1 348 1-113 1-836 1 759 1 252 1-165 1 41 1-577 1-71 1 193 1 405 1-355 1 554 1-407 1-192 1 6 1 321 1-49 1-148 1-249 1 231 1 210 1-212 1 227 1-316 1 130 1-1 1 292 1-136 1-86 1 200 1-499 1 331 1-97 1 611 1-65 1-603 1 164 1-458 1 155 1 345 1-68 1 100 1-279 1-358 1 198 1 223 1 159 1 226 1-229 1-341 1 464 1-244 1-317 1 485 1-13 1 27 1-51 1-347 1-156 1 255 1 238 1 101 1 17 1-184 1-76 1-303 1 59 1 393 1-162 1 5 1-5 1 72 1-253 1 243 1-273 1 182 1 89 1 193 1 19 1-445 1-90 1 374 1-152 1 311 1 35 1-597 1 178 1-120 1 79 1-77 1 337 1 145 1-107 1-106 1 3 1-64 1-489 1 528 1 255 1-63 1-177 1 221 1-181 1-222 1-6 1 378 1-168 1 312 1-327 1-113 1-23 1 312 1-84 1 154 1 39 1-123 1-188 1 191 1-251 1 313 1 187 1-160 1-107 1-549 1-11 1 806 1-377 1-38 1 567 1-627 1-131 1 237 1 9 1-261 1-155 1 301 1 489 1-617 1 451 1-320 1 46 1 110 1 280 1-316 1 76 1-232 1 3 1 26 1-180 1 433 1-37 1-105 1-83 1-74 1-31 1 201 1 240 1-110 1-686 1 493 1-403 1 252 1 514 1-166 1-234 1 332 1-144 1-112 1-357 1 410 1-52 1-129 1 482 1 21 1-388 1-312 1 342 1-303 1 166 1 153 1 107 1-514 1 79 1 601 1-741 1 233 1 540 1 59 1-141 1-368 1 188 1-79 1 147 1 423 1-609 1 159 1-125 1-132 1-209 1 326 1 84 1 165 1-633 1 773 1-626 1-469 1 858 1-234 1-220 1 478 1-331 1 152 1-342 1 350 1 311 1-50 1-9 1 225 1-633 1-141 1 38 1 223 1 76 1 211 1-514 1 450 1-158 1-513 1 237 1 183 1 183 1-85 1 153 1-299 1-80 1-57 1-26 1 469 1 96 1-246 1-268 1 168 1-231 1-70 1 355 1 443 1-708 1 428 1 90 1-917 1 511 1 488 1-96 1-414 1-167 1 10 1 83 1 369 1 80 1-290 1 38 1 429 1-481 1-323 1 504 1-128 1-181 1 146 1 431 1-372 1-257 1 255 1-86 1 98 1 152 1 24 1-150 1-13 1-104 1 151 1-222 1 305 1 172 1-575 1 71 1 382 1-575 1 82 1 516 1 357 1-410 1-472 1 283 1-56 1-113 1 527 1 17 1-592 1 101 1-37 1-148 1-6 1 379 1 320 1-311 1-333 1 220 1-534 1 510 1 530 1-306 1 3 1 108 1-126 1-15 1-354 1 409 1 111 1 119 1-333 1-78 1-394 1 212 1 134 1 105 1 356 1-184 1-390 1 195 1-35 1-242 1 470 1-325 1 576 1-141 1-426 1 152 1-270 1 309 1 272 1 128 1-253 1-379 1 223 1-170 1 34 1 50 1 440 1-390 1-248 1 111 1-59 1-145 1 411 1 72 1-146 1-196 1-29 1 90 1-181 1 360 1-7 1 120 1 138 1-265 1-526 1 472 1-75 1 192 1-97 1 104 1-31 1-322 1-76 1 80 1 237 1-24 1 394 1-321 1-527 1 94 1 441 1 34 1 68 1 260 1-484 1-93 1-265 1 792 1-126 1 102 1-64 1-198 1-100 1 552 1-661 1 290 1-316 1 420 1-72 1-243 1-295 1 264 1 104 1 588 1-310 1-100 1-443 1 220 1-378 1 259 1 412 1-233 1 46 1 117 1-140 1-481 1 310 1-180 1 348 1 226 1 64 1-267 1-255 1 23 1 236 1-54 1 73 1 204 1 147 1-1009 1 332 1 134 1 54 1-155 1 440 1-391 1 35 1-8 1-13 1-66 1 21 1 569 1-385 1-84 1 238 1-425 1 123 1 388 1 189 1-444 1-112 1 84 1-209 1 41 1 608 1-289 1 63 1-156 1 441 1 10 1-729 1 400 1 96 1-220 1-165 1-60 1-215 1 344 1 269 1-36 1-373 1 99 1 308 1-167 1-346 1 381 1-85 1-88 1 218 1 188 1-269 1-215 1 98 1 128 1-144 1 410 1-372 1-194 1 121 1 255 1-147 1 34 1-43 1 172 1-426 1 544 1-496 1 123 1 309 1 532 1-411 1-740 1 190 1 3 1 128 1-4 1 273 1-93 1 53 1-15 1-158 1-782 1 1218 1-449 1-94 1 124 1-69 1-102 1-180 1 497 1 473 1-1022 1 175 1 645 1-753 1 165 1 107 1 437 1-78 1-481 1 467 1-386 1-263 1 98 1 458 1-249 1 145 1 253 1-341 1-310 1 342 1-323 1 676 1-208 1 92 1-92 1-291 1 386 1-274 1-194 1 635 1-319 1-239 1 147 1 5 1-215 1 119 1 467 1-153 1-419 1 367 1-8 1-452 1 159 1 837 1-565 1-406 1 156 1 98 1-331 1 613 1-174 1-32 1-173 1 257 1-371 1 20 1-56 1 332 1 351 1 10 1-362 1-361 1-238 1 575 1 0 1 43 1 200 1-28 1-602 1 174 1-232 1 658 1-209 1 48 1 38 1-254 1 237 1-119 1-351 1 171 1 306 1 30 1-211 1-77 1 193 1-478 1 251 1 329 1 31 1-190 1 216 1-267 1-36 1 94 1 182 1-252 1 252 1-173 1-382 1 341 1-189 1 500 1-283 1-279 1 384 1-356 1-107 1-130 1 1300 1-547 1-173 1 46 1-525 1-135 1 483 1 407 1-564 1 254 1 205 1-492 1-401 1 461 1-92 1 583 1-345 1-191 1-82 1 170 1 258 1-266 1 219 1 187 1 326 1-449 1-435 1-462 1 782 1 109 1 78 1-32 1-231 1 500 1-501 1 40 1-117 1 530 1-398 1-380 1 180 1-180 1 82 1 181 1 680 1-263 1-197 1-347 1 402 1-458 1 0 1 421 1-3 1-280 1 468 1-331 1-318 1-137 1 296 1 121 1-32 1 705 1-681 1-113 1 335 1-252 1 163 1 174 1 353 1-623 1-455 1 341 1-27 1-97 1 402 1 221 1-225 1-262 1 160 1-133 1 71 1-35 1 524 1-751 1 267 1 74 1-329 1 255 1 544 1-415 1-353 1 590 1-454 1 21 1-59 1-10 1 650 1-347 1-337 1 165 1-298 1 253 1 354 1 37 1-306 1 205 1-259 1-725 1 918 1-109 1 75 1 160 1-109 1 65 1-221 1-184 1-83 1 321 1-62 1 386 1-174 1-158 1-190 1 43 1 379 1 184 1-275 1 14 1-82 1-347 1 213 1-27 1 148 1 324 1-910 1 771 1-245 1-267 1-33 1 592 1 17 1-268 1-411 1-2 1-158 1 225 1 84 1 307 1-34 1-28 1-185 1-162 1 129 1 402 1 114 1-597 1 363 1-103 1-556 1-30 1 432 1 146 1 103 1 19 1-114 1-412 1 262 1-20 1-32 1 136 1 520 1-26 1-825 1 504 1-192 1-550 1 667 1 460 1-588 1-47 1-22 1 413 1-279 1-227 1 562 1-90 1-385 1 12 1-152 1-39 1 174 1 678 1-365 1 124 1-617 1 312 1-150 1-149 1 401 1 60 1-112 1 71 1-437 1-524 1 1154 1-374 1-102 1 325 1-135 1-256 1 100 1 277 1-277 1 96 1 245 1 83 1-469 1-97 1 115 1-78 1 258 1 344 1-293 1-298 1 99 1-34 1 159 1-53 1 293 1-170 1-359 1 296 1-228 1 114 1 430 1 9 1-413 1-337 1 417 1-127 1 199 1-175 1 810 1-229 1-649 1 21 1 178 1-360 1 9 1 609 1-276 1 115 1 145 1-736 1 161 1 404 1 457 1-578 1-117 1-52 1 93 1-377 1 438 1 376 1-267 1 140 1 98 1-335 1-434 1 415 1 282 1-178 1 126 1 14 1-383 1 65 1-197 1 547 1-120 1 361 1-196 1-311 1-225 1 497 1-354 1 409 1-301 1 317 1-664 1-99 1 615 1-710 1 482 1 749 1-536 1-268 1-301 1 722 1 86 1-432 1 396 1 18 1-394 1-320 1 281 1-377 1 515 1 416 1-257 1-574 1 154 1-53 1 15 1 80 1 203 1 338 1-264 1-369 1 415 1-519 1 366 1 161 1-331 1 432 1-242 1-129 1-411 1 597 1-292 1 195 1 274 1 101 1-64 1-744 1 523 1-366 1-232 1 1035 1-335 1-121 1-267 1 54 1 280 1-369 1 494 1-342 1 28 1-90 1 87 1-690 1 734 1 707 1-668 1-67 1-157 1-89 1-260 1 372 1 287 1-159 1-221 1 594 1-753 1 364 1-113 1 112 1 286 1-73 1-323 1-169 1 326 1-101 1 156 1-264 1 228 1 3 1-141 1-317 1-189 1 561 1-19 1 515 1 25 1-208 1-484 1 215 1 165 1-320 1 650 1-232 1-225 1-44 1 145 1-91 1-271 1 250 1 580 1-602 1 31 1-242 1-157 1 82 1 391 1 42 1 227 1-491 1 52 1-85 1 157 1 435 1-35 1-239 1 410 1-543 1-303 1-198 1 323 1 234 1-39 1 77 1-279 1-311 1 618 1-173 1 230 1-123 1 186 1-315 1-18 1-86 1 524 1-531 1 97 1 390 1-274 1-176 1-136 1 168 1 145 1 105 1 78 1-52 1-446 1 71 1-336 1 359 1 435 1-219 1-80 1-35 1-159 1 220 1-432 1 425 1 356 1-304 1-524 1 511 1-124 1-237 1 430 1 186 1-375 1 486 1-405 1-484 1 16 1 747 1-71 1-306 1 247 1-201 1-275 1 469 1-178 1 173 1-41 1 139 1 266 1-718 1-159 1 191 1 224 1 75 1 204 1-824 1-132 1 472 1 702 1-592 1-159 1 764 1-293 1-147 1-266 1-314 1 190 1 696 1 159 1-578 1-80 1 355 1-398 1 158 1-13 1 190 1-165 1 93 1 20 1-228 1 6 1-27 1 164 1-10 1-232 1-84 1 292 1-175 1-137 1 561 1-91 1-122 1-84 1 123 1-343 1 127 1 374 1-93 1-204 1 305 1-223 1-234 1 112 1 243 1 424 1-221 1-303 1-591 1 353 1-284 1 682 1-52 1 81 1-255 1-114 1-163 1 331 1-206 1 100 1 322 1-157 1-203 1 129 1-662 1 662 1-263 1 323 1 35 1-220 1 187 1-230 1 147 1 21 1-145 1-6 1 348 1-251 1-32 1 68 1-211 1 792 1-598 1-333 1 89 1 328 1-312 1 280 1 146 1-311 1 83 1-209 1 180 1-304 1 117 1 253 1 390 1-265 1-31 1-298 1 120 1-86 1 172 1 164 1-58 1 73 1-255 1-15 1 258 1-236 1 174 1-63 1 152 1-486 1 293 1 39 1-184 1-13 1 254 1 52 1-297 1-49 1-30 1-177 1 705 1-200 1 68 1-240 1 206 1-382 1-246 1 227 1 628 1 63 1-674 1 387 1 80 1-692 1 850 1-377 1 191 1-488 1 408 1-118 1-307 1 440 1 124 1-278 1 150 1 288 1-456 1-583 1 849 1-271 1-424 1 813 1-281 1-191 1 81 1-148 1 44 1 146 1 383 1-338 1-256 1 96 1 251 1-169 1 95 1 311 1-381 1-37 1-335 1 108 1-84 1 199 1 435 1-49 1-653 1 181 1 262 1-383 1 397 1 218 1 122 1-177 1 65 1-386 1 508 1-458 1 214 1 52 1-28 1-90 1 96 1-659 1 263 1 315 1-1 1 128 1-337 1 101 1-142 1 290 1 107 1-158 1 150 1-116 1-82 1-115 1-75 1 328 1-531 1 812 1-153 1-187 1-366 1-52 1 343 1 222 1-93 1 97 1-419 1 192 1 58 1-72 1 1 1 230 1-258 1-89 1 122 1 233 1-733 1 234 1 192 1 819 1-1218 1 674 1-28 1-298 1 84 1-50 1 698 1-695 1-78 1-94 1-166 1 90 1 546 1 26 1-45 1 320 1-733 1-64 1 79 1-6 1-26 1 225 1 393 1-57 1-772 1 661 1-136 1-78 1 280 1-40 1-436 1-321 1 514 1 224 1-260 1 407 1 109 1-531 1-328 1 289 1-73 1-188 1 400 1 456 1-382 1-132 1-307 1 405 1-209 1 840 1-362 1-149 1-13 1-323 1 82 1-393 1 574 1 128 1-5 1-511 1 247 1-595 1-66 1 795 1-136 1-207 1 359 1 197 1-816 1 400 1 387 1-127 1-389 1 615 1-266 1-197 1-345 1 287 1-225 1 229 1 256 1-415 1-193 1 263 1 8 1-300 1 442 1 649 1-155 1-459 1-303 1 115 1-108 1 430 1 188 1-176 1-228 1 63 1-79 1 150 1 362 1-382 1 3 1-138 1 236 1-304 1-119 1 499 1 221 1-463 1-15 1 359 1-312 1-439 1 749 1 78 1-123 1-143 1 5 1-489 1 399 1 198 1-103 1-27 1 323 1-235 1-238 1-71 1 420 1-458 1 299 1 213 1 296 1-696 1-155 1 45 1 360 1-464 1 131 1 405 1-654 1 476 1-209 1-76 1 80 1 354 1-85 1-302 1-44 1 182 1-320 1 530 1 36 1-342 1 162 1-130 1 434 1-489 1-220 1 799 1-160 1-437 1 276 1-171 1-108 1 20 1 407 1 151 1-570 1-10 1-171 1 102 1 498 1-512 1 711 1-546 1-10 1-264 1 5 1 165 1 207 1-182 1 223 1 43 1-344 1 8 1-85 1 467 1-88 1-83 1 311 1-539 1 89 1 410 1-411 1-3 1 475 1-369 1-184 1 72 1 400 1-542 1 250 1 192 1-136 1 99 1-21 1 49 1-426 1 456 1-166 1-71 1 304 1-306 1 54 1 146 1-220 1 573 1-300 1-237 1 44 1-668 1 294 1 415 1 294 1 166 1-248 1-66 1-696 1 329 1 508 1-278 1-7 1 40 1 99 1-153 1 66 1-18 1-12 1-67 1 1 1 281 1-262 1 365 1-533 1 231 1 19 1 385 1-274 1-219 1-10 1 159 1-417 1 523 1 154 1-425 1 213 1-628 1 471 1-503 1 89 1 686 1-199 1-385 1 210 1-519 1 153 1 440 1-1 1 99 1-430 1 723 1-829 1-267 1 331 1 532 1 341 1-225 1-110 1-560 1 73 1 398 1-37 1-278 1 477 1-49 1-350 1-197 1 134 1 8 1 528 1-218 1 160 1-173 1-338 1 204 1 46 1-136 1 435 1-106 1-282 1-58 1 120 1-26 1-253 1 439 1 41 1-377 1 268 1-390 1 460 1-141 1 595 1-259 1-397 1 82 1-446 1 148 1 114 1 416 1 132 1-488 1-67 1 371 1-80 1 149 1-7 1-182 1-115 1 665 1-350 1-573 1 138 1 375 1-23 1-147 1 324 1-69 1-826 1 279 1 381 1-96 1 300 1-390 1-77 1-288 1 406 1 203 1-673 1 599 1-42 1-376 1-243 1 392 1 354 1-400 1 515 1 3 1-545 1 74 1 173 1-164 1-73 1 154 1 52 1 291 1-402 1 32 1-277 1 81 1 356 1-68 1-18 1-156 1-228 1 207 1 270 1 146 1-77 1-35 1 202 1-198 1-538 1 95 1 616 1-171 1 251 1-18 1-377 1-162 1 86 1 438 1-274 1 388 1-182 1-243 1-86 1 8 1 11 1-87 1-130 1 236 1 120 1-649 1 443 1-455 1 380 1 441 1-76 1-174 1-417 1 421 1-70 1 363 1-86 1 186 1-249 1-418 1 91 1-26 1 49 1 468 1 122 1-507 1 53 1 240 1-441 1 87 1 280 1-285 1 336 1-346 1-18 1-101 1-105 1 388 1 138 1 264 1 31 1-204 1-428 1 24 1-47 1 226 1-289 1 270 1-168 1-73 1 61 1 34 1 146 1 57 1 534 1-668 1-224 1 258 1-307 1-102 1 441 1 618 1-663 1-171 1-39 1 216 1-250 1 247 1 219 1-208 1-56 1 152 1-13 1 154 1 304 1-101 1-246 1-402 1 155 1 44 1-99 1 379 1 130 1-687 1 559 1-250 1-150 1 161 1 121 1 343 1-358 1-99 1 293 1-726 1 359 1 230 1-66 1-253 1 570 1-378 1-47 1-314 1-79 1 754 1-221 1 288 1-176 1-79 1-289 1 283 1-113 1-38 1 381 1-119 1-756 1 387 1 720 1-759 1 215 1 275 1-327 1 80 1-380 1 159 1-306 1 555 1-185 1 54 1-34 1-257 1 120 1-241 1 519 1-432 1 402 1 68 1-126 1-406 1 281 1-55 1 408 1-57 1 124 1-460 1 217 1-167 1 268 1-35 1-122 1 330 1-41 1-15 1-726 1 380 1-112 1 125 1 620 1-569 1-459 1 589 1-357 1-66 1 423 1 406 1-179 1-495 1-78 1 71 1-114 1 348 1 108 1-162 1-315 1 134 1-234 1 170 1 658 1-301 1-93 1-260 1 441 1-522 1-41 1 528 1 287 1-553 1-322 1 333 1 88 1-383 1 527 1 77 1-229 1 130 1-241 1 269 1-481 1 82 1 315 1-241 1 378 1-196 1 40 1-337 1 277 1-101 1 219 1 65 1 648 1-896 1-286 1 66 1 143 1 114 1-110 1 339 1-281 1-138 1 180 1 110 1 217 1 177 1-323 1-344 1 19 1 228 1-150 1-117 1 619 1-126 1-595 1 290 1 65 1-154 1-175 1 534 1-124 1-137 1 474 1-365 1-413 1 279 1 167 1 161 1-45 1-187 1-472 1 314 1 50 1 367 1 59 1-233 1 102 1 154 1-545 1 236 1 288 1-177 1-347 1 842 1-483 1-629 1 342 1-15 1 73 1 234 1 165 1-670 1 505 1-312 1 434 1 71 1-110 1-344 1-91 1 50 1-280 1 236 1 206 1 55 1 394 1-960 1 357 1 80 1-85 1-149 1 136 1 471 1-341 1 24 1 136 1-647 1 328 1 465 1-307 1 243 1-168 1-137 1-28 1 111 1 89 1 357 1-365 1 23 1-183 1-221 1 445 1-41 1-90 1-40 1 200 1-448 1-26 1 114 1 18 1 96 1-72 1 712 1-371 1-658 1 670 1-176 1-30 1 77 1 307 1-298 1-713 1 573 1-165 1-121 1 415 1 210 1-151 1-160 1-154 1-153 1-45 1 338 1-243 1-54 1 251 1-57 1-216 1 124 1 300 1-5 1 22 1 143 1-168 1-516 1-1 1 465 1 53 1-197 1 258 1-230 1-439 1 664 1 92 1-670 1 502 1 257 1-144 1-411 1 270 1 45 1-74 1-167 1 497 1-484 1 54 1-610 1 868 1-250 1 165 1 207 1-455 1-168 1 198 1-360 1 420 1 204 1 162 1-310 1-180 1 138 1-50 1 2 1 275 1 229 1-265 1 58 1 219 1-764 1 304 1-25 1 446 1-425 1 337 1-517 1 128 1 168 1 109 1 153 1-834 1 866 1-478 1 316 1-558 1 675 1-180 1 120 1-160 1 112 1-499 1 9 1 171 1 130 1-226 1 189 1 199 1-499 1-33 1-119 1 501 1-129 1 324 1-7 1-438 1 386 1-207 1-553 1 499 1 116 1-68 1-36 1 222 1 89 1-195 1-374 1 717 1-359 1-292 1 499 1-499 1 250 1 116 1 385 1-788 1 269 1-211 1 222 1-305 1 567 1-611 1 492 1-72 1-146 1-41 1-261 1 474 1-10 1 126 1-176 1-189 1 234 1-311 1 329 1-117 1-90 1 398 1-144 1-352 1 59 1 20 1 296 1-96 1 151 1-316 1-424 1 353 1 107 1 158 1 135 1 3 1-72 1-388 1 653 1-397 1-253 1 318 1 273 1-63 1-274 1 86 1-117 1-247 1 154 1 371 1 37 1-567 1 467 1-375 1-169 1 372 1 430 1-273 1 197 1-574 1 193 1-611 1 478 1 106 1 65 1 313 1-142 1 386 1-1288 1 606 1 342 1-193 1-175 1 192 1-347 1 104 1 374 1-592 1 125 1 791 1-364 1-275 1-343 1 401 1 160 1-487 1 604 1-157 1-276 1 8 1 361 1 46 1-299 1 201 1-13 1-509 1 430 1 172 1-711 1 302 1 433 1 356 1-922 1 495 1-444 1 122 1-236 1 521 1 150 1 175 1-534 1 251 1-483 1 97 1 611 1-514 1 177 1 210 1-388 1-273 1 435 1-130 1 164 1 84 1-83 1-408 1 40 1 743 1-937 1 373 1 685 1-649 1-56 1-258 1 333 1-90 1-133 1 437 1 210 1-710 1 382 1-271 1-68 1 257 1 296 1 227 1-414 1-738 1 1020 1-778 1 549 1 210 1 253 1-353 1-153 1-251 1-323 1 142 1 579 1 84 1-485 1 244 1 105 1-848 1 399 1 179 1 176 1 148 1-205 1-26 1-601 1 603 1 171 1-392 1 95 1 268 1-442 1-47 1 414 1-277 1 425 1 159 1-62 1-262 1-105 1 2 1 100 1-58 1 319 1 114 1-387 1-283 1 227 1 109 1-90 1 474 1-144 1-387 1 65 1-20 1-394 1 385 1 175 1 230 1-669 1 331 1-77 1-44 1-185 1 296 1-125 1 224 1-150 1 352 1-334 1-364 1 285 1 195 1-69 1-351 1 136 1-340 1 266 1 350 1 178 1-271 1 192 1-248 1-332 1 265 1-146 1 479 1-197 1 411 1-407 1-28 1-81 1-150 1 58 1 359 1-236 1 221 1-688 1 500 1-333 1 217 1 375 1-291 1 181 1-330 1 0 1-191 1 427 1-63 1 520 1-532 1-122 1 19 1-114 1 64 1 272 1 238 1-539 1 57 1 168 1-432 1 291 1 171 1 204 1-299 1 64 1 44 1-17 1-514 1 402 1 16 1-54 1 282 1-296 1-242 1 458 1 140 1 90 1-36 1 106 1-192 1 22 1-299 1 287 1 24 1-154 1 13 1-284 1-120 1 62 1-289 1 612 1-134 1 472 1-475 1-47 1 22 1-6 1 8 1 382 1-231 1-189 1-74 1 205 1 96 1-290 1 104 1 613 1-693 1 68 1 118 1-58 1-428 1 862 1-148 1-56 1-92 1-110 1-258 1 221 1 261 1-133 1-98 1-225 1 3 1-6 1-17 1 113 1 27 1 185 1-9 1-16 1-69 1 329 1 67 1-209 1 40 1 150 1-446 1 165 1 138 1-291 1 14 1 276 1 204 1 241 1-564 1-245 1-25 1-302 1 361 1 470 1 9 1-347 1-173 1-221 1-418 1 419 1 429 1 42 1 15 1 8 1 113 1-534 1 449 1 239 1-289 1 44 1 155 1-597 1-13 1 356 1-177 1-37 1 320 1 165 1-251 1-374 1 363 1-234 1 321 1-33 1 124 1-381 1-338 1 546 1 13 1-81 1-213 1 592 1-656 1 470 1-147 1-192 1 103 1 88 1 373 1-326 1-138 1-17 1-39 1 224 1 335 1-360 1-72 1 70 1-408 1-101 1 352 1 248 1-208 1-384 1 402 1-63 1-159 1 200 1 449 1-290 1 153 1-103 1-361 1-78 1 564 1 131 1-217 1-91 1 304 1-161 1-462 1 92 1-13 1 60 1 181 1 24 1-494 1 174 1 257 1 168 1-43 1 183 1 69 1-617 1-118 1 435 1-324 1 240 1-115 1 355 1-424 1-70 1 13 1-226 1 354 1-148 1 462 1-299 1-406 1 396 1-122 1 33 1 590 1-509 1 199 1 164 1-215 1-404 1 85 1 326 1-179 1 156 1 118 1-486 1 307 1-86 1 310 1-191 1 478 1-177 1-442 1-201 1 689 1-375 1-53 1 191 1 173 1-336 1-662 1 648 1 41 1-310 1 387 1 118 1 0 1-566 1 554 1-89 1-277 1 431 1 112 1-561 1-250 1 253 1 11 1 171 1 122 1-52 1 112 1-490 1 649 1-707 1 408 1 313 1-380 1-175 1 164 1 76 1-222 1-139 1 716 1 47 1-420 1 11 1-53 1 78 1-310 1 637 1-138 1-362 1 247 1 23 1-552 1 315 1 37 1-38 1-259 1 397 1-372 1 43 1 189 1 260 1-168 1 134 1 6 1 260 1-738 1 411 1-371 1 451 1 83 1 196 1-610 1 147 1 183 1-93 1-179 1 333 1 272 1-69 1-625 1 43 1 255 1-149 1 259 1 230 1-360 1 296 1-173 1-384 1 223 1 43 1 45 1-83 1-38 1-175 1-37 1-97 1 471 1-142 1 270 1 55 1-357 1-48 1-144 1 359 1-41 1-357 1 869 1-819 1-125 1-97 1 675 1 20 1-33 1 146 1-558 1 19 1 48 1 116 1-65 1 199 1 249 1-361 1-439 1 220 1 197 1-145 1 120 1 691 1-526 1-284 1 136 1-336 1 197 1 340 1 403 1-964 1 165 1 478 1-344 1 103 1-171 1 381 1-241 1 183 1 500 1-954 1 183 1 266 1 134 1-185 1 137 1-245 1-299 1-134 1 390 1 227 1 18 1-510 1 351 1-698 1 568 1 60 1 304 1 167 1-250 1-305 1 129 1 119 1-116 1 74 1-143 1 406 1-439 1-206 1 10 1 132 1-29 1 188 1 318 1-282 1 79 1-563 1 215 1 106 1 759 1-226 1-399 1-493 1 290 1-49 1-133 1 70 1 883 1-583 1-203 1-252 1-74 1 469 1-61 1 194 1-25 1 374 1-539 1-96 1-231 1 735 1 23 1-467 1 628 1-458 1-289 1 77 1 66 1-208 1 399 1 132 1-130 1-373 1-29 1 131 1 78 1 59 1 336 1-612 1 211 1 101 1 21 1 21 1 285 1-143 1 95 1-875 1 668 1-71 1 163 1-414 1 694 1-61 1-511 1 313 1-353 1-29 1 135 1-36 1 46 1 186 1 298 1-993 1 194 1 562 1 18 1-208 1 248 1-322 1-317 1 78 1 265 1 332 1-249 1 432 1-286 1-995 1 601 1 287 1 104 1-309 1 212 1-208 1 17 1-47 1 108 1 127 1 121 1 173 1-129 1-856 1 541 1-364 1 442 1 310 1-207 1-71 1-564 1 550 1-455 1 673 1 118 1-255 1-309 1-107 1 455 1-364 1-289 1 196 1 331 1-198 1 28 1 324 1-571 1-112 1 273 1 971 1-489 1-557 1 484 1-632 1 388 1-95 1 806 1-759 1 119 1 249 1-364 1-181 1 421 1 126 1-582 1 341 1 168 1-580 1 11 1 644 1 52 1-376 1 463 1-309 1-165 1 41 1 110 1 323 1-693 1 462 1 30 1-733 1 271 1 510 1-561 1 84 1 523 1-465 1 155 1-58 1-134 1 29 1 356 1 143 1-100 1-615 1 365 1 283 1-390 1 195 1 165 1 118 1-132 1-289 1 160 1-601 1 430 1 317 1-70 1-179 1 63 1 49 1-619 1 538 1 7 1 51 1-341 1 460 1-148 1-337 1 32 1 368 1 249 1-208 1 176 1-699 1 44 1 258 1-178 1 229 1 612 1-294 1-272 1-279 1 440 1-244 1-9 1 395 1 105 1-683 1 349 1-416 1 30 1 140 1 482 1-90 1-275 1 123 1 0 1-385 1 357 1 123 1 127 1-117 1-299 1 156 1-132 1 70 1 87 1 220 1-207 1 328 1-493 1-184 1 372 1-62 1-65 1-69 1 382 1-109 1-750 1 829 1-197 1-47 1 22 1 167 1-300 1-125 1 66 1 193 1-132 1-272 1 880 1-68 1-735 1-251 1 666 1-472 1 483 1 7 1-104 1-520 1 417 1-391 1-185 1 379 1 273 1 315 1-496 1-72 1 69 1 75 1 430 1-608 1 166 1 139 1-33 1-396 1 69 1 736 1-255 1-232 1 121 1-497 1 72 1 144 1 950 1-521 1-409 1-4 1 69 1-336 1 408 1 295 1-72 1-270 1 304 1 23 1-729 1 504 1 233 1-208 1-16 1 327 1-463 1-94 1-106 1 323 1-223 1 447 1-34 1-181 1 21 1-367 1 312 1-173 1 443 1 36 1-246 1-33 1-63 1-91 1-139 1 481 1-85 1-14 1-52 1 0 1-176 1-54 1 244 1 115 1 39 1 151 1-7 1-932 1 620 1 122 1-350 1 142 1 144 1 60 1-302 1-83 1 179 1-22 1 17 1 457 1-248 1-381 1-8 1-32 1 279 1 153 1 26 1-166 1-426 1 270 1 210 1 134 1-63 1 106 1-123 1-451 1 144 1 23 1 341 1-319 1 311 1 385 1-563 1 385 1-348 1-22 1 341 1-182 1-267 1 121 1 199 1-603 1 293 1 217 1 26 1-61 1 53 1-63 1-350 1-85 1 509 1 323 1-494 1 105 1-233 1-109 1 115 1 340 1-204 1 413 1-228 1 157 1-633 1 67 1 254 1-64 1-120 1 154 1 214 1-645 1 227 1 125 1 10 1 68 1 399 1-49 1-384 1-175 1-166 1 433 1-208 1 714 1-403 1-471 1 34 1 189 1-518 1 610 1 326 1 86 1-488 1 107 1-73 1-330 1 505 1 295 1-211 1-373 1 238 1-471 1-50 1 523 1 565 1-641 1 9 1-145 1-379 1 123 1 521 1 158 1-167 1 78 1 7 1-376 1-487 1 963 1 272 1-502 1 205 1 143 1-833 1 85 1 73 1 24 1 97 1 414 1 25 1-518 1-128 1 561 1-156 1 60 1 257 1 100 1-541 1 20 1-68 1 245 1 106 1-87 1-258 1-357 1 177 1 251 1-378 1 662 1-206 1 184 1 242 1-750 1 175 1-406 1 515 1-20 1-60 1-15 1 514 1-392 1 29 1-193 1 449 1-444 1 346 1-42 1-451 1 186 1 3 1 701 1-426 1-202 1-309 1 582 1-821 1 250 1 400 1 86 1 70 1 2 1-454 1 293 1-156 1 100 1 1 1 71 1 31 1 190 1-493 1 103 1-212 1 184 1 305 1 52 1-338 1-161 1 452 1-385 1 173 1 381 1 220 1-856 1 334 1-455 1-377 1 869 1-63 1 69 1-213 1 35 1-192 1-161 1 296 1 458 1-152 1 112 1 102 1-509 1-54 1 423 1 213 1-350 1 196 1-213 1-215 1-275 1 22 1 543 1-289 1 387 1 86 1-436 1 148 1-217 1 77 1 52 1 166 1 221 1-562 1 441 1-60 1-384 1 170 1 151 1 541 1-256 1-420 1-43 1 138 1-430 1 465 1 18 1-228 1 140 1 52 1-609 1 191 1 523 1 155 1-314 1-261 1 37 1-448 1 211 1 283 1 124 1 50 1 112 1-29 1-243 1-106 1 457 1 218 1-482 1 453 1-401 1-222 1 203 1-218 1 138 1 541 1-777 1 270 1-465 1 189 1 258 1 275 1 340 1-681 1 395 1-668 1 637 1-122 1-401 1 582 1-22 1-161 1-29 1-355 1 73 1 87 1 478 1 142 1-397 1-208 1-26 1-169 1-23 1 800 1-465 1 122 1-10 1-406 1-126 1 270 1 254 1 233 1-211 1-125 1 13 1-520 1 396 1 132 1 364 1-331 1 62 1-79 1 18 1-272 1 604 1-301 1-118 1 272 1-51 1-531 1 546 1-423 1 64 1 800 1-407 1-423 1-108 1 211 1 242 1-6 1-74 1 165 1-498 1 309 1-452 1 53 1 36 1 360 1 285 1-161 1-355 1 278 1-411 1-248 1 714 1-202 1-18 1 67 1-295 1-189 1 381 1 356 1-132 1-167 1 287 1 99 1-575 1 45 1 158 1 339 1-367 1 265 1-271 1-539 1 248 1 357 1-189 1 474 1-29 1-223 1-278 1 139 1-303 1 276 1 41 1 282 1 161 1-760 1 86 1 255 1-22 1 87 1 585 1-828 1 139 1-76 1 24 1 190 1-43 1 262 1-217 1-264 1 348 1-46 1-324 1 74 1 259 1-175 1 210 1 94 1-569 1-112 1 471 1 158 1-88 1 260 1-392 1-325 1-10 1 381 1-86 1 306 1 206 1-527 1-140 1-191 1 416 1-62 1-164 1 364 1 227 1-1009 1 401 1 54 1 192 1 167 1 130 1 350 1-943 1 238 1-324 1 547 1-409 1 376 1 101 1-437 1-146 1 288 1-172 1 213 1 191 1-80 1-484 1 143 1 90 1-175 1 442 1 141 1-243 1-144 1 515 1-430 1-21 1-353 1 383 1-18 1 182 1-59 1-317 1-324 1 789 1 111 1-44 1 3 1-59 1-355 1-363 1 604 1-58 1 28 1 367 1-517 1-295 1 104 1 298 1-42 1-116 1 464 1-54 1-534 1 226 1 248 1-342 1 206 1 464 1-617 1-146 1 277 1 151 1-218 1 37 1 51 1 249 1-470 1 339 1-354 1-164 1-4 1 415 1 255 1-417 1-82 1 162 1-184 1 128 1 263 1 161 1-429 1-69 1 46 1-305 1 228 1 306 1 31 1-19 1-358 1-205 1 384 1 58 1-28 1-21 1-303 1 652 1-596 1-96 1 257 1 275 1-10 1 48 1 354 1-992 1 118 1 9 1 182 1-353 1 597 1 30" stroke="#ff0000" stroke-width="1.3" fill="none" stroke-linejoin="round" vector-effect="non-scaling-stroke" stroke-dasharray="1.5 2.1"/></g>
<g transform="scale(0.779 1)">
<path d="M642.55,217.4V400.6H874.65" stroke="#9a9a9a" stroke-width="1.35" fill="none"/>
<path d="M642.55,400.6h2.82M642.55,370.07h2.82M642.55,339.53h2.82M642.55,309h2.82M642.55,278.47h2.82M642.55,247.93h2.82M642.55,217.4h2.82M653.1,400.6v-2.2M688.27,400.6v-2.2M723.44,400.6v-2.2M758.6,400.6v-2.2M793.77,400.6v-2.2M828.93,400.6v-2.2M864.1,400.6v-2.2" stroke="#6a6a6a" stroke-width="1" fill="none"/>
<text x="639.86" y="404.9" font-size="10" textLength="35.87" lengthAdjust="spacingAndGlyphs" text-anchor="end" fill="#262626" stroke="#262626" stroke-width="0.06">−0.006</text>
<text x="639.86" y="374.37" font-size="10" textLength="35.87" lengthAdjust="spacingAndGlyphs" text-anchor="end" fill="#262626" stroke="#262626" stroke-width="0.06">−0.004</text>
<text x="639.86" y="343.83" font-size="10" textLength="35.87" lengthAdjust="spacingAndGlyphs" text-anchor="end" fill="#262626" stroke="#262626" stroke-width="0.06">−0.002</text>
<text x="639.86" y="313.3" font-size="10" textLength="27.75" lengthAdjust="spacingAndGlyphs" text-anchor="end" fill="#262626" stroke="#262626" stroke-width="0.06">0.000</text>
<text x="639.86" y="282.77" font-size="10" textLength="27.75" lengthAdjust="spacingAndGlyphs" text-anchor="end" fill="#262626" stroke="#262626" stroke-width="0.06">0.002</text>
<text x="639.86" y="252.23" font-size="10" textLength="27.75" lengthAdjust="spacingAndGlyphs" text-anchor="end" fill="#262626" stroke="#262626" stroke-width="0.06">0.004</text>
<text x="639.86" y="221.7" font-size="10" textLength="27.75" lengthAdjust="spacingAndGlyphs" text-anchor="end" fill="#262626" stroke="#262626" stroke-width="0.06">0.006</text>
<g transform="translate(598.2 309.5) scale(1.28 1) rotate(-90) scale(1 0.79)"><text x="0" y="0" font-size="12.8" textLength="126.87" lengthAdjust="spacingAndGlyphs" text-anchor="middle" fill="#262626" stroke="#262626" stroke-width="0.02">NaturalWaves (units)</text></g>
<rect x="648.07" y="222.8" width="144.29" height="19.2" rx="1.67" ry="1.6" fill="#ffffff" fill-opacity="0.8" stroke="#d9d9d9" stroke-width="0.8"/>
<path d="M652.18,231.7H675.8" stroke="#ff0000" stroke-width="1.45" fill="none" stroke-dasharray="1.73 1.99"/>
<text x="684.02" y="235.4" font-size="11" textLength="103.21" lengthAdjust="spacingAndGlyphs" text-anchor="start" fill="#262626" stroke="#262626" stroke-width="0.12">NaturalWaves (N6)</text>
<path d="M69.54,416.3V599.5M104.7,416.3V599.5M139.87,416.3V599.5M175.03,416.3V599.5M210.2,416.3V599.5M245.36,416.3V599.5M280.53,416.3V599.5M58.99,599.5H291.08M58.99,576.6H291.08M58.99,553.7H291.08M58.99,530.8H291.08M58.99,507.9H291.08M58.99,485H291.08M58.99,462.1H291.08M58.99,439.2H291.08M58.99,416.3H291.08" stroke="#ebebeb" stroke-width="0.7" stroke-dasharray="3 1.2" fill="none"/>
</g>
<g clip-path="url(#cq20)"><path transform="translate(54.17 0) scale(0.054806 0.1)" d="M0,5079l1 0 1 0 1 0 1 0 1 0 1 0 1 0 1 0 1 0 1 0 1 0 1 0 1 0 1 0 1 0 1 0 1 0 1 0 1 0 1 0 1 0 1 0 1 0 1 0 1 0 1 0 1 0 1 0 1 0 1 0 1 0 1 0 1 0 1 0 1 0 1 0 1 0 1 0 1 0 1 0 1 0 1 0 1 0 1 0 1 0 1 0 1 0 1 0 1 0 1 0 1 0 1 0 1 0 1 0 1 0 1 0 1 0 1 0 1 0 1 0 1 0 1 0 1 0 1 0 1 0 1 0 1 0 1 0 1 0 1 0 1 0 1 0 1 0 1 0 1 0 1 0 1 0 1 0 1 0 1 0 1 0 1 0 1 0 1 0 1 0 1 0 1 0 1 0 1 0 1 0 1 0 1 0 1 0 1 0 1 0 1 0 1 0 1 0 1 0 1 0 1 0 1 0 1 0 1 0 1 0 1 0 1 0 1 0 1 0 1 0 1 0 1 0 1 0 1 0 1 0 1 0 1 0 1 0 1 0 1 0 1 0 1 0 1 0 1 0 1 0 1 0 1 0 1 0 1 0 1 0 1 0 1 0 1 0 1 0 1 0 1 0 1 0 1 0 1 0 1 0 1 0 1 0 1 0 1 0 1 0 1 0 1 0 1 0 1 0 1 0 1 0 1 0 1 0 1 0 1 0 1 0 1 0 1 0 1 0 1 0 1 0 1 0 1 0 1 0 1 0 1 0 1 0 1 0 1 0 1 0 1 0 1 0 1 0 1 0 1 0 1 0 1 0 1 0 1 0 1 0 1 0 1 0 1 0 1 0 1 0 1 0 1 0 1 0 1 0 1 0 1 0 1 0 1 0 1 0 1 0 1 0 1 0 1 0 1 0 1 0 1 0 1 0 1 0 1 0 1 0 1 0 1 0 1 0 1 0 1 0 1 0 1 0 1 0 1 0 1 0 1 0 1 0 1 0 1 0 1 0 1 0 1 0 1 0 1 0 1 0 1 0 1 0 1 0 1 0 1 0 1 0 1 0 1 0 1 0 1 0 1 0 1 0 1 0 1 0 1 0 1 0 1 0 1 0 1 0 1 0 1 0 1 0 1 0 1 0 1 0 1 0 1 0 1 0 1 0 1 0 1 0 1 0 1 0 1 0 1 0 1 0 1 0 1 0 1 0 1 0 1 0 1 0 1 0 1 0 1 0 1 0 1 0 1 0 1 0 1 0 1 0 1 0 1 0 1 0 1 0 1 0 1 0 1 0 1 0 1 0 1 0 1 0 1 0 1 0 1 0 1 0 1 0 1 0 1 0 1 0 1 0 1 0 1 0 1 0 1 0 1 0 1 0 1 0 1 0 1 0 1 0 1 0 1 0 1 0 1 0 1 0 1 0 1 0 1 0 1 0 1 0 1 0 1 0 1 0 1 0 1 0 1 0 1 0 1 0 1 0 1 0 1 0 1 0 1 0 1 0 1 0 1 0 1 0 1 0 1 0 1 0 1 0 1 0 1 0 1 0 1 0 1 0 1 0 1 0 1 0 1 0 1 0 1 0 1 0 1 0 1 0 1 0 1 0 1 0 1 0 1 0 1 0 1 0 1 0 1 0 1 0 1 0 1 0 1 0 1 0 1 0 1 0 1 0 1 0 1 0 1 0 1 0 1 0 1 0 1 0 1 0 1 0 1 0 1 0 1 0 1 0 1 0 1 0 1 0 1 0 1 0 1 0 1 0 1 0 1 0 1 0 1 0 1 0 1 0 1 0 1 0 1 0 1 0 1 0 1 0 1 0 1 0 1 0 1 0 1 0 1 0 1 0 1 0 1 0 1 0 1 0 1 0 1 0 1 0 1 0 1 0 1 0 1 0 1 0 1 0 1 0 1 0 1 0 1 0 1 0 1 0 1 0 1 0 1 0 1 0 1 0 1 0 1 0 1 0 1 0 1 0 1 0 1 0 1 0 1 0 1 0 1 0 1 0 1 0 1 0 1 0 1 0 1 0 1 0 1 0 1 0 1 0 1 0 1 0 1 0 1 0 1 0 1 0 1 0 1 0 1 0 1 0 1 0 1 0 1 0 1 0 1 0 1 0 1 0 1 0 1 0 1 0 1 0 1 0 1 0 1 0 1 0 1 0 1 0 1 0 1 0 1 0 1 0 1 0 1 0 1 0 1 0 1 0 1 0 1 0 1 0 1 0 1 0 1 0 1 0 1 0 1 0 1 0 1 0 1-2" stroke="#0000ff" stroke-width="1.35" fill="none" stroke-linejoin="round" vector-effect="non-scaling-stroke" stroke-dasharray="3.9 1.8"/><path transform="translate(81.57 0) scale(0.054806 0.1)" d="M0,5077l1-6 1 18 1-19 1 10 1 5 1 0 1 2 1-4 1-5 1 3 1 0 1 14 1 0 1-16 1 4 1-5 1 6 1 13 1-12 1 5 1 3 1 6 1-4 1 1 1-5 1 5 1-8 1 13 1-6 1 0 1 7 1 1 1-12 1 2 1 3 1-4 1 5 1-6 1 3 1-6 1-6 1 6 1-8 1 8 1-5 1 4 1-9 1-2 1 0 1-2 1-10 1-1 1 13 1-14 1 14 1-6 1-3 1-2 1 6 1-2 1-4 1 5 1 0 1-6 1-1 1 7 1 1 1 1 1 5 1 2 1 4 1-7 1 6 1 3 1 0 1 1 1-3 1 11 1 3 1-2 1 8 1-10 1 4 1 2 1 6 1-4 1-1 1 3 1 5 1 8 1-15 1 7 1 2 1-10 1 2 1 9 1-8 1-1 1-8 1 14 1-9 1-3 1-10 1 12 1 8 1-10 1-11 1-4 1-7 1 6 1 5 1-10 1 3 1 0 1-2 1-7 1 11 1 0 1-5 1 0 1 4 1 1 1-7 1-4 1 4 1 1 1-1 1 18 1-1 1-2 1 4 1 1 1-4 1 9 1-2 1 10 1-4 1-10 1 11 1-2 1-1 1 8 1-4 1 3 1-2 1 8 1 5 1-2 1-2 1-6 1 4 1 1 1-1 1-7 1 8 1-11 1 14 1-4 1-8 1 1 1 7 1-4 1 2 1-9 1 1 1 6 1-6 1 3 1-2 1-2 1 3 1-6 1-1 1 0 1-5 1 7 1 6 1-6 1-4 1 0 1-3 1-2 1 5 1-1 1 5 1-11 1 6 1 5 1 0 1-4 1-11 1 5 1 13 1-8 1-2 1-2 1 2 1 6 1-5 1 5 1 10 1-8 1 1 1-8 1 0 1 11 1-5 1 1 1 8 1 4 1-10 1 0 1 4 1 12 1-14 1 4 1 2 1-3 1 5 1-9 1 3 1 3 1-4 1 2 1 8 1-8 1 2 1 6 1-6 1-7 1 5 1-12 1-2 1 9 1-6 1-9 1 11 1 2 1-4 1 3 1-2 1-10 1 2 1-5 1-3 1 4 1-4 1-2 1 1 1-1 1-8 1 1 1-4 1-5 1-1 1 10 1-3 1-4 1-3 1-5 1 10 1-3 1-4 1-6 1-1 1 13 1-5 1 2 1-9 1 0 1 3 1 0 1-7 1-6 1 8 1-5 1-5 1-1 1-4 1 4 1-4 1 6 1-13 1-7 1 15 1-9 1-9 1 5 1 9 1-16 1 14 1-15 1 11 1 1 1-3 1 1 1-3 1 2 1 4 1-6 1 4 1 3 1 2 1 3 1 1 1-3 1 2 1 3 1-4 1 7 1-3 1-2 1 11 1-4 1-11 1 14 1-13 1 10 1-11 1 4 1-6 1-6 1-5 1-14 1-6 1-7 1-4 1-16 1-5 1-4 1-2 1-18 1-8 1-6 1-11 1-9 1-2 1-13 1-6 1-6 1-3 1-5 1-9 1-11 1-9 1 11 1 1 1-5 1 2 1-3 1-2 1 10 1-2 1 7 1 5 1 10 1 18 1 9 1 32 1 15 1 21 1 21 1 20 1 32 1 16 1 30 1 33 1 29 1 38 1 39 1 19 1 30 1 33 1 40 1 29 1 21 1 38 1 33 1 37 1 26 1 27 1 33 1 35 1 24 1 33 1 23 1 19 1 29 1 20 1 10 1 27 1 11 1 20 1 17 1 5 1 10 1 15 1 1 1-2 1-10 1 7 1-11 1-17 1-16 1-18 1-38 1-28 1-14 1-55 1-39 1-46 1-41 1-52 1-56 1-50 1-53 1-49 1-52 1-52 1-41 1-69 1-38 1-47 1-44 1-43 1-25 1-48 1-24 1-30 1-19 1-20 1-27 1-5 1-7 1-1 1 8 1 4 1 13 1 8 1 26 1 9 1 15 1 23 1 27 1 32 1 38 1 21 1 35 1 34 1 41 1 25 1 27 1 36 1 36 1 25 1 30 1 24 1 20 1 22 1 19 1 12 1 18 1 8 1-4 1 6 1-15 1-7 1-45 1-31 1-54 1-27 1-57 1-69 1-44 1-47 1-40 1-32 1-26 1-4 1-6 1 9 1 42 1 58 1 65 1 76 1 98 1 95 1 92 1 91 1 82 1 82 1 57 1 38 1 39 1-7 1-15 1-25 1-39 1-65 1-74 1-74 1-90 1-101 1-115 1-109 1-105 1-106 1-108 1-110 1-99 1-93 1-72 1-73 1-59 1-29 1-47 1-1 1 4 1 27 1 27 1 28 1 51 1 77 1 47 1 74 1 77 1 88 1 72 1 82 1 67 1 62 1 68 1 50 1 50 1 36 1 15 1 3 1-6 1-6 1-25 1-29 1-33 1-57 1-54 1-51 1-59 1-48 1-66 1-58 1-38 1-43 1-30 1-15 1-17 1 4 1-14 1 29 1 29 1 31 1 19 1 47 1 48 1 61 1 51 1 62 1 48 1 70 1 49 1 68 1 64 1 48 1 71 1 42 1 40 1 30 1 30 1 28 1 28 1 2 1 5 1-17 1 3 1-17 1-21 1-6 1-25 1-17 1-27 1-27 1-29 1-30 1-27 1-43 1-16 1-34 1-24 1-15 1-42 1-17 1-9 1-18 1-7 1-19 1-11 1 1 1 15 1 5 1-10 1-2 1 14 1 0 1 20 1 0 1 5 1 13 1 7 1 4 1 16 1 10 1-1 1 11 1 14 1-1 1 11 1-1 1 8 1 4 1 5 1-4 1 2 1-13 1 8 1 2 1-26 1 15 1-30 1 4 1-23 1-3 1-15 1-9 1-10 1-14 1-3 1-14 1 2 1-8 1-5 1-4 1-8 1 15 1 6 1 10 1 8 1 8 1 24 1 15 1 20 1 16 1 33 1 5 1 17 1 28 1 12 1 20 1 1 1 11 1-6 1 21 1 4 1-2 1 3 1-10 1-3 1-6 1-1 1 1 1-15 1-1 1-7 1 6 1-9 1-8 1-9 1 2 1-28 1-1 1-15 1-9 1-14 1-5 1-9 1-4 1-16 1-21 1 10 1-18 1-17 1-19 1 5 1-16 1-15 1-28 1 12 1-15 1-16 1-3 1-16 1-11 1-5 1-14 1-17 1 0 1-5 1-6 1-14 1-12 1-1 1-7 1-20 1 15 1-3 1-12 1-1 1-7 1-7 1 4 1 2 1-5 1 0 1 5 1 5 1-4 1 10 1 12 1-3 1 15 1 10 1 4 1 20 1 9 1 19 1 17 1 5 1 8 1 31 1 5 1 18 1 15 1 33 1 16 1 5 1 28 1 18 1 14 1 19 1 24 1 15 1 12 1 18 1 21 1 3 1 16 1 20 1 13 1 2 1 30 1-6 1 11 1 7 1-4 1 7 1-13 1 21 1-4 1 11 1-16 1 9 1-6 1-8 1-2 1 2 1-7 1 7 1 0 1 0 1-16 1-13 1 10 1-7 1-3 1-10 1 8 1-21 1-8 1 5 1-5 1-7 1-16 1-12 1 8 1-5 1-17 1-9 1-10 1 0 1-16 1-11 1 9 1-17 1-13 1-10 1 0 1 0 1-16 1-4 1-14 1-18 1 2 1-13 1 0 1-21 1 1 1-5 1-26 1 2 1-10 1 9 1-28 1-9 1 5 1-6 1-5 1-16 1 10 1-17 1-16 1 6 1-16 1 7 1-2 1-12 1 2 1-4 1 0 1 2 1-9 1-8 1-4 1 5 1-4 1 7 1-5 1-1 1 0 1-1 1-2 1-5 1 4 1 2 1 12 1-2 1-4 1 1 1-3 1 17 1-10 1 2 1 5 1 5 1-4 1 5 1-2 1 18 1-4 1-12 1 11 1 9 1 0 1 10 1-14 1 3 1 7 1 2 1 8 1-1 1 8 1-1 1 13 1 4 1 8 1 3 1 11 1-13 1 4 1 8 1 3 1 9 1 3 1 16 1-3 1 15 1-2 1 2 1 5 1 9 1-10 1 6 1 14 1 9 1 0 1-4 1 22 1-13 1 11 1 6 1-5 1 11 1 6 1-6 1 22 1-16 1 19 1 4 1-12 1-7 1 17 1 16 1 12 1-12 1 5 1 7 1 0 1 6 1-7 1 9 1 3 1 15 1-14 1 13 1-12 1 7 1 15 1-10 1 7 1-10 1 2 1-3 1 13 1-7 1 12 1-10 1 4 1-3 1 1 1-6 1 8 1-1 1-11 1 9 1 3 1 2 1-7 1 0 1-5 1 4 1-6 1 5 1-13 1 9 1-6 1 1 1 9 1-16 1 8 1-11 1 18 1-3 1-1 1-3 1-11 1-4 1 4 1-6 1 0 1-11 1-2 1 0 1-4 1-10 1 5 1 12 1-11 1-2 1-10 1 0 1-5 1 13 1-22 1 8 1-10 1 0 1 6 1-3 1-11 1-7 1 11 1-1 1 3 1-10 1-4 1-5 1-9 1 5 1 1 1-7 1-4 1-4 1-3 1 0 1-8 1 4 1 2 1-8 1-16 1 16 1-24 1 17 1-10 1 13 1-12 1-12 1 15 1-4 1-9 1-2 1 10 1-3 1-12 1-1 1-4 1 4 1-6 1-5 1 14 1-15 1 0 1-4 1 10 1-3 1-2 1 3 1-10 1 5 1 7 1-8 1 8 1 3 1-3 1-7 1-1 1 2 1-4 1-9 1 20 1-10 1 1 1 10 1-4 1-4 1 1 1 6 1-10 1 4 1-2 1-6 1 20 1-15 1 4 1 10 1-5 1 3 1 6 1-12 1 11 1 9 1-18 1 10 1-5 1 2 1 4 1 2 1 15 1-13 1 6 1-10 1 9 1 1 1-4 1 9 1-2 1 0 1-5 1 13 1-13 1 7 1 4 1-5 1-3 1 0 1 16 1-15 1 10 1-7 1 17 1-5 1 1 1 8 1-4 1-8 1 0 1 4 1 4 1 6 1-16 1 24 1 0 1-2 1-5 1 5 1-7 1 17 1-16 1-5 1 7 1 9 1 3 1-11 1 20 1-6 1 7 1-9 1-13 1 16 1-10 1 16 1-3 1 0 1-10 1 13 1-1 1-4 1-10 1 11 1-11 1 9 1 5 1-9 1 11 1 3 1-7 1 11 1-2 1-2 1-6 1-7 1-1 1 9 1-3 1 4 1 7 1-12 1 7 1-10 1 8 1 3 1-9 1 5 1 5 1-16 1 4 1 0 1 1 1 4 1 15 1-16 1-2 1-6 1 11 1-13 1 3 1-11 1 15 1-6 1-2 1-3 1-6 1 5 1 12 1-22 1 24 1-18 1-6 1 13 1-5 1-1 1 7 1-11 1 8 1-10 1-3 1-4 1-2 1 5 1-1 1 4 1-2 1-7 1 0 1 1 1 2 1-8 1 14 1-4 1-6 1-7 1 15 1-2 1 1 1-14 1-2 1-5 1-6 1 23 1-7 1 2 1 3 1-9 1 4 1-5 1 3 1 7 1-15 1 0 1 6 1 12 1 1 1-7 1-13 1-2 1 4 1 0 1 18 1-21 1 8 1-3 1 4 1 8 1-20 1 3 1 10 1 4 1-7 1-10 1 3 1 3 1-5 1 4 1 9 1-10 1 5 1 6 1-13 1 5 1 14 1-15 1 5 1 4 1 2 1 4 1 4 1-11 1-1 1 7 1-3 1 5 1 1 1-5 1 1 1-6 1 15 1-5 1 5 1-2 1-6 1 7 1 9 1-1 1 2 1-1 1 4 1-1 1-1 1-2 1 9 1-5 1 1 1-5 1 6 1-1 1 2 1-5 1 10 1 11 1-12 1 10 1 9 1-18 1 5 1-1 1-1 1 5 1-8 1 7 1 4 1-2 1 15 1-17 1 14 1-13 1 4 1-1 1 7 1-17 1 26 1-13 1 5 1 5 1-21 1 9 1-16 1 11 1 2 1 0 1 12 1 1 1-20 1 4 1 11 1-6 1-1 1-8 1 6 1 7 1-11 1 9 1-8 1 8 1 17 1-34 1 18 1-15 1 3 1 7 1 4 1-22 1 11 1-8 1 6 1-5 1 4 1 11 1-5 1-9 1 11 1-7 1-2 1-9 1-5 1 26 1-19 1-10 1 21 1-2 1-17 1 6 1 5 1-6 1-5 1 4 1-3 1 1 1-2 1 0 1-2 1 3 1-9 1 9 1 1 1 6 1-6 1-7 1 2 1-6 1 12 1-4 1 9 1-13 1-9 1 3 1 6 1-7 1 1 1 8 1 1 1-1 1-10 1-2 1 1 1 5 1-16 1 15 1-5 1 2 1-6 1 19 1-16 1 5 1 0 1 6 1-2 1-14 1 3 1 17 1-12 1 5 1-11 1 5 1-2 1 7 1-1 1 6 1 6 1-6 1-12 1 0 1 16 1 1 1 0 1 1 1 3 1-2 1-9 1 0 1-6 1 14 1 15 1-10 1 4 1-4 1 4 1-11 1 14 1-6 1-12 1 15 1 12 1-17 1 4 1 0 1 0 1 13 1 1 1-7 1 14 1-5 1-14 1 19 1-11 1-4 1 9 1 3 1-12 1 20 1-21 1 19 1-6 1 9 1 0 1-14 1 7 1-3 1 14 1-6 1 7 1-9 1-3 1 0 1 0 1 9 1-9 1 7 1-13 1 11 1-10 1 12 1-8 1 3 1 13 1-16 1 11 1 7 1-15 1-7 1 3 1 11 1 6 1 7 1-15 1-1 1-3 1-11 1 10 1 6 1 0 1-1 1-3 1-8 1 5 1-2 1-2 1-1 1-4 1-5 1 16 1-6 1-2 1 0 1-8 1 0 1 10 1-18 1 8 1-2 1 9 1-11 1 8 1 4 1-8 1 7 1 0 1-12 1-3 1 11 1-13 1-3 1 0 1 5 1 5 1-15 1 14 1-7 1-5 1-5 1 10 1-1 1-2 1 2 1-8 1 0 1-5 1 13 1-7 1 10 1-2 1-14 1 12 1 12 1-11 1 0 1 9 1-15 1-6 1 10 1-11 1 22 1-21 1 5 1-17 1 17 1 0 1 0 1 2 1 0 1-8 1 3 1 0 1 0 1 7 1-19 1 22 1-15 1 8 1-9 1 10 1-10 1 4 1-5 1-6 1 14 1 0 1 19 1-18 1-6 1 9 1-3 1 2 1 13 1-20 1 12 1 5 1-18 1 5 1-2 1 4 1 6 1-12 1 14 1-9 1 10 1 1 1-14 1 12 1-18 1 22 1-17 1 10 1-8 1 1 1 19 1-18 1 7 1 5 1-15 1 6 1 0 1-8 1 4 1 7 1 7 1-17 1 16 1 8 1-27 1-1 1 29 1-15 1 14 1-16 1 9 1 7 1-17 1 14 1-10 1 9 1-18 1 5 1 12 1 13 1-19 1 11 1-16 1-3 1 12 1-6 1 17 1-14 1-8 1 23 1-15 1 4 1-5 1 7 1 1 1-9 1 9 1-3 1 14 1-13 1-2 1 7 1-1 1 15 1-7 1-5 1 0 1-19 1 11 1 16 1-27 1 29 1-2 1-2 1-6 1-20 1 22 1-6 1 16 1-8 1-23 1 10 1 3 1-4 1 7 1 1 1 13 1 3 1-6 1-3 1 4 1-12 1-8 1 14 1 13 1-3 1-17 1 2 1 4 1-3 1-4 1 9 1-2 1 5 1 13 1-16 1 1 1-3 1 7 1-7 1 0 1 7 1 4 1-2 1-8 1-4 1-8 1 15 1-4 1-6 1 18 1-13 1 8 1 0 1-10 1 8 1-4 1 11 1-8 1 7 1-5 1-25 1 22 1 2 1 2 1 3 1-21 1 20 1-25 1 21 1-12 1 9 1 6 1-3 1-13 1 13 1 14 1-31 1 21 1-3 1-15 1 26 1-10 1-9 1 0 1 0 1 13 1-16 1 11 1-5 1 9 1-22 1 18 1-3 1 4 1-8 1 14 1-10 1 1 1-15 1 16 1-1 1-3 1-8 1-8 1 13 1-1 1-9 1 13 1-3 1 8 1-4 1 6 1-25 1 11 1 1 1 14 1-9 1 7 1 0 1 5 1-6 1-28 1 28 1-11 1-3 1 4 1-2 1 15 1-22 1-5 1 18 1 6 1 1 1 4 1-17 1-2 1-7 1 26 1-19 1 1 1 8 1 6 1-10 1-17 1 30 1-6 1-1 1-3 1-11 1 14 1 15 1-9 1 0 1-13 1 1 1 11 1-16 1 22 1-14 1-13 1 24 1-18 1-4 1 13 1-6 1 14 1-16 1 14 1-6 1-9 1 7 1 6 1-9 1 2 1 5 1 10 1-16 1-9 1 13 1-1 1 0 1-8 1 16 1-19 1-12 1 14 1 3 1-3 1 0 1 7 1-2 1 0 1-6 1-12 1 15 1-17 1 25 1-14 1 13 1-7 1 1 1 16 1-14 1-6 1 1 1 15 1 0 1-18 1 14 1-27 1 15 1 0 1 4 1 5 1-9 1 4 1-15 1 12 1-1 1-7 1 0 1 27 1-35 1 30 1-4 1-7 1 5 1-23 1 15 1 10 1-6 1 3 1-1 1-9 1-2 1 6 1 10 1-6 1-13 1 3 1 7 1-9 1 23 1-10 1-7 1-2 1-7 1 9 1-2 1 1 1 10 1-7 1-15 1 7 1 9 1-3 1-15 1 1 1-3 1 5 1 13 1 0 1 13 1-26 1 1 1-9 1 26 1-22 1 10 1 4 1-1 1 12 1-10 1 9 1-5 1-6 1 6 1-11 1 13 1-2 1 1 1-7 1-1 1-6 1 11 1 3 1-8 1-14 1 8 1 25 1-18 1 5 1-2 1-9 1 7 1 1 1 13 1-13 1 6 1-9 1-7 1 17 1-6 1-7 1 20 1-9 1 7 1-7 1-5 1 2 1-16 1 6 1 5 1-8 1-7 1 20 1-1 1-5 1-6 1 27 1-17 1-25 1 24 1-17 1-5 1 15 1-14 1 20 1 17 1-12 1-18 1-10 1 18 1 20 1-14 1 18 1-19 1-14 1 23 1 0 1-4 1-1 1-9 1 3 1-4 1 16 1-20 1 5 1 14 1-3 1 1 1 9 1-33 1 12 1 5 1-10 1 12 1 0 1-13 1 21 1-1 1 7 1-9 1-16 1 15 1-19 1 19 1-7 1 12 1-17 1-12 1 22 1 12 1-14 1-8 1 15 1-26 1 30 1-17 1-8 1 10 1-9 1 7 1 9 1 0 1-21 1 34 1-19 1 10 1-4 1-12 1 16 1 7 1-26 1 0 1 11 1 9 1 1 1-13 1-1 1 0 1-2 1 7 1-6 1 6 1-4 1 6 1-5 1 11 1-6 1 8 1-16 1 11 1 1 1 0 1 2 1 1 1-15 1 1 1-4 1 15 1-8 1 20 1-26 1 17 1-21 1 5 1-13 1 15 1 11 1-27 1 9 1 1 1-6 1 17 1 21 1-20 1 4 1-12 1 10 1-9 1 13 1-18 1 5 1 12 1-20 1-1 1 9 1 11 1-9 1 2 1 6 1-4 1 1 1 12 1-13 1 10 1-10 1 1 1-9 1 12 1-6 1 15 1-24 1-10 1 22 1-6 1-2 1 8 1-10 1 14 1-4 1-1 1 5 1 8 1-23 1 8 1 9 1 3 1-9 1 8 1-14 1 4 1-3 1-6 1 8 1-4 1-6 1 7 1 26 1-33 1 9 1-3 1-9 1 16 1-6 1 25 1-35 1 15 1 2 1 0 1-8 1 23 1-35 1 16 1 3 1-15 1 5 1 4 1 13 1-19 1 8 1 10 1-6 1-4 1 10 1-16 1 14 1-14 1 6 1-2 1 14 1-10 1-5 1 2 1 7 1-7 1 7 1-3 1-12 1-4 1-1 1 11 1 11 1-3 1-13 1 9 1-13 1 18 1-12 1 21 1-9 1-8 1 1 1 2 1 12 1-11 1 3 1 4 1-8 1 10 1-2 1-27 1 17 1-8 1 17 1 0 1 8 1 0 1 0 1-17 1 14 1-1 1-2 1-13 1 11 1-10 1 16 1-16 1 6 1-6 1 17 1-9 1-1 1 6 1-12 1 5 1-4 1 10 1-7 1 15 1-20 1 20 1-6 1-8 1-4 1 4 1 21 1-7 1-4 1-7 1 12 1-5 1-12 1 3 1-4 1 2 1 18 1-5 1-10 1-3 1 9 1-14 1 16 1-2 1-5 1-2 1 8 1-5 1 9 1-2 1-22 1 26 1-26 1 20 1-17 1 16 1 6 1-9 1-1 1-2 1 12 1 5 1-13 1 3 1 3 1-7 1-14 1 1 1 9 1-10 1-6 1 5 1 31 1-9 1-11 1-6 1 21 1-33 1 28 1 3 1 11 1-30 1 0 1 0 1 7 1-1 1 2 1-16 1 10 1-3 1 27 1 0 1-28 1 6 1 1 1 6 1-4 1 8 1-11 1 23 1-18 1 8 1 2 1-6 1 0 1-1 1-18 1 29 1-3 1-9 1 0 1-4 1-5 1 6 1 12 1-32 1 21 1 2 1 0 1 9 1-1 1-8 1-2 1-3 1 16 1-17 1 18 1-22 1-15 1 39 1-18 1-5 1 15 1-19 1 30 1-9 1-12 1-10 1 21 1 9 1-20 1-11 1 11 1 13 1 7 1-42 1 26 1 19 1 2 1-32 1 0 1 14 1 4 1-13 1 0 1 6 1 16 1-17 1-22 1 37 1-3 1 0 1 0 1-24 1 8 1 19 1 1 1-11 1 7 1-11 1 1 1 19 1-36 1 28 1-24 1 14 1 5 1 19 1-15 1-19 1 3 1 18 1 19 1-31 1 17 1-11 1 9 1-25 1 20 1-8 1 3 1 6 1-15 1 4 1 0 1 8 1-9 1 16 1-14 1 6 1 29 1-17 1-10 1-27 1 9 1 20 1-19 1 23 1-23 1 16 1 6 1 8 1-15 1-12 1 10 1-35 1 42 1-20 1 3 1 9 1 3 1 5 1-14 1-1 1 11 1 5 1 6 1-12 1 17 1-10 1-29 1 31 1-5 1-14 1 4 1 8 1-7 1 6" stroke="#0000ff" stroke-width="1.35" fill="none" stroke-linejoin="round" vector-effect="non-scaling-stroke" stroke-dasharray="5 2"/></g>
<g transform="scale(0.779 1)">
<path d="M58.99,416.3V599.5H291.08" stroke="#9a9a9a" stroke-width="1.35" fill="none"/>
<path d="M58.99,599.5h2.82M58.99,576.6h2.82M58.99,553.7h2.82M58.99,530.8h2.82M58.99,507.9h2.82M58.99,485h2.82M58.99,462.1h2.82M58.99,439.2h2.82M58.99,416.3h2.82M69.54,599.5v-2.2M104.7,599.5v-2.2M139.87,599.5v-2.2M175.03,599.5v-2.2M210.2,599.5v-2.2M245.36,599.5v-2.2M280.53,599.5v-2.2" stroke="#6a6a6a" stroke-width="1" fill="none"/>
<text x="56.29" y="603.8" font-size="10" textLength="29.7" lengthAdjust="spacingAndGlyphs" text-anchor="end" fill="#262626" stroke="#262626" stroke-width="0.06">−0.20</text>
<text x="56.29" y="580.9" font-size="10" textLength="29.7" lengthAdjust="spacingAndGlyphs" text-anchor="end" fill="#262626" stroke="#262626" stroke-width="0.06">−0.15</text>
<text x="56.29" y="558" font-size="10" textLength="29.7" lengthAdjust="spacingAndGlyphs" text-anchor="end" fill="#262626" stroke="#262626" stroke-width="0.06">−0.10</text>
<text x="56.29" y="535.1" font-size="10" textLength="29.7" lengthAdjust="spacingAndGlyphs" text-anchor="end" fill="#262626" stroke="#262626" stroke-width="0.06">−0.05</text>
<text x="56.29" y="512.2" font-size="10" textLength="21.58" lengthAdjust="spacingAndGlyphs" text-anchor="end" fill="#262626" stroke="#262626" stroke-width="0.06">0.00</text>
<text x="56.29" y="489.3" font-size="10" textLength="21.58" lengthAdjust="spacingAndGlyphs" text-anchor="end" fill="#262626" stroke="#262626" stroke-width="0.06">0.05</text>
<text x="56.29" y="466.4" font-size="10" textLength="21.58" lengthAdjust="spacingAndGlyphs" text-anchor="end" fill="#262626" stroke="#262626" stroke-width="0.06">0.10</text>
<text x="56.29" y="443.5" font-size="10" textLength="21.58" lengthAdjust="spacingAndGlyphs" text-anchor="end" fill="#262626" stroke="#262626" stroke-width="0.06">0.15</text>
<text x="56.29" y="420.6" font-size="10" textLength="21.58" lengthAdjust="spacingAndGlyphs" text-anchor="end" fill="#262626" stroke="#262626" stroke-width="0.06">0.20</text>
<text x="69.54" y="608.8" font-size="10" textLength="6.17" lengthAdjust="spacingAndGlyphs" text-anchor="middle" fill="#262626" stroke="#262626" stroke-width="0.06">0</text>
<text x="104.7" y="608.8" font-size="10" textLength="12.33" lengthAdjust="spacingAndGlyphs" text-anchor="middle" fill="#262626" stroke="#262626" stroke-width="0.06">10</text>
<text x="139.87" y="608.8" font-size="10" textLength="12.33" lengthAdjust="spacingAndGlyphs" text-anchor="middle" fill="#262626" stroke="#262626" stroke-width="0.06">20</text>
<text x="175.03" y="608.8" font-size="10" textLength="12.33" lengthAdjust="spacingAndGlyphs" text-anchor="middle" fill="#262626" stroke="#262626" stroke-width="0.06">30</text>
<text x="210.2" y="608.8" font-size="10" textLength="12.33" lengthAdjust="spacingAndGlyphs" text-anchor="middle" fill="#262626" stroke="#262626" stroke-width="0.06">40</text>
<text x="245.36" y="608.8" font-size="10" textLength="12.33" lengthAdjust="spacingAndGlyphs" text-anchor="middle" fill="#262626" stroke="#262626" stroke-width="0.06">50</text>
<text x="280.53" y="608.8" font-size="10" textLength="12.33" lengthAdjust="spacingAndGlyphs" text-anchor="middle" fill="#262626" stroke="#262626" stroke-width="0.06">60</text>
<g transform="translate(21.69 508.4) scale(1.28 1) rotate(-90) scale(1 0.79)"><text x="0" y="0" font-size="12.8" textLength="108.09" lengthAdjust="spacingAndGlyphs" text-anchor="middle" fill="#262626" stroke="#262626" stroke-width="0.02">ShipWakes (units)</text></g>
<rect x="158.54" y="422.2" width="127.27" height="19.2" rx="1.67" ry="1.6" fill="#ffffff" fill-opacity="0.8" stroke="#d9d9d9" stroke-width="0.8"/>
<path d="M162.65,431.1H186.27" stroke="#0000ff" stroke-width="1.45" fill="none" stroke-dasharray="5.26 2.05"/>
<text x="194.49" y="434.8" font-size="11" textLength="86.19" lengthAdjust="spacingAndGlyphs" text-anchor="start" fill="#262626" stroke="#262626" stroke-width="0.12">ShipWakes (N4)</text>
<path d="M361.32,416.3V599.5M396.49,416.3V599.5M431.65,416.3V599.5M466.82,416.3V599.5M501.98,416.3V599.5M537.15,416.3V599.5M572.31,416.3V599.5M350.77,599.5H582.86M350.77,576.6H582.86M350.77,553.7H582.86M350.77,530.8H582.86M350.77,507.9H582.86M350.77,485H582.86M350.77,462.1H582.86M350.77,439.2H582.86M350.77,416.3H582.86" stroke="#ebebeb" stroke-width="0.7" stroke-dasharray="3 1.2" fill="none"/>
</g>
<g clip-path="url(#cq21)"><path transform="translate(281.47 0) scale(0.054806 0.1)" d="M0,5079l1 0 1 0 1 0 1 0 1 0 1 0 1 0 1 0 1 0 1 0 1 0 1 0 1 0 1 0 1 0 1 0 1 0 1 0 1 0 1 0 1 0 1 0 1 0 1 0 1 0 1 0 1 0 1 0 1 0 1 0 1 0 1 0 1 0 1 0 1 0 1 0 1 0 1 0 1 0 1 0 1 0 1 0 1 0 1 0 1 0 1 0 1 0 1 0 1 0 1 0 1 0 1 0 1 0 1 0 1 0 1 0 1 0 1 0 1 0 1 0 1 0 1 0 1 0 1 0 1 0 1 0 1 0 1 0 1 0 1 0 1 0 1 0 1 0 1 0 1 0 1 0 1 0 1 0 1 0 1 0 1 0 1 0 1 0 1 0 1 0 1 0 1 0 1 0 1 0 1 0 1 0 1 0 1 0 1 0 1 0 1 0 1 0 1 0 1 0 1 0 1 0 1 0 1 0 1 0 1 0 1 0 1 0 1 0 1 0 1 0 1 0 1 0 1 0 1 0 1 0 1 0 1 0 1 0 1 0 1 0 1 0 1 0 1 0 1 0 1 0 1 0 1 0 1 0 1 0 1 0 1 0 1 0 1 0 1 0 1 0 1 0 1 0 1 0 1 0 1 0 1 0 1 0 1 0 1 0 1 0 1 0 1 0 1 0 1 0 1 0 1 0 1 0 1 0 1 0 1 0 1 0 1 0 1 0 1 0 1 0 1 0 1 0 1 0 1 0 1 0 1 0 1 0 1 0 1 0 1 0 1 0 1 0 1 0 1 0 1 0 1 0 1 0 1 0 1 0 1 0 1 0 1 0 1 0 1 0 1 0 1 0 1 0 1 0 1 0 1 0 1 0 1 0 1 0 1 0 1 0 1 0 1 0 1 0 1 0 1 0 1 0 1 0 1 0 1 0 1 0 1 0 1 0 1 0 1 0 1 0 1 0 1 0 1 0 1 0 1 0 1 0 1 0 1 0 1 0 1 0 1 0 1 0 1 0 1 0 1 0 1 0 1 0 1 0 1 0 1 0 1 0 1 0 1 0 1 0 1 0 1 0 1 0 1 0 1 0 1 0 1 0 1 0 1 0 1 0 1 0 1 0 1 0 1 0 1 0 1 0 1 0 1 0 1 0 1 0 1 0 1 0 1 0 1 0 1 0 1 0 1 0 1 0 1 0 1 0 1 0 1 0 1 0 1 0 1 0 1 0 1 0 1 0 1 0 1 0 1 0 1 0 1 0 1 0 1 0 1 0 1 0 1 0 1 0 1 0 1 0 1 0 1 0 1 0 1 0 1 0 1 0 1 0 1 0 1 0 1 0 1 0 1 0 1 0 1 0 1 0 1 0 1 0 1 0 1 0 1 0 1 0 1 0 1 0 1 0 1 0 1 0 1 0 1 0 1 0 1 0 1 0 1 0 1 0 1 0 1 0 1 0 1 0 1 0 1 0 1 0 1 0 1 0 1 0 1 0 1 0 1 0 1 0 1 0 1 0 1 0 1 0 1 0 1 0 1 0 1 0 1 0 1 0 1 0 1 0 1 0 1 0 1 0 1 0 1 0 1 0 1 0 1 0 1 0 1 0 1 0 1 0 1 0 1 0 1 0 1 0 1 0 1 0 1 0 1 0 1 0 1 0 1 0 1 0 1 0 1 0 1 0 1 0 1 0 1 0 1 0 1 0 1 0 1 0 1 0 1 0 1 0 1 0 1 0 1 0 1 0 1 0 1 0 1 0 1 0 1 0 1 0 1 0 1 0 1 0 1 0 1 0 1 0 1 0 1 0 1 0 1 0 1 0 1 0 1 0 1 0 1 0 1 0 1 0 1 0 1 0 1 0 1 0 1 0 1 0 1 0 1 0 1 0 1 0 1 0 1 0 1 0 1 0 1 0 1 0 1 0 1 0 1 0 1 0 1 0 1 0 1 0 1 0 1 0 1 0 1 0 1 0 1 0 1 0 1 0 1 0 1 0 1 0 1 0 1 0 1 0 1 0 1 0 1 0 1 0 1 0 1 0 1 0 1 0 1 0 1 0 1 0 1 0 1 0 1 0 1 0 1 0 1 0 1 0 1 0 1 0 1 0 1 0 1 0 1 0 1 0 1 0 1 0 1 0 1 0 1 0 1 0 1 0 1 0 1 0 1 0 1 0 1 0 1 0 1 0 1 0 1 0 1 0 1 0 1 0 1 0 1 0 1 0 1 0 1 0 1 0 1 0 1 0 1 0 1 0 1 7" stroke="#008000" stroke-width="1.35" fill="none" stroke-linejoin="round" vector-effect="non-scaling-stroke" stroke-dasharray="3.9 1.8"/><path transform="translate(308.87 0) scale(0.054806 0.1)" d="M0,5086l1 0 1 0 1-3 1-11 1 17 1-13 1-1 1 9 1 3 1-6 1-3 1-4 1 8 1-3 1 12 1 3 1 5 1-2 1-4 1-3 1 9 1-11 1 5 1 3 1 1 1-15 1 9 1 6 1-1 1-15 1 12 1-11 1-2 1 18 1-21 1 7 1 4 1-5 1-7 1 0 1-2 1 5 1-12 1-2 1-3 1 4 1-6 1-1 1 7 1-1 1 2 1 0 1-1 1 14 1-7 1-3 1 14 1-2 1-16 1 16 1-2 1-3 1 5 1 4 1-1 1 1 1 3 1-3 1-6 1 8 1-6 1 6 1 1 1 3 1 6 1-3 1 1 1 9 1-9 1 1 1 2 1 5 1 12 1-22 1 8 1 12 1-16 1 7 1-7 1 4 1-7 1 4 1 0 1 0 1-6 1 13 1-14 1 2 1 6 1-4 1 2 1-4 1-5 1 8 1-8 1-2 1 1 1-6 1 8 1-5 1-10 1 13 1 0 1-1 1-4 1 6 1-2 1 7 1-4 1 0 1 0 1-4 1-6 1 6 1 5 1-9 1 1 1 9 1-8 1 7 1-2 1 1 1-8 1 10 1-2 1-2 1-4 1 0 1 13 1-11 1 6 1-4 1 2 1 10 1-2 1 2 1-2 1-6 1 9 1 5 1-16 1 19 1-5 1 1 1 7 1-10 1-2 1 7 1-1 1 1 1 9 1-11 1 8 1-2 1-7 1-4 1 10 1-11 1-4 1 8 1 1 1-3 1 3 1 2 1-9 1-1 1 6 1-1 1 0 1 0 1 1 1 2 1-14 1 6 1-3 1-10 1 12 1-6 1 9 1-4 1-7 1 4 1 6 1 0 1-10 1 7 1-9 1 2 1 3 1-1 1-5 1 4 1 5 1-6 1 3 1 0 1-4 1 1 1-3 1 7 1 1 1 0 1-4 1 7 1-2 1 3 1 0 1-3 1-13 1 15 1-3 1 1 1 2 1-1 1-10 1 12 1-9 1 5 1 8 1-1 1 0 1 3 1-11 1 4 1-1 1 9 1-8 1 5 1-15 1 13 1-2 1-1 1 4 1 0 1-1 1-7 1 8 1-4 1-3 1 3 1 4 1-1 1-5 1 2 1-11 1 4 1-1 1 4 1-9 1 3 1 2 1-2 1-17 1 14 1 1 1-12 1 1 1 5 1-10 1 14 1-5 1 5 1-16 1 6 1-14 1 11 1 0 1 8 1 0 1-3 1-8 1 10 1 7 1-17 1 0 1 10 1-8 1-3 1-1 1 14 1-8 1 4 1-9 1 4 1 7 1-7 1-3 1 11 1-1 1-4 1-2 1 1 1 7 1-2 1-8 1-3 1 7 1-6 1-9 1 11 1 1 1 2 1-7 1 2 1-1 1 3 1-4 1-1 1 1 1-8 1 12 1-14 1 1 1-8 1-8 1 6 1-3 1-5 1-11 1-6 1 3 1-7 1-11 1 2 1 5 1-8 1-7 1-10 1 0 1-15 1 4 1-15 1 7 1-16 1 2 1-11 1-7 1-2 1 0 1 6 1-3 1 10 1-27 1-1 1-1 1 10 1-22 1 18 1-9 1 13 1-5 1-8 1 4 1 14 1-1 1-1 1 21 1-7 1 20 1-3 1 14 1 3 1 19 1 11 1 12 1 16 1 10 1 18 1 12 1 9 1 21 1 9 1 19 1 17 1 28 1 10 1 13 1 21 1 18 1 17 1 36 1 8 1 20 1 24 1 25 1 12 1 21 1 9 1 23 1 28 1 23 1 17 1 15 1 21 1 4 1 34 1 11 1 16 1 14 1 23 1 11 1 12 1 13 1 18 1 11 1 9 1 2 1 27 1 0 1 4 1 23 1-8 1 7 1 12 1 0 1 1 1 11 1 0 1 8 1-2 1-12 1-17 1-37 1-26 1-38 1-62 1-56 1-57 1-59 1-60 1-64 1-73 1-54 1-48 1-48 1-35 1-28 1-23 1-14 1 6 1 4 1 11 1 9 1 15 1 35 1 27 1 34 1 28 1 39 1 35 1 36 1 17 1 45 1 33 1 25 1 15 1 16 1 16 1 19 1-15 1 2 1 6 1 9 1 11 1 6 1 22 1 8 1 25 1 18 1 19 1 21 1 20 1 14 1 16 1 31 1 21 1 5 1 24 1 12 1 13 1 6 1 17 1-5 1 5 1 14 1-39 1-62 1-97 1-118 1-138 1-160 1-169 1-165 1-159 1-161 1-119 1-94 1-79 1-42 1 0 1 5 1 28 1 43 1 33 1 55 1 65 1 76 1 80 1 76 1 81 1 78 1 77 1 77 1 74 1 57 1 57 1 28 1 28 1 11 1 7 1-8 1 9 1-11 1-5 1-9 1-2 1-19 1-7 1-24 1-15 1-23 1-8 1-27 1-22 1-10 1-43 1-16 1-15 1-35 1-19 1 0 1-32 1-17 1-22 1-12 1-20 1-16 1 1 1-26 1-17 1-1 1-11 1-7 1 5 1 0 1 7 1 22 1 12 1 44 1 40 1 46 1 50 1 72 1 58 1 53 1 58 1 67 1 55 1 37 1 44 1 42 1 28 1 22 1 13 1 1 1-8 1-1 1-11 1 6 1-7 1-22 1-3 1-17 1-16 1-9 1-15 1-28 1-2 1-39 1-7 1-36 1-19 1-22 1-24 1-20 1-14 1-35 1-18 1-23 1-17 1-20 1-26 1-18 1-14 1-8 1-16 1-13 1-24 1-7 1-6 1-6 1-2 1-13 1 9 1-2 1-8 1 3 1 8 1 12 1 6 1-5 1 12 1 3 1 21 1 10 1 17 1-1 1 33 1 1 1 10 1 30 1 19 1 14 1 19 1 6 1 19 1 21 1 13 1 5 1 26 1 15 1 1 1 30 1 10 1 1 1 19 1 21 1 3 1 15 1-2 1-1 1 16 1-16 1 3 1 3 1 8 1-5 1-5 1-6 1-5 1 16 1-13 1-3 1-11 1-9 1-20 1 6 1-14 1-4 1-9 1-20 1 6 1-21 1-20 1-19 1 11 1-10 1-10 1-18 1-15 1-14 1-19 1-5 1-17 1-2 1-20 1-16 1 0 1-28 1-17 1-8 1-14 1-11 1-5 1-19 1-8 1-14 1-11 1-10 1-1 1-16 1-20 1-3 1 0 1-4 1-16 1 0 1 6 1-13 1-16 1 17 1-12 1 3 1-4 1 2 1 3 1 13 1-11 1 3 1 7 1 12 1 5 1-8 1 30 1 6 1 17 1 7 1 11 1 8 1 21 1 17 1 14 1 15 1 21 1 18 1 10 1 30 1 15 1 23 1 16 1 7 1 31 1 11 1 9 1 27 1 21 1 21 1 27 1 6 1 15 1 3 1 15 1 25 1 0 1 19 1-5 1 11 1 13 1 13 1-7 1 10 1 2 1 6 1 6 1-6 1 9 1-10 1 2 1 10 1-15 1 2 1-1 1-4 1-9 1 9 1-4 1-15 1-1 1 7 1-17 1 6 1-20 1-3 1-8 1 6 1-11 1-17 1 7 1-19 1-3 1-10 1-2 1-17 1-7 1-11 1-19 1 8 1-11 1-2 1-26 1 3 1-16 1 3 1-15 1-15 1-9 1-5 1-16 1-5 1-15 1-2 1-15 1-2 1-20 1-1 1-10 1-5 1-18 1-4 1-6 1-18 1 5 1-19 1-11 1 13 1-24 1-5 1-5 1-7 1 3 1-17 1-4 1 5 1-13 1 1 1-12 1 1 1-10 1 6 1-9 1-4 1-4 1-11 1-8 1 21 1-16 1 6 1-1 1 0 1-1 1-1 1-5 1-2 1 7 1 3 1-2 1 2 1-7 1 19 1 5 1-5 1-1 1 6 1 1 1 20 1-8 1 3 1 8 1-1 1 2 1 1 1 12 1 9 1-8 1-5 1 16 1 5 1 13 1-3 1-3 1 28 1-13 1 24 1-16 1 10 1 13 1 3 1-3 1 23 1-8 1 10 1 10 1-3 1 25 1-3 1 13 1-1 1 3 1 19 1-5 1 6 1 11 1 3 1-1 1 10 1-2 1 22 1 7 1-10 1 22 1-11 1 13 1 1 1 11 1-4 1 3 1 5 1 9 1 15 1-10 1 9 1-4 1 22 1-9 1 8 1 1 1-3 1 2 1-1 1 8 1 2 1 3 1 10 1-12 1 13 1-1 1-6 1 8 1-1 1 12 1-10 1 2 1-4 1-7 1 4 1-1 1-3 1-6 1-1 1 3 1 3 1-9 1 7 1-3 1-4 1 3 1 3 1-1 1-8 1-5 1-5 1 7 1-9 1-1 1 1 1-21 1 18 1-2 1-9 1-11 1 9 1-14 1 12 1-6 1-5 1-2 1-5 1-3 1-2 1 2 1-13 1-1 1-4 1-10 1 1 1-2 1-10 1 8 1 3 1-9 1 0 1-10 1-3 1-5 1-5 1-6 1-2 1-2 1-1 1-2 1-7 1-1 1 1 1-7 1-11 1 1 1 2 1-10 1-5 1 7 1-20 1 0 1 5 1-11 1 2 1-5 1 7 1-6 1-4 1-4 1 0 1 5 1-6 1-12 1 3 1-15 1 0 1 8 1-5 1 11 1-18 1-4 1 10 1-2 1-2 1-10 1-3 1 11 1-4 1-7 1 1 1 2 1-5 1 8 1 3 1-13 1-2 1-3 1 10 1 3 1-6 1 1 1 0 1 1 1-9 1 7 1-6 1 14 1 2 1-11 1 14 1 0 1 1 1 5 1-13 1-7 1 8 1 0 1 8 1 6 1-8 1 12 1 3 1-2 1-11 1 6 1 6 1 7 1 1 1-7 1 5 1 6 1-10 1 13 1 8 1-7 1-6 1 4 1 1 1 13 1-6 1 4 1 5 1 8 1-13 1 9 1 6 1-6 1-9 1 28 1-9 1-8 1 2 1 21 1-1 1 12 1-11 1 12 1-1 1-14 1 19 1 6 1-10 1 0 1 2 1-4 1 14 1-2 1-3 1 8 1-10 1 4 1 8 1 3 1 0 1 0 1 16 1-3 1-2 1 2 1 0 1 1 1-4 1 4 1-3 1 1 1 3 1 3 1 3 1-9 1 9 1-4 1-3 1 4 1 12 1-5 1-18 1 24 1-19 1 16 1-8 1-6 1 13 1-13 1 21 1-14 1 3 1-8 1-2 1-4 1 0 1 10 1 2 1-9 1 5 1 10 1 0 1-13 1-1 1-4 1-2 1 11 1-14 1 9 1-12 1 2 1-12 1 7 1 4 1-3 1-3 1-6 1-2 1 9 1 0 1-14 1 3 1-8 1 2 1-10 1 5 1 11 1-7 1-8 1 9 1-9 1-6 1-5 1 0 1 14 1-20 1 12 1-8 1 5 1-14 1 5 1-4 1-3 1 2 1 2 1-16 1 4 1-3 1 16 1 0 1-26 1 5 1 15 1-16 1 1 1 6 1-5 1-17 1 16 1-9 1 7 1 4 1-28 1 11 1 7 1-2 1-1 1 4 1-11 1-2 1 7 1-4 1 8 1-11 1 15 1-13 1-11 1 11 1-21 1 26 1-6 1-2 1-6 1-2 1 7 1 11 1-20 1 6 1-1 1 17 1-13 1 5 1-7 1-5 1 19 1-4 1 0 1 7 1-8 1 2 1 11 1 1 1-6 1 16 1-13 1-2 1 2 1 14 1-17 1 0 1 24 1-17 1 5 1 5 1 13 1-10 1 17 1-6 1-3 1 4 1 8 1-2 1 5 1 0 1 9 1 5 1-2 1 7 1-14 1-8 1 16 1-2 1 18 1-5 1 9 1-10 1 5 1 10 1-15 1 12 1-4 1 1 1-3 1 3 1 10 1 3 1 4 1 4 1-18 1 17 1-13 1 17 1-1 1-11 1 9 1 5 1-17 1 20 1-3 1-10 1-5 1 10 1 5 1-21 1 15 1 4 1-5 1-8 1 27 1-12 1-13 1 1 1 2 1 1 1-6 1-4 1 11 1-2 1-9 1 7 1 6 1-9 1 5 1-13 1-3 1 10 1-5 1-5 1-7 1 0 1 4 1-2 1-8 1 3 1 0 1 10 1-10 1-4 1 2 1 6 1 4 1-18 1-2 1 2 1 6 1-4 1-4 1-7 1 3 1 5 1-4 1 3 1-22 1 17 1-17 1 7 1-12 1 19 1-14 1 10 1-1 1-2 1 3 1-4 1-5 1-15 1 14 1 6 1-15 1-6 1 26 1-22 1 13 1 2 1-18 1-6 1-4 1 12 1 3 1-5 1-3 1-3 1-3 1 6 1-2 1 3 1 6 1-8 1-7 1 5 1 20 1-26 1 17 1-22 1 2 1 11 1-8 1 19 1-3 1 4 1-7 1 3 1 0 1 2 1-9 1 11 1 5 1-3 1-1 1 1 1 12 1-2 1 0 1 6 1 6 1-6 1 16 1-15 1 9 1-5 1 0 1-14 1 1 1 0 1 17 1 6 1-8 1 15 1-6 1 7 1-4 1-4 1 15 1-9 1 2 1 1 1 0 1 7 1-1 1 4 1 10 1-22 1 7 1 1 1 11 1 9 1-14 1 10 1-20 1 1 1 18 1-14 1 5 1 7 1 11 1-16 1-2 1 0 1 11 1-5 1 0 1 0 1 5 1-13 1 4 1 7 1-6 1-4 1 4 1 0 1-4 1 12 1-11 1 9 1-6 1-8 1 12 1-12 1 3 1-6 1 21 1 17 1-22 1-23 1 13 1 3 1-2 1-4 1 4 1-19 1 16 1 10 1-1 1-9 1-1 1-7 1-2 1-1 1 15 1-12 1 8 1-7 1 9 1-19 1-1 1 7 1 9 1-15 1 4 1 12 1-15 1-3 1 2 1 17 1-20 1-2 1 11 1-14 1 4 1-4 1 19 1-11 1-7 1 15 1-13 1-13 1 24 1-23 1 3 1 13 1-1 1-1 1-9 1 19 1-23 1 16 1-10 1 0 1-9 1 12 1-1 1-16 1-4 1 12 1 2 1-5 1 0 1 0 1 8 1 8 1-19 1 2 1-10 1 0 1-4 1 16 1-10 1 15 1-12 1-2 1 9 1-5 1-20 1 25 1-15 1 11 1-10 1 26 1-10 1-8 1-15 1 14 1 8 1-6 1-10 1 18 1-12 1 2 1 1 1-6 1 9 1-10 1-1 1-8 1 10 1 4 1 8 1-5 1 6 1-20 1 28 1-21 1 0 1-1 1 8 1-20 1 20 1 10 1-7 1 1 1-16 1 11 1 7 1 0 1-6 1 3 1-3 1-8 1 19 1-6 1-7 1 14 1-16 1-6 1 10 1-5 1 9 1-2 1-2 1 2 1-9 1 13 1-10 1 11 1-16 1 2 1 9 1 14 1-4 1 15 1-27 1 11 1 2 1-5 1 12 1-7 1-5 1-6 1-10 1 25 1-13 1 12 1 4 1-11 1 4 1 12 1-11 1-16 1 22 1 1 1-16 1 8 1 8 1-9 1 8 1 3 1-9 1 11 1-13 1-6 1 18 1 1 1 0 1-5 1 7 1-7 1-5 1 15 1-10 1-7 1 3 1 14 1-17 1 19 1-16 1 21 1-17 1 8 1 0 1 1 1 5 1-11 1 3 1-6 1 14 1-12 1-2 1 15 1-17 1-2 1 22 1-1 1-28 1 18 1 4 1 6 1-13 1 10 1-7 1 2 1-2 1-2 1 8 1-6 1-1 1 7 1 4 1-8 1-11 1 15 1 2 1-6 1 6 1-4 1 1 1 4 1-7 1 9 1 0 1 7 1-7 1-8 1-8 1-15 1 26 1 3 1-20 1 28 1-19 1 5 1-11 1 15 1-3 1 15 1-9 1-4 1 4 1 1 1-14 1 21 1 1 1-1 1-6 1 2 1-5 1 3 1-20 1 20 1-4 1-6 1-15 1 20 1 3 1-12 1 11 1 10 1-1 1-9 1 8 1-20 1 5 1-10 1 11 1 5 1-9 1 1 1 12 1-21 1 12 1-5 1 11 1-13 1-10 1 20 1 6 1-9 1 0 1-4 1 18 1-22 1 6 1 5 1 8 1-12 1-7 1 5 1 0 1 3 1-2 1 14 1-24 1 4 1 11 1-3 1 12 1-5 1-10 1 9 1 4 1-7 1-8 1 14 1-13 1-1 1 0 1 0 1 4 1 3 1-10 1 15 1-18 1 21 1-9 1-4 1 17 1-19 1-5 1 18 1-7 1-9 1 1 1-2 1 21 1-12 1-11 1 22 1-2 1-9 1-1 1 12 1-4 1-7 1-3 1-14 1 7 1 6 1 2 1-6 1-17 1 25 1 5 1 2 1-10 1 10 1 6 1-9 1 0 1-15 1-5 1 17 1 0 1-13 1 8 1 4 1-11 1 15 1-13 1-13 1 30 1-16 1 6 1-13 1 3 1 15 1-6 1 6 1-16 1 16 1-6 1-9 1 12 1 5 1 1 1-1 1-7 1 1 1-7 1 5 1-11 1 3 1-5 1 16 1 5 1-21 1 8 1 21 1-13 1-9 1-6 1-10 1 10 1 7 1 6 1 4 1-2 1 4 1-9 1-9 1 4 1 13 1-15 1-3 1 10 1 1 1-2 1-4 1 21 1-9 1 3 1-11 1-4 1 9 1-14 1 7 1 0 1 1 1 11 1-25 1 13 1 16 1-20 1-2 1 18 1-12 1-12 1 8 1 4 1 1 1-4 1 12 1-5 1-6 1 3 1-12 1 27 1-33 1 22 1 1 1-5 1-9 1 11 1-14 1 2 1 9 1 2 1-1 1-3 1 14 1-24 1 11 1-2 1 8 1 0 1-18 1 29 1-19 1 9 1 8 1-20 1 13 1-13 1 9 1 15 1-17 1 9 1-8 1 1 1-6 1 3 1 3 1 3 1 7 1 6 1-20 1 13 1-7 1-10 1-1 1 0 1 6 1-3 1 0 1 2 1 12 1-12 1-6 1 9 1-2 1 22 1-12 1-29 1 29 1-14 1-6 1 3 1 6 1 3 1 10 1-26 1 14 1-9 1 24 1 3 1 0 1-24 1 10 1 0 1-5 1 2 1-1 1 8 1 2 1-10 1-7 1 14 1-6 1 4 1-7 1 14 1-27 1 1 1 15 1 2 1 13 1-22 1 6 1 0 1 16 1-21 1-9 1 25 1-7 1-13 1 5 1-1 1-21 1 15 1 11 1 26 1-23 1 11 1-1 1-22 1 20 1-8 1-13 1 18 1-1 1 5 1-6 1 10 1-16 1 9 1-11 1-1 1 6 1-2 1 5 1-8 1-3 1 4 1-9 1 11 1 2 1-5 1 18 1-9 1 13 1-20 1-6 1 20 1-5 1-1 1-16 1 7 1-8 1 6 1-1 1 23 1 2 1-30 1-9 1 31 1-1 1-20 1-8 1 28 1-4 1-14 1 5 1 0 1-4 1 18 1-2 1-22 1 29 1-23 1 13 1-17 1 13 1 1 1-12 1 10 1 0 1 22 1-27 1 7 1-11 1 13 1 7 1-23 1 12 1 2 1 10 1-25 1 4 1 18 1-16 1 2 1-6 1 11 1-20 1 38 1-4 1-21 1-2 1 5 1-19 1 19 1 18 1-30 1 14 1 4 1-9 1 0 1 9 1-11 1 3 1 6 1-1 1 18 1-10 1-1 1-3 1-18 1 14 1 4 1 9 1-7 1 4 1 1 1-9 1 15 1-8 1-16 1 9 1 9 1-3 1 1 1-18 1 1 1-4 1 19 1-2 1-9 1 19 1-6 1-14 1 14 1 3 1-13 1 7 1 4 1-7 1 17 1-23 1 5 1-1 1 1 1-5 1 23 1-17 1-13 1 21 1 1 1-1 1 7 1-37 1 26 1-9 1 16 1-2 1 2 1 6 1-9 1-16 1 17 1-16 1-9 1 14 1-7 1-2 1 17 1-1 1 12 1-12 1-16 1 8 1 4 1 3 1 4 1-5 1-25 1 9 1 9 1 5 1 4 1-16 1 14 1-2 1 0 1-16 1 11 1-14 1 22 1 1 1 4 1-13 1 13 1-6 1-18 1 7 1 9 1-1 1 29 1-9 1-27 1 17 1-2 1-16 1 21 1-14 1 4 1-5 1 2 1-17 1 10 1-8 1 21 1-6 1-4 1-13 1 8 1 10 1 11 1-12 1 11 1-1 1-3 1-2 1 2 1-17 1 12 1 9 1-10 1 15 1-18 1-3 1 0 1 16 1-19 1 1 1-9 1 11 1 6 1 2 1 4 1 3 1-3 1-16 1 12 1-2 1 4 1-8 1-4 1 1 1 17 1-9 1-22 1 16 1 5 1 4 1 9 1 4 1-14 1-3 1 8 1-6 1-7 1 0 1-5 1 25 1-16 1-4 1 4 1 14 1 3 1-31 1 22 1-9 1 9 1 2 1-12 1-4 1 9 1 2 1-11 1 10 1 1 1 3 1-8 1 4 1 1 1 1 1-5 1-9 1 12 1 7 1-28 1 11 1 14 1 12 1-28 1 19 1-6 1 24 1-32 1-3 1 12 1 1 1-1 1 11 1-1 1-21 1 13 1-3 1 1 1-9 1 9 1-6 1-2 1 12 1-4 1-5 1-5 1 5 1-1 1 14 1-5 1-8 1 6 1-1 1-2 1-14 1 23 1-17 1 2 1 4 1 9 1-6 1 5 1-13 1 8 1-1 1 9 1-20 1 31 1-41 1 32 1-3 1-2 1 10 1-23 1 17 1 1 1-18 1 5 1 22 1-3 1-13 1-2 1-5 1 7 1-13 1 1 1 6 1 4 1-11 1-2 1 10 1 4 1-8 1 12 1-8 1-4 1 17 1-3 1 11 1-13 1-10 1 10 1-9 1 4 1 7 1-20 1 14 1-11 1 6 1 4 1-17 1 20 1 2 1-18 1 9 1 10 1-3 1 8 1-17 1-6 1 6 1-2 1-6 1 11 1 9 1-1 1-10 1 2 1 0 1 13 1-11 1-14 1 13 1-11 1 9 1 5 1-14 1-5 1 10 1-6 1 16 1 7 1 6 1-17 1-14 1 19 1 9 1-14 1 0 1 1 1 10 1-25 1 21 1-3 1 13" stroke="#008000" stroke-width="1.35" fill="none" stroke-linejoin="round" vector-effect="non-scaling-stroke" stroke-dasharray="5 2"/></g>
<g transform="scale(0.779 1)">
<path d="M350.77,416.3V599.5H582.86" stroke="#9a9a9a" stroke-width="1.35" fill="none"/>
<path d="M350.77,599.5h2.82M350.77,576.6h2.82M350.77,553.7h2.82M350.77,530.8h2.82M350.77,507.9h2.82M350.77,485h2.82M350.77,462.1h2.82M350.77,439.2h2.82M350.77,416.3h2.82M361.32,599.5v-2.2M396.49,599.5v-2.2M431.65,599.5v-2.2M466.82,599.5v-2.2M501.98,599.5v-2.2M537.15,599.5v-2.2M572.31,599.5v-2.2" stroke="#6a6a6a" stroke-width="1" fill="none"/>
<text x="348.07" y="603.8" font-size="10" textLength="29.7" lengthAdjust="spacingAndGlyphs" text-anchor="end" fill="#262626" stroke="#262626" stroke-width="0.06">−0.20</text>
<text x="348.07" y="580.9" font-size="10" textLength="29.7" lengthAdjust="spacingAndGlyphs" text-anchor="end" fill="#262626" stroke="#262626" stroke-width="0.06">−0.15</text>
<text x="348.07" y="558" font-size="10" textLength="29.7" lengthAdjust="spacingAndGlyphs" text-anchor="end" fill="#262626" stroke="#262626" stroke-width="0.06">−0.10</text>
<text x="348.07" y="535.1" font-size="10" textLength="29.7" lengthAdjust="spacingAndGlyphs" text-anchor="end" fill="#262626" stroke="#262626" stroke-width="0.06">−0.05</text>
<text x="348.07" y="512.2" font-size="10" textLength="21.58" lengthAdjust="spacingAndGlyphs" text-anchor="end" fill="#262626" stroke="#262626" stroke-width="0.06">0.00</text>
<text x="348.07" y="489.3" font-size="10" textLength="21.58" lengthAdjust="spacingAndGlyphs" text-anchor="end" fill="#262626" stroke="#262626" stroke-width="0.06">0.05</text>
<text x="348.07" y="466.4" font-size="10" textLength="21.58" lengthAdjust="spacingAndGlyphs" text-anchor="end" fill="#262626" stroke="#262626" stroke-width="0.06">0.10</text>
<text x="348.07" y="443.5" font-size="10" textLength="21.58" lengthAdjust="spacingAndGlyphs" text-anchor="end" fill="#262626" stroke="#262626" stroke-width="0.06">0.15</text>
<text x="348.07" y="420.6" font-size="10" textLength="21.58" lengthAdjust="spacingAndGlyphs" text-anchor="end" fill="#262626" stroke="#262626" stroke-width="0.06">0.20</text>
<text x="361.32" y="608.8" font-size="10" textLength="6.17" lengthAdjust="spacingAndGlyphs" text-anchor="middle" fill="#262626" stroke="#262626" stroke-width="0.06">0</text>
<text x="396.49" y="608.8" font-size="10" textLength="12.33" lengthAdjust="spacingAndGlyphs" text-anchor="middle" fill="#262626" stroke="#262626" stroke-width="0.06">10</text>
<text x="431.65" y="608.8" font-size="10" textLength="12.33" lengthAdjust="spacingAndGlyphs" text-anchor="middle" fill="#262626" stroke="#262626" stroke-width="0.06">20</text>
<text x="466.82" y="608.8" font-size="10" textLength="12.33" lengthAdjust="spacingAndGlyphs" text-anchor="middle" fill="#262626" stroke="#262626" stroke-width="0.06">30</text>
<text x="501.98" y="608.8" font-size="10" textLength="12.33" lengthAdjust="spacingAndGlyphs" text-anchor="middle" fill="#262626" stroke="#262626" stroke-width="0.06">40</text>
<text x="537.15" y="608.8" font-size="10" textLength="12.33" lengthAdjust="spacingAndGlyphs" text-anchor="middle" fill="#262626" stroke="#262626" stroke-width="0.06">50</text>
<text x="572.31" y="608.8" font-size="10" textLength="12.33" lengthAdjust="spacingAndGlyphs" text-anchor="middle" fill="#262626" stroke="#262626" stroke-width="0.06">60</text>
<g transform="translate(313.22 508.4) scale(1.28 1) rotate(-90) scale(1 0.79)"><text x="0" y="0" font-size="12.8" textLength="108.09" lengthAdjust="spacingAndGlyphs" text-anchor="middle" fill="#262626" stroke="#262626" stroke-width="0.02">ShipWakes (units)</text></g>
<rect x="450.33" y="422.2" width="127.27" height="19.2" rx="1.67" ry="1.6" fill="#ffffff" fill-opacity="0.8" stroke="#d9d9d9" stroke-width="0.8"/>
<path d="M454.43,431.1H478.05" stroke="#008000" stroke-width="1.45" fill="none" stroke-dasharray="5.26 2.05"/>
<text x="486.27" y="434.8" font-size="11" textLength="86.19" lengthAdjust="spacingAndGlyphs" text-anchor="start" fill="#262626" stroke="#262626" stroke-width="0.12">ShipWakes (N5)</text>
<path d="M653.1,416.3V599.5M688.27,416.3V599.5M723.44,416.3V599.5M758.6,416.3V599.5M793.77,416.3V599.5M828.93,416.3V599.5M864.1,416.3V599.5M642.55,599.5H874.65M642.55,576.6H874.65M642.55,553.7H874.65M642.55,530.8H874.65M642.55,507.9H874.65M642.55,485H874.65M642.55,462.1H874.65M642.55,439.2H874.65M642.55,416.3H874.65" stroke="#ebebeb" stroke-width="0.7" stroke-dasharray="3 1.2" fill="none"/>
</g>
<g clip-path="url(#cq22)"><path transform="translate(508.77 0) scale(0.054806 0.1)" d="M0,5079l1 0 1 0 1 0 1 0 1 0 1 0 1 0 1 0 1 0 1 0 1 0 1 0 1 0 1 0 1 0 1 0 1 0 1 0 1 0 1 0 1 0 1 0 1 0 1 0 1 0 1 0 1 0 1 0 1 0 1 0 1 0 1 0 1 0 1 0 1 0 1 0 1 0 1 0 1 0 1 0 1 0 1 0 1 0 1 0 1 0 1 0 1 0 1 0 1 0 1 0 1 0 1 0 1 0 1 0 1 0 1 0 1 0 1 0 1 0 1 0 1 0 1 0 1 0 1 0 1 0 1 0 1 0 1 0 1 0 1 0 1 0 1 0 1 0 1 0 1 0 1 0 1 0 1 0 1 0 1 0 1 0 1 0 1 0 1 0 1 0 1 0 1 0 1 0 1 0 1 0 1 0 1 0 1 0 1 0 1 0 1 0 1 0 1 0 1 0 1 0 1 0 1 0 1 0 1 0 1 0 1 0 1 0 1 0 1 0 1 0 1 0 1 0 1 0 1 0 1 0 1 0 1 0 1 0 1 0 1 0 1 0 1 0 1 0 1 0 1 0 1 0 1 0 1 0 1 0 1 0 1 0 1 0 1 0 1 0 1 0 1 0 1 0 1 0 1 0 1 0 1 0 1 0 1 0 1 0 1 0 1 0 1 0 1 0 1 0 1 0 1 0 1 0 1 0 1 0 1 0 1 0 1 0 1 0 1 0 1 0 1 0 1 0 1 0 1 0 1 0 1 0 1 0 1 0 1 0 1 0 1 0 1 0 1 0 1 0 1 0 1 0 1 0 1 0 1 0 1 0 1 0 1 0 1 0 1 0 1 0 1 0 1 0 1 0 1 0 1 0 1 0 1 0 1 0 1 0 1 0 1 0 1 0 1 0 1 0 1 0 1 0 1 0 1 0 1 0 1 0 1 0 1 0 1 0 1 0 1 0 1 0 1 0 1 0 1 0 1 0 1 0 1 0 1 0 1 0 1 0 1 0 1 0 1 0 1 0 1 0 1 0 1 0 1 0 1 0 1 0 1 0 1 0 1 0 1 0 1 0 1 0 1 0 1 0 1 0 1 0 1 0 1 0 1 0 1 0 1 0 1 0 1 0 1 0 1 0 1 0 1 0 1 0 1 0 1 0 1 0 1 0 1 0 1 0 1 0 1 0 1 0 1 0 1 0 1 0 1 0 1 0 1 0 1 0 1 0 1 0 1 0 1 0 1 0 1 0 1 0 1 0 1 0 1 0 1 0 1 0 1 0 1 0 1 0 1 0 1 0 1 0 1 0 1 0 1 0 1 0 1 0 1 0 1 0 1 0 1 0 1 0 1 0 1 0 1 0 1 0 1 0 1 0 1 0 1 0 1 0 1 0 1 0 1 0 1 0 1 0 1 0 1 0 1 0 1 0 1 0 1 0 1 0 1 0 1 0 1 0 1 0 1 0 1 0 1 0 1 0 1 0 1 0 1 0 1 0 1 0 1 0 1 0 1 0 1 0 1 0 1 0 1 0 1 0 1 0 1 0 1 0 1 0 1 0 1 0 1 0 1 0 1 0 1 0 1 0 1 0 1 0 1 0 1 0 1 0 1 0 1 0 1 0 1 0 1 0 1 0 1 0 1 0 1 0 1 0 1 0 1 0 1 0 1 0 1 0 1 0 1 0 1 0 1 0 1 0 1 0 1 0 1 0 1 0 1 0 1 0 1 0 1 0 1 0 1 0 1 0 1 0 1 0 1 0 1 0 1 0 1 0 1 0 1 0 1 0 1 0 1 0 1 0 1 0 1 0 1 0 1 0 1 0 1 0 1 0 1 0 1 0 1 0 1 0 1 0 1 0 1 0 1 0 1 0 1 0 1 0 1 0 1 0 1 0 1 0 1 0 1 0 1 0 1 0 1 0 1 0 1 0 1 0 1 0 1 0 1 0 1 0 1 0 1 0 1 0 1 0 1 0 1 0 1 0 1 0 1 0 1 0 1 0 1 0 1 0 1 0 1 0 1 0 1 0 1 0 1 0 1 0 1 0 1 0 1 0 1 0 1 0 1 0 1 0 1 0 1 0 1 0 1 0 1 0 1 0 1 0 1 0 1 0 1 0 1 0 1 0 1 0 1 0 1 0 1 0 1 0 1 0 1 0 1 0 1 0 1 0 1 0 1 0 1 0 1 0 1 0 1 0 1 0 1 0 1 0 1 0 1 0 1 0 1 0 1 0 1 0 1 0 1 0 1 0 1 0 1-3" stroke="#ff0000" stroke-width="1.35" fill="none" stroke-linejoin="round" vector-effect="non-scaling-stroke" stroke-dasharray="3.9 1.8"/><path transform="translate(536.17 0) scale(0.054806 0.1)" d="M0,5076l1 2 1 2 1 13 1-14 1 14 1-15 1 3 1 0 1 2 1 4 1 6 1 0 1-9 1 13 1-1 1 4 1-1 1 0 1-3 1 3 1 0 1 1 1-4 1 7 1-9 1-8 1 10 1-6 1-17 1 19 1 1 1-8 1-14 1-3 1 15 1-12 1 1 1 1 1 5 1-17 1 8 1-8 1 0 1-11 1 2 1 12 1-6 1-7 1 12 1-5 1-3 1 10 1-2 1 3 1-10 1 5 1-7 1 6 1-2 1 5 1-3 1 6 1 6 1-10 1 2 1-5 1 15 1 4 1 6 1 15 1-11 1-8 1 9 1 11 1-15 1 9 1 0 1 3 1 0 1-1 1 14 1-7 1 4 1-7 1 13 1-13 1 7 1-4 1 14 1-7 1 3 1 11 1-5 1 2 1 3 1-1 1 4 1-4 1-5 1 6 1 4 1-14 1 7 1-2 1 0 1 1 1-7 1 5 1-5 1 7 1-1 1-8 1-14 1 8 1-12 1 7 1-2 1 3 1-4 1-12 1 2 1 8 1-3 1-11 1 8 1-9 1 9 1-10 1-5 1 2 1 3 1 0 1 1 1-1 1-6 1 0 1 4 1 8 1-4 1-4 1 1 1 7 1-11 1-11 1 20 1-8 1-8 1 10 1-1 1-3 1-3 1 5 1-9 1 15 1-14 1 1 1 2 1-3 1 1 1-7 1 9 1-3 1 7 1-2 1-5 1 7 1-4 1 2 1-4 1-3 1-5 1 16 1-9 1-6 1-3 1 1 1 15 1-5 1-5 1-2 1 4 1 1 1 1 1 6 1-5 1-3 1 7 1-8 1 23 1-13 1-11 1 6 1-3 1 8 1 7 1-2 1-11 1 19 1-4 1 4 1-5 1-1 1-4 1 8 1-14 1 6 1 7 1 3 1 3 1-9 1-9 1 11 1 5 1-5 1 2 1 2 1 5 1-10 1-9 1 1 1 0 1 3 1-2 1-4 1 4 1-3 1 2 1-10 1 9 1-11 1-3 1-2 1-1 1 4 1-1 1-4 1-2 1 2 1-6 1-1 1-1 1-9 1 4 1-7 1-9 1-3 1 7 1-7 1 3 1-13 1 2 1 2 1 6 1-1 1-5 1 3 1 0 1-5 1 10 1 4 1-5 1 1 1-6 1 5 1-3 1 11 1-19 1 7 1 8 1-5 1-4 1 3 1 7 1-2 1 0 1 13 1 3 1-3 1-6 1-1 1 10 1-5 1 5 1 8 1 6 1 2 1-1 1-4 1 6 1 14 1 3 1-8 1 7 1 9 1-6 1 0 1 6 1 8 1-4 1 13 1 5 1 5 1-12 1 3 1 15 1 0 1 5 1 1 1 2 1 6 1 8 1 6 1 7 1 12 1-10 1 7 1-1 1 5 1 8 1 1 1-2 1 5 1 9 1 3 1-4 1 5 1 3 1 5 1-1 1 6 1-10 1 19 1 4 1-10 1 12 1 6 1-4 1 17 1-12 1 4 1 1 1 8 1-10 1 7 1 4 1-1 1 8 1-2 1 8 1-1 1-6 1 2 1-3 1 9 1-3 1 4 1-5 1-2 1-2 1 3 1 7 1-6 1 7 1 3 1-12 1 0 1-5 1-2 1 9 1-4 1-7 1-2 1-4 1 6 1-8 1-8 1-10 1 14 1-19 1 6 1 3 1-19 1 9 1-4 1-14 1-6 1 1 1-1 1 0 1-13 1 8 1-10 1-18 1-3 1-8 1-1 1 4 1-14 1 7 1-19 1-8 1 7 1-16 1 1 1-4 1 4 1-14 1-11 1 9 1-11 1-4 1 1 1-19 1 1 1-4 1-9 1 5 1-26 1 16 1 1 1-14 1-2 1 4 1-3 1-12 1 0 1-3 1-5 1 6 1-12 1 4 1-5 1 7 1-10 1 2 1-13 1 14 1-10 1 5 1-5 1 7 1-1 1 16 1-4 1-10 1 5 1 1 1 9 1-3 1 10 1 3 1-3 1 6 1 13 1 2 1 5 1 7 1 6 1 11 1-2 1 15 1 6 1-5 1 4 1 6 1 15 1 12 1 0 1 3 1 14 1 10 1 13 1 7 1-12 1 24 1 1 1 4 1 3 1 14 1-5 1 5 1 8 1 8 1 3 1 12 1-10 1 9 1 7 1-4 1-1 1 2 1 0 1-2 1 9 1-3 1-1 1 7 1-15 1 4 1-7 1-5 1 1 1-14 1-8 1-2 1 9 1-31 1 0 1-6 1-9 1-7 1-12 1-15 1 1 1-16 1-5 1-10 1-7 1-12 1-11 1-1 1-11 1-8 1 11 1-16 1 2 1-3 1-8 1 6 1 2 1-13 1-3 1-3 1-22 1 10 1-9 1-22 1-10 1-25 1-13 1-18 1-22 1-14 1-12 1-25 1-25 1-13 1-19 1-17 1-7 1-4 1-3 1-12 1-9 1 2 1 22 1 49 1 49 1 67 1 70 1 83 1 57 1 41 1 26 1 8 1-7 1 3 1-11 1 4 1-9 1 6 1-20 1-3 1-17 1-5 1-18 1-2 1-6 1-22 1-14 1-5 1-10 1-24 1-14 1-11 1-9 1-11 1-20 1-6 1-1 1-8 1-18 1-9 1 1 1-5 1-14 1 4 1-9 1 9 1 0 1 5 1-7 1 5 1 12 1-5 1 10 1 6 1 0 1 12 1 13 1 16 1 17 1 9 1 12 1 5 1 26 1 12 1 12 1 13 1 11 1 13 1 23 1 3 1 21 1 22 1 15 1 10 1 11 1 5 1 20 1 9 1 10 1 2 1 16 1-5 1 12 1 0 1-1 1 2 1-14 1 20 1 5 1-7 1-16 1 6 1-18 1 1 1-13 1 5 1-24 1-10 1 2 1-24 1-19 1 3 1-6 1-15 1-14 1-20 1-18 1 0 1-13 1-6 1-17 1-18 1 3 1-26 1-12 1-12 1 2 1-3 1-15 1-3 1-1 1-11 1 0 1-23 1 5 1-2 1 12 1-14 1 11 1-6 1 12 1-7 1 16 1-6 1 4 1 11 1-4 1 8 1 4 1-1 1 3 1 15 1-2 1 8 1 9 1 2 1 25 1-8 1 13 1 13 1 7 1 1 1 8 1 11 1 20 1 11 1-1 1 6 1 16 1 0 1 10 1 9 1 16 1-4 1 10 1 5 1 14 1 17 1-3 1 4 1 12 1 13 1-5 1 6 1 16 1 2 1 8 1-6 1 4 1-6 1 19 1-11 1 11 1-2 1 10 1-7 1 3 1-3 1-2 1-4 1-4 1 2 1 2 1-15 1 1 1-1 1-17 1 1 1-9 1 8 1-13 1-23 1 1 1-7 1-1 1-11 1-12 1-5 1-8 1 1 1-14 1-10 1-14 1-8 1-4 1-4 1-7 1-13 1 3 1-13 1-5 1-6 1-16 1 6 1-9 1-8 1 3 1 1 1 6 1-19 1 16 1 6 1-18 1 16 1 0 1-1 1 6 1 9 1-11 1 3 1 3 1 9 1 7 1 6 1-5 1 8 1 13 1 1 1 15 1-5 1 14 1 0 1 5 1 19 1-17 1 7 1 8 1 2 1-2 1 1 1-3 1 2 1-4 1 1 1 8 1-4 1-15 1-4 1-3 1 2 1-11 1-6 1-17 1 1 1-5 1-12 1-16 1-17 1 3 1-19 1 1 1-9 1-7 1-18 1-1 1-16 1 1 1-20 1 3 1-4 1 3 1-20 1 3 1-1 1-2 1 3 1 0 1-5 1 7 1-3 1-14 1 16 1 2 1-6 1 14 1-13 1 11 1 9 1-3 1 6 1-6 1 10 1-4 1 20 1-6 1-2 1 4 1 6 1 0 1 3 1 9 1 3 1 0 1 8 1 21 1-2 1-1 1-5 1 8 1 0 1 2 1 6 1 13 1-7 1 17 1 2 1-2 1 15 1-22 1-2 1 18 1 4 1 13 1-15 1 9 1 5 1 2 1-7 1 2 1 0 1 3 1 7 1-20 1 4 1 10 1 5 1-1 1-10 1 2 1 3 1-5 1 13 1-11 1 10 1 7 1-6 1 4 1 8 1-13 1 24 1-10 1 2 1 9 1-2 1-5 1 18 1 2 1-2 1-2 1-1 1 6 1 13 1-11 1 5 1 1 1 19 1 3 1-4 1 1 1-1 1 10 1 2 1-8 1 18 1-4 1-6 1-3 1 4 1-7 1 9 1-2 1 1 1 5 1 9 1-6 1 0 1 4 1-10 1 8 1 6 1-10 1 6 1-11 1 20 1-7 1-12 1-2 1 0 1-10 1 10 1 0 1-10 1 6 1-6 1-7 1 8 1-2 1 1 1-8 1-4 1-4 1 0 1-11 1 10 1-2 1 0 1-12 1 5 1 0 1 4 1-10 1-8 1 19 1-12 1-3 1-4 1-8 1 0 1-5 1-4 1-9 1 7 1-6 1 1 1-5 1 1 1 3 1-13 1-7 1 11 1-8 1-2 1 11 1-28 1 0 1 0 1-1 1 10 1 9 1-17 1-3 1 0 1 0 1-11 1 0 1 4 1 2 1-20 1 8 1 4 1 8 1 1 1 7 1-17 1-4 1 2 1-1 1-2 1-5 1 17 1-3 1-14 1 4 1-2 1 10 1-16 1 9 1 3 1 4 1-7 1 1 1 2 1-11 1 3 1 9 1 4 1-1 1-4 1 21 1-20 1 4 1-15 1 12 1 4 1 0 1 5 1 1 1-3 1 13 1-12 1 12 1-6 1 1 1-8 1-5 1 2 1 13 1 0 1-1 1 0 1-6 1 4 1 6 1-12 1 8 1-5 1 14 1-4 1 3 1 2 1 9 1-7 1 12 1-11 1-8 1 5 1 7 1 5 1-6 1 13 1 2 1 2 1-10 1 12 1-11 1-2 1 3 1 6 1-2 1 12 1-9 1-9 1 3 1 21 1-9 1 2 1-7 1 5 1 3 1 5 1-5 1 3 1-1 1 3 1 8 1-11 1 0 1 3 1 0 1-6 1 1 1-3 1 7 1-1 1 6 1 8 1 1 1-11 1 3 1-3 1 20 1-14 1-2 1 3 1-1 1 11 1-11 1-10 1 16 1-11 1 8 1-6 1-9 1 9 1-3 1-2 1 4 1-9 1 21 1-12 1 10 1-3 1-11 1 7 1-6 1-14 1 5 1-23 1 25 1-2 1 16 1-18 1 2 1-8 1 2 1 3 1 8 1-20 1 9 1 5 1-16 1 15 1-11 1 9 1-14 1 8 1-33 1 11 1 3 1-1 1-4 1-3 1 3 1 8 1-11 1 11 1-10 1-7 1 9 1-12 1 5 1-22 1 18 1-7 1-3 1 2 1-2 1 2 1-4 1-1 1-6 1-4 1 7 1-11 1 9 1 6 1-5 1 1 1-5 1-2 1-2 1-8 1 2 1 8 1-8 1 4 1-6 1-4 1 9 1-7 1-4 1 7 1 10 1-7 1 5 1-13 1 5 1 0 1-11 1 8 1 4 1 15 1-9 1 2 1-3 1 8 1-13 1-4 1 13 1 8 1-10 1 3 1-7 1 8 1 6 1 6 1-9 1 18 1-7 1-12 1 8 1 1 1 3 1 9 1-5 1-5 1 1 1 13 1-6 1-4 1 6 1-7 1 12 1 14 1-10 1 1 1-2 1 3 1-5 1 8 1 5 1 7 1-1 1-9 1-2 1 12 1 3 1 5 1-1 1 3 1 5 1-8 1 16 1-8 1 2 1-2 1 7 1 7 1-5 1 8 1-3 1 4 1-22 1 35 1-6 1-17 1 11 1 10 1-14 1-10 1 16 1-6 1 17 1-5 1-5 1 0 1 7 1 0 1 0 1 1 1-1 1 0 1-8 1 14 1-14 1-10 1 12 1 4 1 3 1-3 1 4 1-11 1 2 1-7 1 3 1-5 1-6 1 3 1-14 1 11 1 11 1-9 1-2 1 4 1-6 1 0 1-7 1 10 1 5 1-5 1 9 1 5 1-13 1-5 1 0 1-15 1 15 1 0 1-25 1 25 1-19 1 5 1 17 1-27 1 8 1-6 1 0 1-3 1-5 1-11 1 13 1 3 1-9 1 2 1 21 1-23 1 5 1-2 1 8 1-26 1 10 1 6 1 0 1-3 1-1 1-7 1 2 1 6 1-2 1-7 1 12 1-5 1-10 1 7 1-11 1 19 1-5 1 3 1 0 1-12 1-2 1 8 1 2 1-14 1 2 1 28 1-14 1 16 1-3 1-6 1 5 1-12 1 9 1-1 1 0 1-12 1 12 1-3 1 4 1-4 1 10 1 2 1-9 1 10 1 15 1-1 1-5 1-6 1 11 1-16 1 10 1 6 1 9 1-14 1 2 1 15 1-18 1 1 1-1 1 13 1-7 1 24 1-18 1 7 1-2 1-4 1 9 1-3 1 6 1-1 1 2 1-11 1-7 1 17 1 5 1-11 1-4 1 1 1 11 1-9 1 6 1-3 1-3 1 3 1-7 1 7 1-15 1 10 1 10 1-17 1 1 1 5 1 1 1-2 1-4 1 7 1-7 1 10 1-8 1 11 1-10 1-2 1 8 1-7 1 17 1-14 1 1 1-7 1 5 1-8 1-7 1 13 1-6 1-6 1 5 1-2 1 10 1-5 1 11 1-15 1 3 1 0 1 17 1-22 1-4 1 0 1 7 1-7 1 10 1 5 1-5 1 5 1-20 1 32 1-21 1 8 1-2 1-10 1 6 1-10 1 10 1-1 1-2 1-9 1 15 1-3 1 1 1-1 1 6 1-7 1-6 1-8 1 7 1 8 1-16 1 24 1-18 1 13 1-8 1 9 1 1 1-8 1-18 1 11 1-5 1 9 1-3 1 6 1-2 1-2 1-10 1 5 1 8 1-5 1 5 1-11 1 2 1 0 1-4 1 1 1-7 1 17 1-12 1 7 1-9 1 11 1 8 1-9 1 1 1 4 1-6 1-12 1 11 1-8 1-5 1 2 1 5 1-4 1 10 1 7 1 1 1-18 1-4 1 13 1-3 1 18 1-23 1 6 1 14 1-19 1 0 1-2 1 7 1-3 1 9 1-18 1 14 1-13 1 6 1 6 1-12 1 15 1-8 1 2 1 2 1-2 1-5 1 9 1 1 1-2 1 2 1 4 1-10 1 16 1-13 1 3 1-4 1-3 1 2 1 2 1-10 1 14 1 6 1-8 1-7 1-9 1-2 1 14 1-7 1-3 1 16 1-15 1 8 1 5 1-5 1-1 1 21 1-16 1-1 1 7 1-7 1 5 1 3 1-5 1 15 1-19 1-1 1 2 1-2 1 8 1 1 1 10 1 0 1-8 1-13 1 8 1-11 1 5 1 14 1-3 1 4 1 3 1-13 1-3 1 12 1-15 1 1 1 12 1-7 1 10 1-7 1-4 1 19 1-26 1 25 1-14 1 4 1-10 1 14 1-3 1-29 1 12 1 7 1 12 1-8 1 16 1-7 1-9 1-3 1 9 1-8 1-1 1 15 1-10 1 3 1-12 1 22 1-14 1 6 1-18 1 35 1-32 1 16 1-6 1 16 1-1 1-8 1-3 1 21 1-14 1-2 1-2 1-7 1 4 1 4 1 8 1 4 1-14 1-11 1 12 1-7 1 17 1-17 1 9 1-2 1-4 1-1 1 4 1-1 1 1 1 9 1-4 1-2 1-13 1 23 1-10 1-8 1 3 1 14 1 2 1-5 1-7 1-4 1 8 1-2 1 4 1 4 1-17 1-4 1 16 1 5 1-12 1 18 1-1 1-12 1-14 1 18 1-3 1-12 1 22 1 4 1-31 1 10 1 11 1-7 1-3 1 10 1-23 1 34 1-27 1 10 1 2 1 0 1 7 1-3 1 2 1 8 1-17 1 16 1-3 1-24 1 21 1-17 1 2 1 9 1-11 1 18 1 2 1-3 1-1 1-7 1-12 1 23 1-4 1-3 1-2 1 5 1-14 1 15 1 4 1-22 1 3 1 11 1 8 1-9 1-5 1-7 1-1 1 17 1-3 1 2 1-2 1 4 1-1 1-2 1-2 1 16 1-12 1-9 1 2 1-2 1 0 1 1 1-4 1 9 1 10 1-21 1 8 1 17 1-22 1 1 1 18 1-15 1 4 1-4 1 8 1-19 1 22 1 1 1-5 1-3 1 4 1-17 1 21 1-29 1 32 1-16 1-11 1-5 1 21 1 11 1-7 1-1 1-11 1 14 1-16 1 16 1-15 1-15 1 15 1-4 1 8 1 5 1-8 1-1 1 30 1-18 1-25 1 13 1 3 1 5 1 0 1-2 1 27 1-43 1 11 1 10 1-18 1 13 1-14 1 18 1-13 1 21 1-22 1 21 1-13 1-4 1 18 1-16 1 5 1-5 1-7 1 8 1-11 1 18 1 1 1-17 1 17 1-12 1 11 1-7 1-5 1 10 1 0 1 6 1-19 1 14 1 1 1-8 1 3 1 3 1-10 1 2 1 7 1-2 1-15 1 10 1 5 1-3 1-6 1-12 1 27 1-14 1 8 1-8 1 8 1 1 1 0 1-2 1-7 1-14 1 25 1-2 1-3 1-17 1 0 1 0 1 8 1 4 1 11 1-11 1-3 1 7 1 2 1 4 1-14 1 5 1-9 1 13 1 0 1-16 1 10 1 14 1-7 1 2 1-7 1 15 1-23 1 0 1 7 1 0 1 0 1 3 1-14 1 18 1-29 1 30 1-12 1 11 1-2 1-5 1 11 1-18 1 3 1-3 1-2 1 14 1-5 1 0 1-12 1 11 1 6 1-10 1 6 1-11 1-4 1 3 1 15 1-14 1 15 1-4 1-12 1 7 1-15 1 9 1 6 1-9 1 10 1-11 1 31 1-19 1 8 1-7 1 4 1-23 1 13 1 6 1-9 1 30 1-34 1 30 1-19 1-17 1 28 1-2 1 12 1-4 1-19 1 1 1 6 1-7 1 7 1 4 1-5 1 7 1 11 1-19 1-6 1-7 1 5 1 8 1 5 1-6 1-4 1 3 1 4 1-8 1 24 1-26 1-10 1 27 1-17 1 9 1 3 1-13 1 1 1 7 1-17 1 11 1 21 1-30 1 12 1-13 1 23 1 0 1-4 1-8 1-3 1 13 1-38 1 40 1-5 1-22 1 1 1 4 1 10 1 2 1-19 1 32 1-6 1-6 1-1 1-8 1 9 1-2 1-2 1 7 1-5 1 13 1-2 1-8 1 3 1-9 1 5 1-2 1-6 1 25 1-6 1-7 1-20 1 21 1-21 1 7 1 9 1-3 1-2 1 10 1-18 1 9 1 5 1 5 1-11 1 0 1-2 1-13 1 15 1 11 1 0 1 6 1-3 1 3 1-20 1 29 1-34 1 19 1 7 1-5 1-7 1-1 1 5 1-14 1 21 1-3 1-15 1 18 1-4 1-12 1-1 1 0 1-1 1 7 1-2 1 0 1 2 1-9 1 8 1-8 1 8 1-8 1 30 1-40 1 26 1-5 1 2 1-22 1 31 1-11 1 0 1-25 1 9 1 21 1-5 1-4 1 9 1-21 1 10 1 19 1-16 1 1 1 4 1-7 1-4 1 9 1 3 1-9 1 19 1-25 1 22 1-14 1 3 1-7 1 11 1-9 1 19 1-29 1 8 1-3 1 13 1-7 1 6 1-3 1 10 1-10 1 24 1-35 1 22 1-20 1-4 1 6 1 17 1-14 1-3 1-1 1 3 1 4 1 3 1 0 1-4 1 2 1 2 1 1 1-4 1 6 1-14 1 8 1-11 1 18 1 2 1-4 1-4 1-1 1-9 1 29 1-22 1 18 1-7 1-7 1-2 1-12 1 15 1-14 1 5 1 8 1-10 1 13 1-10 1-13 1 12 1 7 1 6 1-4 1 3 1-23 1 9 1 7 1-3 1-15 1 21 1 1 1-18 1 8 1 17 1-16 1 6 1 2 1 1 1 1 1-6 1-6 1 17 1-13 1 18 1-12 1-11 1 9 1 3 1-17 1 8 1 3 1-3 1 18 1-10 1-20 1 10 1-8 1 24 1-5 1-12 1 0 1 28 1-20 1 3 1 4 1-10 1 13 1-12 1-2 1 12 1-6 1 23 1-27 1 5 1 16 1 0 1-15 1-21 1 18 1 13 1-8 1 17 1-14 1 2 1-9 1-10 1 14 1-22 1 20 1-3 1 4 1 8 1-3 1-3 1-18 1 16 1 12 1-17 1 0 1 13 1-14 1 2 1 14 1-21 1 22 1-5 1-15 1 22 1 10 1-19 1-8 1 2 1 4 1 9 1-24 1 2 1 7 1-3 1 22 1-24 1-7 1 5 1 0 1 6 1 0 1 23 1-16 1-7 1 11 1 6 1-11 1 5 1-21 1 16 1-3 1-14 1 23 1-13 1-12 1 23 1-4 1-14 1 1 1 14 1 0 1 0 1 2 1-14 1 10 1 4 1 0 1-16 1 36 1-23 1-7 1 9 1 3 1-14 1 2 1-16 1 25 1-10 1 14 1-22 1 2 1 3 1-4 1 3 1 3 1 4 1-9 1 4 1 8 1-2 1-3 1-12 1 14 1 1 1 11 1-20 1 6 1 0 1 0 1-3 1 21 1-7 1-6 1-11 1 4 1-5 1 6 1-3 1 13 1-2 1-3 1 1 1-9 1 6 1 0 1 1 1-15 1 19 1-11 1 11 1-8 1 0 1 5 1 8 1-13 1 1 1 5 1-1 1 1 1-25 1 26 1 11 1 1 1-23 1 24 1-22 1 10 1-7 1 2 1-8 1 13 1-3 1 7 1 12 1-32 1 25 1-18 1-5 1 6 1 13 1-25 1 27 1-21 1-3 1 25 1-19 1 15 1-14 1 24 1-37 1 11 1 6 1 4 1-18 1 9 1 1 1 8 1-1 1-2 1 7 1-10 1-16 1 12 1-3 1 4 1-19 1 28 1 14 1 11 1-25 1-8 1-8 1 26 1-9 1-21 1 31 1-6 1-7 1 8 1-10 1 19 1-12 1-1 1-16 1 5 1-1 1 17 1-23 1 14 1-15 1 30 1-5 1-4 1-21" stroke="#ff0000" stroke-width="1.35" fill="none" stroke-linejoin="round" vector-effect="non-scaling-stroke" stroke-dasharray="5 2"/></g>
<g transform="scale(0.779 1)">
<path d="M642.55,416.3V599.5H874.65" stroke="#9a9a9a" stroke-width="1.35" fill="none"/>
<path d="M642.55,599.5h2.82M642.55,576.6h2.82M642.55,553.7h2.82M642.55,530.8h2.82M642.55,507.9h2.82M642.55,485h2.82M642.55,462.1h2.82M642.55,439.2h2.82M642.55,416.3h2.82M653.1,599.5v-2.2M688.27,599.5v-2.2M723.44,599.5v-2.2M758.6,599.5v-2.2M793.77,599.5v-2.2M828.93,599.5v-2.2M864.1,599.5v-2.2" stroke="#6a6a6a" stroke-width="1" fill="none"/>
<text x="639.86" y="603.8" font-size="10" textLength="29.7" lengthAdjust="spacingAndGlyphs" text-anchor="end" fill="#262626" stroke="#262626" stroke-width="0.06">−0.20</text>
<text x="639.86" y="580.9" font-size="10" textLength="29.7" lengthAdjust="spacingAndGlyphs" text-anchor="end" fill="#262626" stroke="#262626" stroke-width="0.06">−0.15</text>
<text x="639.86" y="558" font-size="10" textLength="29.7" lengthAdjust="spacingAndGlyphs" text-anchor="end" fill="#262626" stroke="#262626" stroke-width="0.06">−0.10</text>
<text x="639.86" y="535.1" font-size="10" textLength="29.7" lengthAdjust="spacingAndGlyphs" text-anchor="end" fill="#262626" stroke="#262626" stroke-width="0.06">−0.05</text>
<text x="639.86" y="512.2" font-size="10" textLength="21.58" lengthAdjust="spacingAndGlyphs" text-anchor="end" fill="#262626" stroke="#262626" stroke-width="0.06">0.00</text>
<text x="639.86" y="489.3" font-size="10" textLength="21.58" lengthAdjust="spacingAndGlyphs" text-anchor="end" fill="#262626" stroke="#262626" stroke-width="0.06">0.05</text>
<text x="639.86" y="466.4" font-size="10" textLength="21.58" lengthAdjust="spacingAndGlyphs" text-anchor="end" fill="#262626" stroke="#262626" stroke-width="0.06">0.10</text>
<text x="639.86" y="443.5" font-size="10" textLength="21.58" lengthAdjust="spacingAndGlyphs" text-anchor="end" fill="#262626" stroke="#262626" stroke-width="0.06">0.15</text>
<text x="639.86" y="420.6" font-size="10" textLength="21.58" lengthAdjust="spacingAndGlyphs" text-anchor="end" fill="#262626" stroke="#262626" stroke-width="0.06">0.20</text>
<text x="653.1" y="608.8" font-size="10" textLength="6.17" lengthAdjust="spacingAndGlyphs" text-anchor="middle" fill="#262626" stroke="#262626" stroke-width="0.06">0</text>
<text x="688.27" y="608.8" font-size="10" textLength="12.33" lengthAdjust="spacingAndGlyphs" text-anchor="middle" fill="#262626" stroke="#262626" stroke-width="0.06">10</text>
<text x="723.44" y="608.8" font-size="10" textLength="12.33" lengthAdjust="spacingAndGlyphs" text-anchor="middle" fill="#262626" stroke="#262626" stroke-width="0.06">20</text>
<text x="758.6" y="608.8" font-size="10" textLength="12.33" lengthAdjust="spacingAndGlyphs" text-anchor="middle" fill="#262626" stroke="#262626" stroke-width="0.06">30</text>
<text x="793.77" y="608.8" font-size="10" textLength="12.33" lengthAdjust="spacingAndGlyphs" text-anchor="middle" fill="#262626" stroke="#262626" stroke-width="0.06">40</text>
<text x="828.93" y="608.8" font-size="10" textLength="12.33" lengthAdjust="spacingAndGlyphs" text-anchor="middle" fill="#262626" stroke="#262626" stroke-width="0.06">50</text>
<text x="864.1" y="608.8" font-size="10" textLength="12.33" lengthAdjust="spacingAndGlyphs" text-anchor="middle" fill="#262626" stroke="#262626" stroke-width="0.06">60</text>
<g transform="translate(604.62 508.4) scale(1.28 1) rotate(-90) scale(1 0.79)"><text x="0" y="0" font-size="12.8" textLength="108.09" lengthAdjust="spacingAndGlyphs" text-anchor="middle" fill="#262626" stroke="#262626" stroke-width="0.02">ShipWakes (units)</text></g>
<rect x="742.11" y="422.2" width="127.27" height="19.2" rx="1.67" ry="1.6" fill="#ffffff" fill-opacity="0.8" stroke="#d9d9d9" stroke-width="0.8"/>
<path d="M746.22,431.1H769.84" stroke="#ff0000" stroke-width="1.45" fill="none" stroke-dasharray="5.26 2.05"/>
<text x="778.05" y="434.8" font-size="11" textLength="86.19" lengthAdjust="spacingAndGlyphs" text-anchor="start" fill="#262626" stroke="#262626" stroke-width="0.12">ShipWakes (N6)</text>
<text x="175.03" y="15.7" font-size="15.4" textLength="18.23" lengthAdjust="spacingAndGlyphs" text-anchor="middle" fill="#262626" stroke="#262626" stroke-width="0.1">N4</text>
<text x="175.03" y="622" font-size="12.8" textLength="91.63" lengthAdjust="spacingAndGlyphs" text-anchor="middle" fill="#262626" stroke="#262626" stroke-width="0.08">Time (minutes)</text>
<text x="466.82" y="15.7" font-size="15.4" textLength="18.23" lengthAdjust="spacingAndGlyphs" text-anchor="middle" fill="#262626" stroke="#262626" stroke-width="0.1">N5</text>
<text x="466.82" y="622" font-size="12.8" textLength="91.63" lengthAdjust="spacingAndGlyphs" text-anchor="middle" fill="#262626" stroke="#262626" stroke-width="0.08">Time (minutes)</text>
<text x="758.6" y="15.7" font-size="15.4" textLength="18.23" lengthAdjust="spacingAndGlyphs" text-anchor="middle" fill="#262626" stroke="#262626" stroke-width="0.1">N6</text>
<text x="758.6" y="622" font-size="12.8" textLength="91.63" lengthAdjust="spacingAndGlyphs" text-anchor="middle" fill="#262626" stroke="#262626" stroke-width="0.08">Time (minutes)</text>
</g>
</svg>
</body></html>
